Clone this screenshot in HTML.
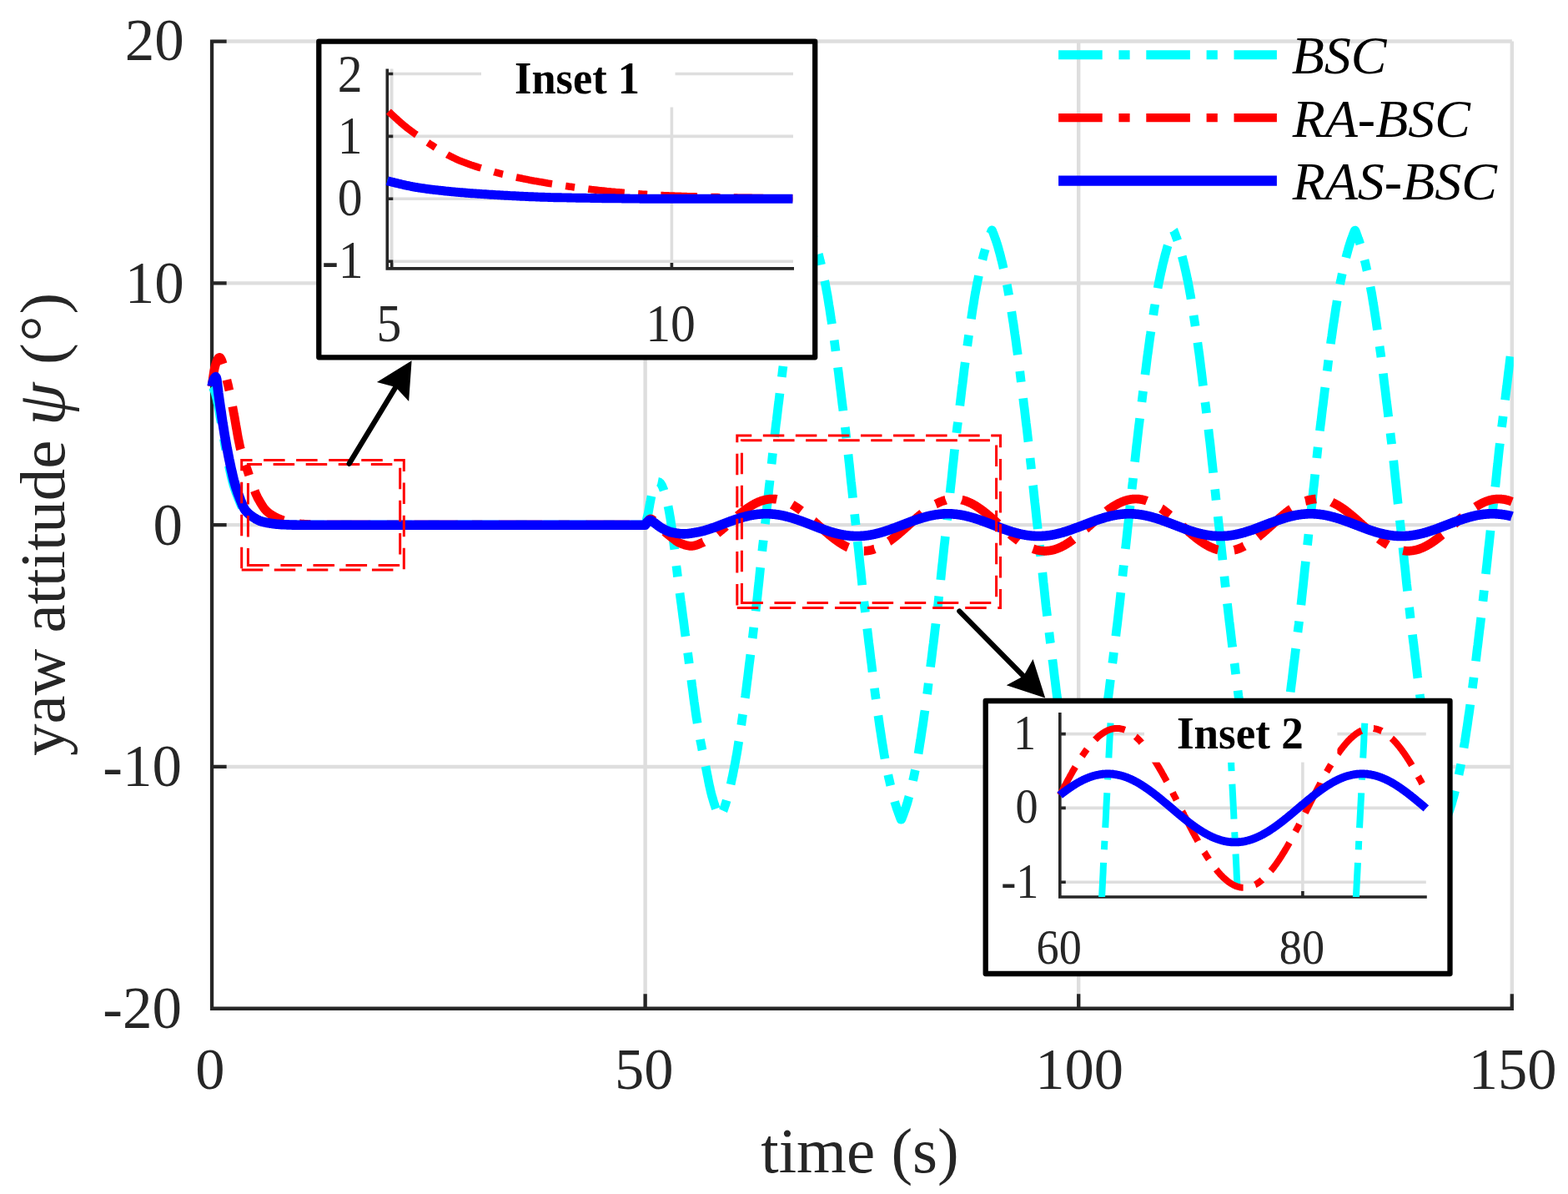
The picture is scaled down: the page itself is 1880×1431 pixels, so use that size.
<!DOCTYPE html>
<html lang="en"><head><meta charset="utf-8"><title>yaw attitude</title>
<style>html,body{margin:0;padding:0;background:#fff}svg{display:block}</style></head>
<body>
<svg width="1880" height="1431" viewBox="0 0 1880 1431" font-family="'Liberation Serif', 'Times New Roman', Times, serif">
<rect width="1880" height="1431" fill="#fff"/>
<clipPath id="cm"><rect x="247.05" y="47.57" width="1567.75" height="1161.18"/></clipPath>
<path d="M254.05 49.57H1812.80M254.05 339.36H1812.80M254.05 629.16H1812.80M254.05 918.95H1812.80M773.63 49.57V1208.75M1293.22 49.57V1208.75M1812.80 49.57V1208.75" stroke="#dedede" stroke-width="4.4" fill="none"/>
<path d="M254.05 47.42V1208.75M251.90 1208.75H1814.95M254.05 49.57h17.6M254.05 339.36h17.6M254.05 629.16h17.6M254.05 918.95h17.6M254.05 1208.75h17.6M254.05 1208.75v-17.6M773.63 1208.75v-17.6M1293.22 1208.75v-17.6M1812.80 1208.75v-17.6" stroke="#262626" stroke-width="4.3" fill="none"/>
<g clip-path="url(#cm)" fill="none" stroke-linejoin="round">
<path d="M254.1 463.1L254.6 463.6L255.1 464.2L255.6 465.1L256.1 466.1L256.6 467.2L257.2 468.3L257.7 469.7L258.2 471.4L258.7 473.3L259.2 475.4L259.8 477.6L260.3 479.9L260.8 482.3L261.3 484.8L261.8 487.5L262.4 490.4L262.9 493.3L263.4 496.3L263.9 499.4L264.4 502.5L265.0 505.5L265.5 508.6L266.0 511.5L266.5 514.5L267.0 517.5L267.6 520.6L268.1 523.7L268.6 526.9L269.1 530.0L269.6 533.0L270.2 536.0L270.7 539.0L271.2 541.8L271.7 544.5L272.2 547.2L272.8 549.9L273.3 552.5L273.8 555.1L274.3 557.6L274.8 560.2L275.4 562.6L275.9 565.1L276.4 567.4L276.9 569.7L277.4 571.9L278.0 574.0L278.5 576.0L279.0 577.9L279.5 579.7L280.0 581.4L280.5 583.1L281.1 584.7L281.6 586.3L282.1 587.8L282.6 589.2L283.1 590.6L283.7 592.0L284.2 593.4L284.7 594.7L285.2 596.0L285.7 597.3L286.3 598.6L286.8 599.9L287.3 601.2L287.8 602.5L288.3 603.7L288.9 604.9L289.4 606.1L289.9 607.2L290.4 608.2L290.9 609.1L291.5 610.0L292.0 610.8L292.5 611.5L293.0 612.1L293.5 612.7L294.1 613.3L294.6 613.8L295.1 614.3L295.6 614.8L296.1 615.3L296.7 615.7L297.2 616.1L297.7 616.5L298.2 616.9L298.7 617.3L299.3 617.7L299.8 618.0L300.3 618.3L300.8 618.7L301.3 619.0L301.9 619.3L302.4 619.6L302.9 619.9L303.4 620.1L303.9 620.4L304.4 620.6L305.0 620.8L305.5 621.1L306.0 621.3L306.5 621.6L307.0 621.9L307.6 622.2L308.1 622.5L308.6 622.8L309.1 623.1L309.6 623.3L310.2 623.6L310.7 623.9L311.2 624.1L311.7 624.3L312.2 624.4L312.8 624.6L313.3 624.8L313.8 624.9L314.3 625.1L314.8 625.2L315.4 625.4L315.9 625.5L316.4 625.7L316.9 625.8L317.4 625.9L318.0 626.0L318.5 626.1L319.0 626.2L319.5 626.4L320.0 626.5L320.6 626.6L321.1 626.6L321.6 626.7L322.1 626.8L322.6 626.9L323.2 627.0L323.7 627.1L324.2 627.2L324.7 627.2L325.2 627.3L325.8 627.4L326.3 627.5L326.8 627.5L327.3 627.6L327.8 627.7L328.4 627.8L328.9 627.8L329.4 627.9L329.9 628.0L330.4 628.0L330.9 628.1L331.5 628.1L332.0 628.2L332.5 628.2L333.0 628.3L333.5 628.3L334.1 628.4L334.6 628.4L335.1 628.5L335.6 628.5L336.1 628.5L336.7 628.6L337.2 628.6L337.7 628.6L338.2 628.6L338.7 628.7L339.3 628.7L339.8 628.7L340.3 628.7L340.8 628.7L341.3 628.8L341.9 628.8L342.4 628.8L342.9 628.8L343.4 628.8L343.9 628.9L344.5 628.9L345.0 628.9L345.5 628.9L346.0 628.9L346.5 629.0L347.1 629.0L347.6 629.0L348.1 629.0L348.6 629.0L349.1 629.0L349.7 629.0L350.2 629.1L350.7 629.1L351.2 629.1L351.7 629.1L352.3 629.1L352.8 629.1L353.3 629.1L353.8 629.1L354.3 629.1L354.8 629.1L355.4 629.1L355.9 629.2L356.4 629.2L356.9 629.2L357.4 629.2L358.0 629.2L358.5 629.2L359.0 629.2L359.5 629.2L360.0 629.2L360.6 629.2L361.1 629.2L361.6 629.2L362.1 629.2L362.6 629.2L363.2 629.2L363.7 629.2L364.2 629.2L364.7 629.2L365.2 629.2L365.8 629.2L366.3 629.2L366.8 629.2L367.3 629.2L367.8 629.2L368.4 629.2L368.9 629.2L369.4 629.2L369.9 629.2L370.4 629.2L371.0 629.2L371.5 629.2L372.0 629.2L372.5 629.2L373.0 629.2L373.6 629.2L374.1 629.2L374.6 629.2L375.1 629.2L375.6 629.2L376.2 629.2L376.7 629.2L377.2 629.2L377.7 629.2L378.2 629.2L378.8 629.2L399.5 629.2L420.3 629.2L441.1 629.2L461.9 629.2L482.7 629.2L503.5 629.2L524.2 629.2L545.0 629.2L565.8 629.2L586.6 629.2L607.4 629.2L628.2 629.2L648.9 629.2L669.7 629.2L690.5 629.2L711.3 629.2L732.1 629.2L752.9 629.2L772.6 629.2L773.1 629.2L773.6 629.2L774.2 627.3L774.7 625.3L775.2 623.3L775.7 621.2L776.2 619.1L776.8 616.8L777.3 614.4L777.8 611.7L778.3 608.9L778.8 606.0L779.3 603.1L779.9 600.3L780.4 597.6L780.9 595.2L781.4 592.9L781.9 591.0L782.5 589.3L783.0 587.6L783.5 586.0L784.0 584.6L784.5 583.2L785.1 582.1L785.6 581.1L786.1 580.1L786.6 579.2L787.1 578.3L787.7 577.7L788.2 577.3L788.7 577.3L789.2 577.4L789.7 577.6L790.3 577.9L790.8 578.2L791.3 578.6L791.8 579.1L792.3 579.8L792.9 580.6L793.4 581.5L793.9 582.5L794.4 583.6L794.9 584.9L795.5 586.2L796.0 587.7L796.5 589.3L797.0 591.0L797.5 592.8L798.1 594.6L798.6 596.6L799.1 598.7L799.6 600.8L800.1 603.0L800.7 605.2L801.2 607.5L801.7 610.0L802.2 612.6L802.7 615.4L803.2 618.4L803.8 621.6L804.3 625.0L804.8 628.5L805.3 632.1L805.8 635.9L806.4 639.7L806.9 643.6L807.4 647.6L807.9 651.7L808.4 655.8L809.0 659.9L809.5 664.3L810.0 669.0L810.5 674.0L811.0 678.9L811.6 683.6L812.1 688.0L812.6 692.1L813.1 696.1L813.6 700.1L814.2 703.9L814.7 707.8L815.2 711.8L815.7 715.7L816.2 719.7L816.8 723.6L817.3 727.6L817.8 731.5L818.3 735.4L818.8 739.4L819.4 743.3L819.9 747.2L820.4 751.1L820.9 755.1L821.4 759.0L822.0 762.9L822.5 766.8L823.0 770.7L823.5 774.5L824.0 778.4L824.6 782.3L825.1 786.1L825.6 790.0L826.1 793.9L826.6 797.8L827.2 801.7L827.7 805.7L828.2 809.7L828.7 813.7L829.2 817.7L829.7 821.7L830.3 825.7L830.8 829.7L831.3 833.6L831.8 837.5L832.3 841.3L832.9 845.1L833.4 848.8L833.9 852.5L834.4 856.0L834.9 859.5L835.5 862.8L836.0 866.1L836.5 869.3L837.0 872.3L837.5 875.3L838.1 878.3L838.6 881.1L839.1 883.9L839.6 886.7L840.1 889.4L840.7 892.1L841.2 894.8L841.7 897.4L842.2 900.0L842.7 902.5L843.3 905.1L843.8 907.6L844.3 910.2L844.8 912.7L845.3 915.3L845.9 917.8L846.4 920.4L846.9 923.0L847.4 925.6L847.9 928.3L848.5 930.9L849.0 933.6L849.5 936.2L850.0 938.7L850.5 941.2L851.1 943.6L851.6 946.0L852.1 948.2L852.6 950.3L853.1 952.2L853.6 954.2L854.2 956.0L854.7 957.8L855.2 959.6L855.7 961.3L856.2 962.9L856.8 964.5L857.3 966.1L857.8 967.6L858.3 969.1L858.8 970.5L859.4 972.0L859.9 973.4L860.4 974.7L860.9 975.9L861.4 976.9L862.0 977.9L862.5 978.8L863.0 979.2L863.5 978.9L864.0 978.1L864.6 977.2L865.1 976.3L865.6 975.2L866.1 974.0L866.6 972.7L867.2 971.4L867.7 970.0L868.2 968.6L868.7 967.1L869.2 965.6L869.8 964.0L870.3 962.3L870.8 960.6L871.3 958.9L871.8 957.1L872.4 955.2L872.9 953.3L873.4 951.4L873.9 949.4L874.4 947.4L875.0 945.2L875.5 943.0L876.0 940.7L876.5 938.4L877.0 936.0L877.5 933.6L878.1 931.1L878.6 928.6L879.1 926.0L879.6 923.4L880.1 920.8L880.7 918.1L881.2 915.4L881.7 912.7L882.2 909.9L882.7 907.0L883.3 904.0L883.8 900.9L884.3 897.8L884.8 894.5L885.3 891.3L885.9 887.9L886.4 884.6L886.9 881.2L887.4 877.8L887.9 874.4L888.5 870.9L889.0 867.4L889.5 863.8L890.0 860.3L890.5 856.6L891.1 853.0L891.6 849.3L892.1 845.5L892.6 841.7L893.1 837.9L893.7 834.0L894.2 830.1L894.7 826.1L895.2 822.0L895.7 817.8L896.3 813.6L896.8 809.4L897.3 805.1L897.8 800.8L898.3 796.6L898.9 792.3L899.4 788.1L899.9 783.9L900.4 779.7L900.9 775.4L901.5 771.2L902.0 766.9L902.5 762.7L903.0 758.4L903.5 754.1L904.0 749.8L904.6 745.4L905.1 741.0L905.6 736.6L906.1 732.1L906.6 727.6L907.2 723.0L907.7 718.4L908.2 713.7L908.7 708.8L909.2 703.9L909.8 699.0L910.3 694.0L910.8 689.0L911.3 684.0L911.8 679.1L912.4 674.2L912.9 669.3L913.4 664.5L913.9 659.7L914.4 654.9L915.0 650.1L915.5 645.3L916.0 640.6L916.5 635.8L917.0 631.1L917.6 626.3L918.1 621.6L918.6 616.8L919.1 612.1L919.6 607.3L920.2 602.5L920.7 597.7L921.2 592.9L921.7 588.0L922.2 583.2L922.8 578.3L923.3 573.3L923.8 568.3L924.3 563.3L924.8 558.4L925.4 553.4L925.9 548.5L926.4 543.7L926.9 539.0L927.4 534.4L927.9 529.8L928.5 525.3L929.0 520.8L929.5 516.4L930.0 512.0L930.5 507.7L931.1 503.4L931.6 499.1L932.1 494.8L932.6 490.5L933.1 486.3L933.7 482.1L934.2 477.8L934.7 473.6L935.2 469.4L935.7 465.2L936.3 460.9L936.8 456.7L937.3 452.4L937.8 448.1L938.3 443.9L938.9 439.6L939.4 435.5L939.9 431.4L940.4 427.4L940.9 423.5L941.5 419.7L942.0 415.8L942.5 412.1L943.0 408.3L943.5 404.6L944.1 401.0L944.6 397.3L945.1 393.8L945.6 390.2L946.1 386.7L946.7 383.3L947.2 379.8L947.7 376.4L948.2 373.1L948.7 369.7L949.3 366.4L949.8 363.1L950.3 359.9L950.8 356.8L951.3 353.7L951.9 350.7L952.4 347.8L952.9 345.1L953.4 342.3L953.9 339.7L954.4 337.1L955.0 334.6L955.5 332.1L956.0 329.7L956.5 327.3L957.0 325.0L957.6 322.7L958.1 320.4L958.6 318.2L959.1 316.0L959.6 313.8L960.2 311.7L960.7 309.6L961.2 307.6L961.7 305.6L962.2 303.6L962.8 301.7L963.3 299.8L963.8 298.0L964.3 296.2L964.8 294.4L965.4 292.7L965.9 291.1L966.4 289.5L966.9 288.0L967.4 286.6L968.0 285.1L968.5 283.7L969.0 282.3L969.5 280.9L970.0 279.6L970.6 278.2L971.1 276.7L971.6 276.0L972.1 276.4L972.6 277.8L973.2 279.3L973.7 280.6L974.2 281.9L974.7 283.3L975.2 284.8L975.8 286.2L976.3 287.7L976.8 289.2L977.3 290.7L977.8 292.3L978.3 294.0L978.9 295.7L979.4 297.5L979.9 299.4L980.4 301.2L980.9 303.2L981.5 305.1L982.0 307.1L982.5 309.1L983.0 311.2L983.5 313.3L984.1 315.4L984.6 317.6L985.1 319.9L985.6 322.1L986.1 324.4L986.7 326.8L987.2 329.1L987.7 331.5L988.2 334.0L988.7 336.5L989.3 339.1L989.8 341.7L990.3 344.4L990.8 347.2L991.3 350.0L991.9 353.0L992.4 356.0L992.9 359.2L993.4 362.4L993.9 365.6L994.5 368.9L995.0 372.3L995.5 375.6L996.0 379.0L996.5 382.4L997.1 385.9L997.6 389.4L998.1 392.9L998.6 396.5L999.1 400.1L999.7 403.7L1000.2 407.4L1000.7 411.2L1001.2 414.9L1001.7 418.7L1002.2 422.6L1002.8 426.5L1003.3 430.4L1003.8 434.5L1004.3 438.6L1004.8 442.8L1005.4 447.1L1005.9 451.4L1006.4 455.6L1006.9 459.9L1007.4 464.1L1008.0 468.4L1008.5 472.6L1009.0 476.8L1009.5 481.0L1010.0 485.3L1010.6 489.5L1011.1 493.8L1011.6 498.0L1012.1 502.3L1012.6 506.6L1013.2 511.0L1013.7 515.4L1014.2 519.8L1014.7 524.2L1015.2 528.7L1015.8 533.3L1016.3 537.9L1016.8 542.6L1017.3 547.4L1017.8 552.2L1018.4 557.2L1018.9 562.1L1019.4 567.1L1019.9 572.1L1020.4 577.1L1021.0 582.0L1021.5 586.9L1022.0 591.7L1022.5 596.5L1023.0 601.3L1023.6 606.1L1024.1 610.8L1024.6 615.6L1025.1 620.4L1025.6 625.1L1026.2 629.9L1026.7 634.7L1027.2 639.5L1027.7 644.2L1028.2 649.0L1028.7 653.8L1029.3 658.6L1029.8 663.4L1030.3 668.2L1030.8 673.0L1031.3 677.9L1031.9 682.8L1032.4 687.8L1032.9 692.8L1033.4 697.8L1033.9 702.7L1034.5 707.6L1035.0 712.5L1035.5 717.3L1036.0 721.9L1036.5 726.5L1037.1 731.0L1037.6 735.5L1038.1 740.0L1038.6 744.4L1039.1 748.7L1039.7 753.1L1040.2 757.4L1040.7 761.7L1041.2 765.9L1041.7 770.2L1042.3 774.4L1042.8 778.6L1043.3 782.9L1043.8 787.1L1044.3 791.3L1044.9 795.5L1045.4 799.8L1045.9 804.1L1046.4 808.3L1046.9 812.6L1047.5 816.8L1048.0 821.0L1048.5 825.1L1049.0 829.2L1049.5 833.1L1050.1 837.0L1050.6 840.8L1051.1 844.6L1051.6 848.4L1052.1 852.1L1052.6 855.7L1053.2 859.4L1053.7 863.0L1054.2 866.5L1054.7 870.1L1055.2 873.5L1055.8 877.0L1056.3 880.4L1056.8 883.8L1057.3 887.1L1057.8 890.5L1058.4 893.7L1058.9 897.0L1059.4 900.2L1059.9 903.3L1060.4 906.3L1061.0 909.2L1061.5 912.1L1062.0 914.8L1062.5 917.5L1063.0 920.1L1063.6 922.6L1064.1 925.1L1064.6 927.5L1065.1 929.9L1065.6 932.3L1066.2 934.6L1066.7 936.9L1067.2 939.2L1067.7 941.4L1068.2 943.6L1068.8 945.7L1069.3 947.8L1069.8 949.9L1070.3 951.9L1070.8 953.8L1071.4 955.8L1071.9 957.7L1072.4 959.6L1072.9 961.4L1073.4 963.1L1074.0 964.9L1074.5 966.5L1075.0 968.1L1075.5 969.6L1076.0 971.1L1076.6 972.6L1077.1 974.0L1077.6 975.4L1078.1 976.8L1078.6 978.2L1079.1 979.5L1079.7 981.0L1080.2 982.2L1080.7 982.2L1081.2 981.2L1081.7 979.7L1082.3 978.3L1082.8 977.0L1083.3 975.6L1083.8 974.2L1084.3 972.8L1084.9 971.3L1085.4 969.8L1085.9 968.3L1086.4 966.7L1086.9 965.1L1087.5 963.4L1088.0 961.6L1088.5 959.8L1089.0 957.9L1089.5 956.0L1090.1 954.1L1090.6 952.1L1091.1 950.1L1091.6 948.1L1092.1 946.0L1092.7 943.8L1093.2 941.7L1093.7 939.4L1094.2 937.2L1094.7 934.9L1095.3 932.6L1095.8 930.2L1096.3 927.8L1096.8 925.4L1097.3 922.9L1097.9 920.4L1098.4 917.8L1098.9 915.1L1099.4 912.4L1099.9 909.6L1100.5 906.7L1101.0 903.6L1101.5 900.5L1102.0 897.4L1102.5 894.1L1103.0 890.9L1103.6 887.5L1104.1 884.2L1104.6 880.8L1105.1 877.4L1105.6 874.0L1106.2 870.5L1106.7 867.0L1107.2 863.4L1107.7 859.8L1108.2 856.2L1108.8 852.5L1109.3 848.8L1109.8 845.1L1110.3 841.3L1110.8 837.4L1111.4 833.6L1111.9 829.6L1112.4 825.6L1112.9 821.5L1113.4 817.3L1114.0 813.1L1114.5 808.8L1115.0 804.6L1115.5 800.3L1116.0 796.0L1116.6 791.8L1117.1 787.6L1117.6 783.4L1118.1 779.1L1118.6 774.9L1119.2 770.7L1119.7 766.4L1120.2 762.2L1120.7 757.9L1121.2 753.6L1121.8 749.3L1122.3 744.9L1122.8 740.5L1123.3 736.1L1123.8 731.6L1124.4 727.1L1124.9 722.5L1125.4 717.8L1125.9 713.1L1126.4 708.2L1127.0 703.3L1127.5 698.4L1128.0 693.4L1128.5 688.4L1129.0 683.4L1129.5 678.5L1130.1 673.6L1130.6 668.7L1131.1 663.9L1131.6 659.1L1132.1 654.3L1132.7 649.5L1133.2 644.7L1133.7 640.0L1134.2 635.2L1134.7 630.5L1135.3 625.8L1135.8 621.0L1136.3 616.2L1136.8 611.5L1137.3 606.7L1137.9 601.9L1138.4 597.1L1138.9 592.3L1139.4 587.5L1139.9 582.6L1140.5 577.7L1141.0 572.7L1141.5 567.7L1142.0 562.7L1142.5 557.8L1143.1 552.8L1143.6 547.9L1144.1 543.1L1144.6 538.4L1145.1 533.8L1145.7 529.3L1146.2 524.8L1146.7 520.3L1147.2 515.9L1147.7 511.5L1148.3 507.2L1148.8 502.8L1149.3 498.5L1149.8 494.3L1150.3 490.0L1150.9 485.8L1151.4 481.5L1151.9 477.3L1152.4 473.1L1152.9 468.9L1153.4 464.6L1154.0 460.4L1154.5 456.1L1155.0 451.9L1155.5 447.6L1156.0 443.3L1156.6 439.1L1157.1 435.0L1157.6 430.9L1158.1 426.9L1158.6 423.1L1159.2 419.2L1159.7 415.4L1160.2 411.6L1160.7 407.9L1161.2 404.2L1161.8 400.5L1162.3 396.9L1162.8 393.3L1163.3 389.8L1163.8 386.3L1164.4 382.8L1164.9 379.4L1165.4 376.0L1165.9 372.7L1166.4 369.3L1167.0 366.0L1167.5 362.8L1168.0 359.5L1168.5 356.4L1169.0 353.3L1169.6 350.4L1170.1 347.5L1170.6 344.7L1171.1 342.0L1171.6 339.4L1172.2 336.8L1172.7 334.3L1173.2 331.8L1173.7 329.4L1174.2 327.1L1174.8 324.7L1175.3 322.4L1175.8 320.1L1176.3 317.9L1176.8 315.7L1177.3 313.5L1177.9 311.4L1178.4 309.4L1178.9 307.3L1179.4 305.3L1179.9 303.4L1180.5 301.5L1181.0 299.6L1181.5 297.7L1182.0 295.9L1182.5 294.2L1183.1 292.5L1183.6 290.9L1184.1 289.4L1184.6 287.8L1185.1 286.4L1185.7 284.9L1186.2 283.5L1186.7 282.1L1187.2 280.7L1187.7 279.4L1188.3 278.0L1188.8 276.6L1189.3 275.9L1189.8 276.6L1190.3 278.0L1190.9 279.4L1191.4 280.7L1191.9 282.1L1192.4 283.5L1192.9 284.9L1193.5 286.4L1194.0 287.8L1194.5 289.4L1195.0 290.9L1195.5 292.5L1196.1 294.2L1196.6 295.9L1197.1 297.7L1197.6 299.6L1198.1 301.5L1198.7 303.4L1199.2 305.3L1199.7 307.3L1200.2 309.4L1200.7 311.4L1201.3 313.5L1201.8 315.7L1202.3 317.9L1202.8 320.1L1203.3 322.4L1203.8 324.7L1204.4 327.1L1204.9 329.4L1205.4 331.8L1205.9 334.3L1206.4 336.8L1207.0 339.4L1207.5 342.0L1208.0 344.7L1208.5 347.5L1209.0 350.4L1209.6 353.3L1210.1 356.4L1210.6 359.5L1211.1 362.8L1211.6 366.0L1212.2 369.3L1212.7 372.7L1213.2 376.0L1213.7 379.4L1214.2 382.8L1214.8 386.3L1215.3 389.8L1215.8 393.3L1216.3 396.9L1216.8 400.5L1217.4 404.2L1217.9 407.9L1218.4 411.6L1218.9 415.4L1219.4 419.2L1220.0 423.1L1220.5 426.9L1221.0 430.9L1221.5 435.0L1222.0 439.1L1222.6 443.3L1223.1 447.6L1223.6 451.9L1224.1 456.1L1224.6 460.4L1225.2 464.6L1225.7 468.9L1226.2 473.1L1226.7 477.3L1227.2 481.5L1227.7 485.8L1228.3 490.0L1228.8 494.3L1229.3 498.5L1229.8 502.8L1230.3 507.2L1230.9 511.5L1231.4 515.9L1231.9 520.3L1232.4 524.8L1232.9 529.3L1233.5 533.8L1234.0 538.4L1234.5 543.1L1235.0 547.9L1235.5 552.8L1236.1 557.8L1236.6 562.7L1237.1 567.7L1237.6 572.7L1238.1 577.7L1238.7 582.6L1239.2 587.5L1239.7 592.3L1240.2 597.1L1240.7 601.9L1241.3 606.6L1241.8 611.4L1242.3 616.2L1242.8 620.9L1243.3 625.7L1243.9 630.5L1244.4 635.3L1244.9 640.0L1245.4 644.8L1245.9 649.6L1246.5 654.4L1247.0 659.1L1247.5 663.9L1248.0 668.7L1248.5 673.6L1249.1 678.5L1249.6 683.4L1250.1 688.4L1250.6 693.4L1251.1 698.4L1251.7 703.3L1252.2 708.2L1252.7 713.1L1253.2 717.8L1253.7 722.5L1254.2 727.1L1254.8 731.6L1255.3 736.1L1255.8 740.5L1256.3 744.9L1256.8 749.3L1257.4 753.6L1257.9 757.9L1258.4 762.2L1258.9 766.4L1259.4 770.7L1260.0 774.9L1260.5 779.1L1261.0 783.4L1261.5 787.6L1262.0 791.8L1262.6 796.0L1263.1 800.3L1263.6 804.6L1264.1 808.8L1264.6 813.1L1265.2 817.3L1265.7 821.5L1266.2 825.6L1266.7 829.6L1267.2 833.6L1267.8 837.4L1268.3 841.3L1268.8 845.1L1269.3 848.8L1269.8 852.5L1270.4 856.2L1270.9 859.8L1271.4 863.4L1271.9 867.0L1272.4 870.5L1273.0 874.0L1273.5 877.4L1274.0 880.8L1274.5 884.2L1275.0 887.5L1275.6 890.9L1276.1 894.1L1276.6 897.4L1277.1 900.5L1277.6 903.6L1278.1 906.7L1278.7 909.6L1279.2 912.4L1279.7 915.1L1280.2 917.8L1280.7 920.4L1281.3 922.9L1281.8 925.4L1282.3 927.8L1282.8 930.2L1283.3 932.6L1283.9 934.9L1284.4 937.2L1284.9 939.4L1285.4 941.7L1285.9 943.8L1286.5 946.0L1287.0 948.1L1287.5 950.1L1288.0 952.1L1288.5 954.1L1289.1 956.0L1289.6 957.9L1290.1 959.8L1290.6 961.6L1291.1 963.4L1291.7 965.1L1292.2 966.7L1292.7 968.3L1293.2 969.8L1293.7 971.3L1294.3 972.8L1294.8 974.2L1295.3 975.6L1295.8 977.0L1296.3 978.3L1296.9 979.7L1297.4 981.2L1297.9 982.2L1298.4 982.2L1298.9 981.0L1299.5 979.5L1300.0 978.2L1300.5 976.8L1301.0 975.4L1301.5 974.0L1302.0 972.6L1302.6 971.1L1303.1 969.6L1303.6 968.1L1304.1 966.5L1304.6 964.9L1305.2 963.1L1305.7 961.4L1306.2 959.6L1306.7 957.7L1307.2 955.8L1307.8 953.8L1308.3 951.9L1308.8 949.9L1309.3 947.8L1309.8 945.7L1310.4 943.6L1310.9 941.4L1311.4 939.2L1311.9 936.9L1312.4 934.6L1313.0 932.3L1313.5 929.9L1314.0 927.5L1314.5 925.1L1315.0 922.6L1315.6 920.1L1316.1 917.5L1316.6 914.8L1317.1 912.1L1317.6 909.2L1318.2 906.3L1318.7 903.3L1319.2 900.2L1319.7 897.0L1320.2 893.7L1320.8 890.5L1321.3 887.1L1321.8 883.8L1322.3 880.4L1322.8 877.0L1323.4 873.5L1323.9 870.1L1324.4 866.5L1324.9 863.0L1325.4 859.4L1326.0 855.7L1326.5 852.1L1327.0 848.4L1327.5 844.6L1328.0 840.8L1328.5 837.0L1329.1 833.1L1329.6 829.2L1330.1 825.1L1330.6 821.0L1331.1 816.8L1331.7 812.6L1332.2 808.3L1332.7 804.1L1333.2 799.8L1333.7 795.5L1334.3 791.3L1334.8 787.1L1335.3 782.9L1335.8 778.6L1336.3 774.4L1336.9 770.2L1337.4 765.9L1337.9 761.7L1338.4 757.4L1338.9 753.1L1339.5 748.7L1340.0 744.4L1340.5 740.0L1341.0 735.5L1341.5 731.0L1342.1 726.5L1342.6 721.9L1343.1 717.3L1343.6 712.5L1344.1 707.6L1344.7 702.7L1345.2 697.8L1345.7 692.8L1346.2 687.8L1346.7 682.8L1347.3 677.9L1347.8 673.0L1348.3 668.2L1348.8 663.3L1349.3 658.5L1349.9 653.7L1350.4 648.9L1350.9 644.2L1351.4 639.4L1351.9 634.7L1352.4 629.9L1353.0 625.2L1353.5 620.4L1354.0 615.7L1354.5 610.9L1355.0 606.1L1355.6 601.3L1356.1 596.5L1356.6 591.7L1357.1 586.9L1357.6 582.0L1358.2 577.1L1358.7 572.1L1359.2 567.1L1359.7 562.1L1360.2 557.2L1360.8 552.2L1361.3 547.4L1361.8 542.6L1362.3 537.9L1362.8 533.3L1363.4 528.7L1363.9 524.2L1364.4 519.8L1364.9 515.4L1365.4 511.0L1366.0 506.6L1366.5 502.3L1367.0 498.0L1367.5 493.8L1368.0 489.5L1368.6 485.3L1369.1 481.0L1369.6 476.8L1370.1 472.6L1370.6 468.4L1371.2 464.1L1371.7 459.9L1372.2 455.6L1372.7 451.4L1373.2 447.1L1373.8 442.8L1374.3 438.6L1374.8 434.5L1375.3 430.4L1375.8 426.5L1376.4 422.6L1376.9 418.7L1377.4 414.9L1377.9 411.2L1378.4 407.4L1378.9 403.7L1379.5 400.1L1380.0 396.5L1380.5 392.9L1381.0 389.4L1381.5 385.9L1382.1 382.4L1382.6 379.0L1383.1 375.6L1383.6 372.3L1384.1 368.9L1384.7 365.6L1385.2 362.4L1385.7 359.2L1386.2 356.0L1386.7 353.0L1387.3 350.0L1387.8 347.2L1388.3 344.4L1388.8 341.7L1389.3 339.1L1389.9 336.5L1390.4 334.0L1390.9 331.5L1391.4 329.1L1391.9 326.8L1392.5 324.4L1393.0 322.1L1393.5 319.9L1394.0 317.6L1394.5 315.4L1395.1 313.3L1395.6 311.2L1396.1 309.1L1396.6 307.1L1397.1 305.1L1397.7 303.2L1398.2 301.2L1398.7 299.4L1399.2 297.5L1399.7 295.7L1400.3 294.0L1400.8 292.3L1401.3 290.7L1401.8 289.2L1402.3 287.7L1402.8 286.2L1403.4 284.8L1403.9 283.3L1404.4 281.9L1404.9 280.6L1405.4 279.3L1406.0 277.8L1406.5 276.4L1407.0 276.0L1407.5 276.7L1408.0 278.2L1408.6 279.6L1409.1 280.9L1409.6 282.3L1410.1 283.7L1410.6 285.1L1411.2 286.6L1411.7 288.0L1412.2 289.5L1412.7 291.1L1413.2 292.7L1413.8 294.4L1414.3 296.2L1414.8 298.0L1415.3 299.8L1415.8 301.7L1416.4 303.6L1416.9 305.6L1417.4 307.6L1417.9 309.6L1418.4 311.7L1419.0 313.8L1419.5 316.0L1420.0 318.2L1420.5 320.4L1421.0 322.7L1421.6 325.0L1422.1 327.3L1422.6 329.7L1423.1 332.1L1423.6 334.6L1424.2 337.1L1424.7 339.7L1425.2 342.3L1425.7 345.1L1426.2 347.8L1426.7 350.7L1427.3 353.7L1427.8 356.8L1428.3 359.9L1428.8 363.1L1429.3 366.4L1429.9 369.7L1430.4 373.1L1430.9 376.4L1431.4 379.8L1431.9 383.3L1432.5 386.7L1433.0 390.2L1433.5 393.8L1434.0 397.3L1434.5 401.0L1435.1 404.6L1435.6 408.3L1436.1 412.1L1436.6 415.8L1437.1 419.7L1437.7 423.5L1438.2 427.4L1438.7 431.4L1439.2 435.5L1439.7 439.6L1440.3 443.9L1440.8 448.1L1441.3 452.4L1441.8 456.7L1442.3 460.9L1442.9 465.2L1443.4 469.4L1443.9 473.6L1444.4 477.8L1444.9 482.1L1445.5 486.3L1446.0 490.5L1446.5 494.8L1447.0 499.1L1447.5 503.4L1448.1 507.7L1448.6 512.0L1449.1 516.4L1449.6 520.8L1450.1 525.3L1450.7 529.8L1451.2 534.4L1451.7 539.0L1452.2 543.7L1452.7 548.5L1453.2 553.4L1453.8 558.4L1454.3 563.3L1454.8 568.3L1455.3 573.3L1455.8 578.3L1456.4 583.2L1456.9 588.0L1457.4 592.9L1457.9 597.7L1458.4 602.4L1459.0 607.2L1459.5 612.0L1460.0 616.8L1460.5 621.5L1461.0 626.3L1461.6 631.1L1462.1 635.9L1462.6 640.6L1463.1 645.4L1463.6 650.2L1464.2 654.9L1464.7 659.7L1465.2 664.5L1465.7 669.3L1466.2 674.2L1466.8 679.1L1467.3 684.0L1467.8 689.0L1468.3 694.0L1468.8 699.0L1469.4 703.9L1469.9 708.8L1470.4 713.7L1470.9 718.4L1471.4 723.0L1472.0 727.6L1472.5 732.1L1473.0 736.6L1473.5 741.0L1474.0 745.4L1474.6 749.8L1475.1 754.1L1475.6 758.4L1476.1 762.7L1476.6 766.9L1477.1 771.2L1477.7 775.4L1478.2 779.7L1478.7 783.9L1479.2 788.1L1479.7 792.3L1480.3 796.6L1480.8 800.8L1481.3 805.1L1481.8 809.4L1482.3 813.6L1482.9 817.8L1483.4 822.0L1483.9 826.1L1484.4 830.1L1484.9 834.0L1485.5 837.9L1486.0 841.7L1486.5 845.5L1487.0 849.3L1487.5 853.0L1488.1 856.6L1488.6 860.3L1489.1 863.8L1489.6 867.4L1490.1 870.9L1490.7 874.4L1491.2 877.8L1491.7 881.2L1492.2 884.6L1492.7 887.9L1493.3 891.3L1493.8 894.5L1494.3 897.8L1494.8 900.9L1495.3 904.0L1495.9 907.0L1496.4 909.9L1496.9 912.7L1497.4 915.4L1497.9 918.1L1498.5 920.7L1499.0 923.2L1499.5 925.7L1500.0 928.1L1500.5 930.5L1501.0 932.9L1501.6 935.2L1502.1 937.5L1502.6 939.7L1503.1 941.9L1503.6 944.1L1504.2 946.2L1504.7 948.3L1505.2 950.3L1505.7 952.4L1506.2 954.3L1506.8 956.2L1507.3 958.1L1507.8 960.0L1508.3 961.8L1508.8 963.6L1509.4 965.3L1509.9 966.9L1510.4 968.5L1510.9 970.0L1511.4 971.5L1512.0 972.9L1512.5 974.4L1513.0 975.8L1513.5 977.2L1514.0 978.5L1514.6 979.9L1515.1 981.4L1515.6 982.3L1516.1 982.1L1516.6 980.8L1517.2 979.3L1517.7 978.0L1518.2 976.7L1518.7 975.3L1519.2 973.8L1519.8 972.4L1520.3 970.9L1520.8 969.4L1521.3 967.9L1521.8 966.3L1522.4 964.7L1522.9 962.9L1523.4 961.2L1523.9 959.3L1524.4 957.5L1525.0 955.5L1525.5 953.6L1526.0 951.6L1526.5 949.6L1527.0 947.6L1527.5 945.5L1528.1 943.3L1528.6 941.1L1529.1 938.9L1529.6 936.6L1530.1 934.3L1530.7 932.0L1531.2 929.7L1531.7 927.3L1532.2 924.8L1532.7 922.3L1533.3 919.8L1533.8 917.1L1534.3 914.5L1534.8 911.7L1535.3 908.9L1535.9 905.9L1536.4 902.9L1536.9 899.8L1537.4 896.6L1537.9 893.3L1538.5 890.0L1539.0 886.7L1539.5 883.4L1540.0 880.0L1540.5 876.6L1541.1 873.1L1541.6 869.6L1542.1 866.1L1542.6 862.6L1543.1 858.9L1543.7 855.3L1544.2 851.6L1544.7 847.9L1545.2 844.1L1545.7 840.3L1546.3 836.5L1546.8 832.6L1547.3 828.7L1547.8 824.6L1548.3 820.5L1548.9 816.3L1549.4 812.1L1549.9 807.8L1550.4 803.5L1550.9 799.3L1551.4 795.0L1552.0 790.8L1552.5 786.6L1553.0 782.3L1553.5 778.1L1554.0 773.9L1554.6 769.7L1555.1 765.4L1555.6 761.1L1556.1 756.9L1556.6 752.5L1557.2 748.2L1557.7 743.8L1558.2 739.4L1558.7 735.0L1559.2 730.5L1559.8 725.9L1560.3 721.4L1560.8 716.7L1561.3 711.9L1561.8 707.1L1562.4 702.1L1562.9 697.2L1563.4 692.2L1563.9 687.2L1564.4 682.2L1565.0 677.3L1565.5 672.4L1566.0 667.6L1566.5 662.8L1567.0 657.9L1567.6 653.1L1568.1 648.4L1568.6 643.6L1569.1 638.8L1569.6 634.1L1570.2 629.3L1570.7 624.6L1571.2 619.9L1571.7 615.1L1572.2 610.3L1572.8 605.5L1573.3 600.7L1573.8 595.9L1574.3 591.1L1574.8 586.3L1575.4 581.4L1575.9 576.5L1576.4 571.5L1576.9 566.5L1577.4 561.5L1577.9 556.6L1578.5 551.6L1579.0 546.8L1579.5 542.0L1580.0 537.3L1580.5 532.7L1581.1 528.2L1581.6 523.7L1582.1 519.2L1582.6 514.8L1583.1 510.4L1583.7 506.1L1584.2 501.8L1584.7 497.5L1585.2 493.2L1585.7 489.0L1586.3 484.8L1586.8 480.5L1587.3 476.3L1587.8 472.1L1588.3 467.9L1588.9 463.6L1589.4 459.4L1589.9 455.1L1590.4 450.8L1590.9 446.6L1591.5 442.3L1592.0 438.1L1592.5 434.0L1593.0 429.9L1593.5 426.0L1594.1 422.1L1594.6 418.3L1595.1 414.5L1595.6 410.7L1596.1 407.0L1596.7 403.3L1597.2 399.7L1597.7 396.0L1598.2 392.5L1598.7 388.9L1599.3 385.5L1599.8 382.0L1600.3 378.6L1600.8 375.2L1601.3 371.9L1601.8 368.5L1602.4 365.2L1602.9 362.0L1603.4 358.8L1603.9 355.7L1604.4 352.6L1605.0 349.7L1605.5 346.8L1606.0 344.1L1606.5 341.4L1607.0 338.8L1607.6 336.2L1608.1 333.7L1608.6 331.3L1609.1 328.8L1609.6 326.5L1610.2 324.2L1610.7 321.9L1611.2 319.6L1611.7 317.4L1612.2 315.2L1612.8 313.0L1613.3 310.9L1613.8 308.9L1614.3 306.8L1614.8 304.9L1615.4 302.9L1615.9 301.0L1616.4 299.1L1616.9 297.3L1617.4 295.5L1618.0 293.8L1618.5 292.1L1619.0 290.5L1619.5 289.0L1620.0 287.5L1620.6 286.0L1621.1 284.6L1621.6 283.2L1622.1 281.8L1622.6 280.4L1623.2 279.1L1623.7 277.6L1624.2 276.3L1624.7 276.0L1625.2 276.9L1625.8 278.3L1626.3 279.7L1626.8 281.1L1627.3 282.4L1627.8 283.9L1628.3 285.3L1628.9 286.7L1629.4 288.2L1629.9 289.7L1630.4 291.3L1630.9 292.9L1631.5 294.6L1632.0 296.4L1632.5 298.2L1633.0 300.0L1633.5 301.9L1634.1 303.9L1634.6 305.8L1635.1 307.8L1635.6 309.9L1636.1 311.9L1636.7 314.1L1637.2 316.2L1637.7 318.4L1638.2 320.7L1638.7 323.0L1639.3 325.3L1639.8 327.6L1640.3 330.0L1640.8 332.4L1641.3 334.9L1641.9 337.4L1642.4 340.0L1642.9 342.7L1643.4 345.4L1643.9 348.2L1644.5 351.1L1645.0 354.1L1645.5 357.2L1646.0 360.3L1646.5 363.5L1647.1 366.8L1647.6 370.1L1648.1 373.5L1648.6 376.8L1649.1 380.2L1649.7 383.7L1650.2 387.1L1650.7 390.7L1651.2 394.2L1651.7 397.8L1652.2 401.4L1652.8 405.1L1653.3 408.8L1653.8 412.5L1654.3 416.3L1654.8 420.1L1655.4 424.0L1655.9 427.9L1656.4 431.9L1656.9 436.0L1657.4 440.2L1658.0 444.4L1658.5 448.6L1659.0 452.9L1659.5 457.2L1660.0 461.4L1660.6 465.7L1661.1 469.9L1661.6 474.1L1662.1 478.3L1662.6 482.6L1663.2 486.8L1663.7 491.0L1664.2 495.3L1664.7 499.6L1665.2 503.9L1665.8 508.2L1666.3 512.6L1666.8 517.0L1667.3 521.4L1667.8 525.9L1668.4 530.4L1668.9 534.9L1669.4 539.6L1669.9 544.3L1670.4 549.1L1671.0 554.0L1671.5 559.0L1672.0 564.0L1672.5 568.9L1673.0 573.9L1673.6 578.9L1674.1 583.8L1674.6 588.6L1675.1 593.4L1675.6 598.2L1676.1 603.0L1676.7 607.8L1677.2 612.6L1677.7 617.3L1678.2 622.1L1678.7 626.9L1679.3 631.7L1679.8 636.4L1680.3 641.2L1680.8 646.0L1681.3 650.7L1681.9 655.5L1682.4 660.3L1682.9 665.1L1683.4 669.9L1683.9 674.8L1684.5 679.7L1685.0 684.6L1685.5 689.6L1686.0 694.6L1686.5 699.6L1687.1 704.5L1687.6 709.4L1688.1 714.2L1688.6 719.0L1689.1 723.6L1689.7 728.2L1690.2 732.7L1690.7 737.1L1691.2 741.6L1691.7 746.0L1692.3 750.3L1692.8 754.6L1693.3 758.9L1693.8 763.2L1694.3 767.5L1694.9 771.7L1695.4 775.9L1695.9 780.2L1696.4 784.4L1696.9 788.6L1697.5 792.8L1698.0 797.1L1698.5 801.3L1699.0 805.6L1699.5 809.9L1700.1 814.1L1700.6 818.4L1701.1 822.5L1701.6 826.6L1702.1 830.6L1702.6 834.5L1703.2 838.4L1703.7 842.2L1704.2 846.0L1704.7 849.7L1705.2 853.4L1705.8 857.1L1706.3 860.7L1706.8 864.3L1707.3 867.8L1707.8 871.3L1708.4 874.8L1708.9 878.2L1709.4 881.6L1709.9 885.0L1710.4 888.3L1711.0 891.6L1711.5 894.9L1712.0 898.1L1712.5 901.3L1713.0 904.4L1713.6 907.4L1714.1 910.3L1714.6 913.1L1715.1 915.8L1715.6 918.4L1716.2 921.0L1716.7 923.5L1717.2 926.0L1717.7 928.4L1718.2 930.8L1718.8 933.1L1719.3 935.5L1719.8 937.7L1720.3 940.0L1720.8 942.2L1721.4 944.4L1721.9 946.5L1722.4 948.6L1722.9 950.6L1723.4 952.6L1724.0 954.5L1724.5 956.5L1725.0 958.4L1725.5 960.2L1726.0 962.0L1726.5 963.8L1727.1 965.5L1727.6 967.1L1728.1 968.7L1728.6 970.2L1729.1 971.7L1729.7 973.1L1730.2 974.5L1730.7 975.9L1731.2 977.3L1731.7 978.6L1732.3 980.0L1732.8 981.5L1733.3 982.4L1733.8 982.0L1734.3 980.7L1734.9 979.1L1735.4 977.9L1735.9 976.5L1736.4 975.1L1736.9 973.7L1737.5 972.2L1738.0 970.8L1738.5 969.3L1739.0 967.7L1739.5 966.1L1740.1 964.5L1740.6 962.7L1741.1 960.9L1741.6 959.1L1742.1 957.2L1742.7 955.3L1743.2 953.4L1743.7 951.4L1744.2 949.4L1744.7 947.3L1745.3 945.2L1745.8 943.0L1746.3 940.9L1746.8 938.6L1747.3 936.4L1747.9 934.1L1748.4 931.7L1748.9 929.4L1749.4 927.0L1749.9 924.5L1750.5 922.0L1751.0 919.4L1751.5 916.8L1752.0 914.1L1752.5 911.4L1753.0 908.5L1753.6 905.6L1754.1 902.5L1754.6 899.4L1755.1 896.2L1755.6 892.9L1756.2 889.6L1756.7 886.3L1757.2 883.0L1757.7 879.6L1758.2 876.2L1758.8 872.7L1759.3 869.2L1759.8 865.7L1760.3 862.1L1760.8 858.5L1761.4 854.9L1761.9 851.2L1762.4 847.5L1762.9 843.7L1763.4 839.9L1764.0 836.0L1764.5 832.1L1765.0 828.2L1765.5 824.1L1766.0 820.0L1766.6 815.8L1767.1 811.6L1767.6 807.3L1768.1 803.0L1768.6 798.8L1769.2 794.5L1769.7 790.3L1770.2 786.1L1770.7 781.8L1771.2 777.6L1771.8 773.4L1772.3 769.1L1772.8 764.9L1773.3 760.6L1773.8 756.3L1774.4 752.0L1774.9 747.7L1775.4 743.3L1775.9 738.9L1776.4 734.4L1776.9 729.9L1777.5 725.4L1778.0 720.8L1778.5 716.1L1779.0 711.3L1779.5 706.5L1780.1 701.5L1780.6 696.6L1781.1 691.6L1781.6 686.6L1782.1 681.6L1782.7 676.7L1783.2 671.8L1783.7 667.0L1784.2 662.2L1784.7 657.4L1785.3 652.6L1785.8 647.8L1786.3 643.0L1786.8 638.3L1787.3 633.5L1787.9 628.8L1788.4 624.0L1788.9 619.3L1789.4 614.5L1789.9 609.7L1790.5 605.0L1791.0 600.2L1791.5 595.4L1792.0 590.5L1792.5 585.7L1793.1 580.8L1793.6 575.9L1794.1 570.9L1794.6 565.9L1795.1 560.9L1795.7 556.0L1796.2 551.0L1796.7 546.2L1797.2 541.4L1797.7 536.8L1798.3 532.2L1798.8 527.6L1799.3 523.1L1799.8 518.7L1800.3 514.3L1800.8 509.9L1801.4 505.6L1801.9 501.3L1802.4 497.0L1802.9 492.7L1803.4 488.5L1804.0 484.2L1804.5 480.0L1805.0 475.8L1805.5 471.6L1806.0 467.3L1806.6 463.1L1807.1 458.9L1807.6 454.6L1808.1 450.3L1808.6 446.1L1809.2 441.8L1809.7 437.6L1810.2 433.5L1810.7 429.5L1811.2 425.5L1811.8 421.6L1812.3 417.8L1812.8 414.0" stroke="#00ffff" stroke-width="10.7" stroke-dasharray="52.50 19.65 13.21 19.65" stroke-dashoffset="7.2"/>
<path d="M254.1 463.1L254.6 459.0L255.1 455.1L255.6 451.4L256.1 447.9L256.6 444.8L257.2 442.0L257.7 439.7L258.2 437.9L258.7 436.3L259.2 434.8L259.8 433.4L260.3 432.1L260.8 430.9L261.3 430.0L261.8 429.2L262.4 428.6L262.9 428.4L263.4 428.4L263.9 428.7L264.4 429.3L265.0 430.1L265.5 431.2L266.0 432.5L266.5 434.0L267.0 435.6L267.6 437.4L268.1 439.3L268.6 441.3L269.1 443.4L269.6 445.6L270.2 447.8L270.7 450.1L271.2 452.3L271.7 454.5L272.2 456.7L272.8 458.9L273.3 460.9L273.8 463.0L274.3 465.3L274.8 467.6L275.4 470.1L275.9 472.6L276.4 475.2L276.9 477.8L277.4 480.4L278.0 483.1L278.5 485.7L279.0 488.3L279.5 491.0L280.0 493.7L280.5 496.6L281.1 499.5L281.6 502.4L282.1 505.4L282.6 508.4L283.1 511.4L283.7 514.4L284.2 517.4L284.7 520.3L285.2 523.1L285.7 525.9L286.3 528.5L286.8 531.1L287.3 533.5L287.8 535.8L288.3 537.9L288.9 539.9L289.4 541.7L289.9 543.6L290.4 545.3L290.9 547.0L291.5 548.6L292.0 550.2L292.5 551.7L293.0 553.3L293.5 554.7L294.1 556.2L294.6 557.7L295.1 559.2L295.6 560.6L296.1 562.1L296.7 563.7L297.2 565.2L297.7 566.8L298.2 568.3L298.7 569.9L299.3 571.4L299.8 573.0L300.3 574.5L300.8 576.0L301.3 577.6L301.9 579.1L302.4 580.5L302.9 582.0L303.4 583.4L303.9 584.8L304.4 586.2L305.0 587.5L305.5 588.8L306.0 590.0L306.5 591.2L307.0 592.4L307.6 593.6L308.1 594.7L308.6 595.8L309.1 596.8L309.6 597.8L310.2 598.7L310.7 599.6L311.2 600.5L311.7 601.4L312.2 602.3L312.8 603.2L313.3 604.1L313.8 604.9L314.3 605.7L314.8 606.5L315.4 607.3L315.9 608.0L316.4 608.8L316.9 609.5L317.4 610.1L318.0 610.7L318.5 611.3L319.0 611.9L319.5 612.4L320.0 612.8L320.6 613.3L321.1 613.7L321.6 614.2L322.1 614.6L322.6 615.0L323.2 615.4L323.7 615.8L324.2 616.1L324.7 616.5L325.2 616.8L325.8 617.2L326.3 617.5L326.8 617.8L327.3 618.1L327.8 618.5L328.4 618.7L328.9 619.0L329.4 619.3L329.9 619.6L330.4 619.8L330.9 620.1L331.5 620.4L332.0 620.6L332.5 620.8L333.0 621.1L333.5 621.3L334.1 621.5L334.6 621.7L335.1 622.0L335.6 622.2L336.1 622.4L336.7 622.6L337.2 622.8L337.7 623.0L338.2 623.2L338.7 623.4L339.3 623.6L339.8 623.8L340.3 623.9L340.8 624.1L341.3 624.3L341.9 624.4L342.4 624.6L342.9 624.8L343.4 624.9L343.9 625.1L344.5 625.2L345.0 625.3L345.5 625.5L346.0 625.6L346.5 625.7L347.1 625.9L347.6 626.0L348.1 626.1L348.6 626.2L349.1 626.3L349.7 626.4L350.2 626.5L350.7 626.6L351.2 626.7L351.7 626.8L352.3 626.9L352.8 627.0L353.3 627.1L353.8 627.2L354.3 627.3L354.8 627.3L355.4 627.4L355.9 627.5L356.4 627.6L356.9 627.6L357.4 627.7L358.0 627.7L358.5 627.8L359.0 627.8L359.5 627.8L360.0 627.9L360.6 627.9L361.1 628.0L361.6 628.0L362.1 628.0L362.6 628.1L363.2 628.1L363.7 628.1L364.2 628.2L364.7 628.2L365.2 628.3L365.8 628.3L366.3 628.3L366.8 628.3L367.3 628.4L367.8 628.4L368.4 628.4L368.9 628.5L369.4 628.5L369.9 628.5L370.4 628.5L371.0 628.6L371.5 628.6L372.0 628.6L372.5 628.6L373.0 628.6L373.6 628.7L374.1 628.7L374.6 628.7L375.1 628.7L375.6 628.7L376.2 628.8L376.7 628.8L377.2 628.8L377.7 628.8L378.2 628.8L378.8 628.8L399.5 629.1L420.3 629.2L441.1 629.2L461.9 629.2L482.7 629.2L503.5 629.2L524.2 629.2L545.0 629.2L565.8 629.2" stroke="#ff0000" stroke-width="10.7" stroke-dasharray="52.30 19.57 13.16 19.57" stroke-dashoffset="6.5"/>
<path d="M565.8 629.2L586.6 629.2L607.4 629.2L628.2 629.2L648.9 629.2L669.7 629.2L690.5 629.2L711.3 629.2L732.1 629.2L752.9 629.2L772.6 629.2L773.1 629.2L773.6 629.2L774.2 628.2L774.7 627.3L775.2 626.5L775.7 625.8L776.2 625.1L776.8 624.5L777.3 623.9L777.8 623.3L778.3 622.7L778.8 622.3L779.3 622.0L779.9 621.9L780.4 622.0L780.9 622.1L781.4 622.4L781.9 622.7L782.5 623.0L783.0 623.4L783.5 623.9L784.0 624.4L784.5 624.9L785.1 625.3L785.6 625.8L786.1 626.3L786.6 626.7L787.1 627.2L787.7 627.7L788.2 628.2L788.7 628.8L789.2 629.3L789.7 629.9L790.3 630.5L790.8 631.1L791.3 631.7L791.8 632.3L792.3 632.8L792.9 633.4L793.4 633.9L793.9 634.5L794.4 635.0L794.9 635.4L795.5 635.9L796.0 636.4L796.5 636.8L797.0 637.3L797.5 637.8L798.1 638.2L798.6 638.7L799.1 639.1L799.6 639.5L800.1 640.0L800.7 640.4L801.2 640.8L801.7 641.2L802.2 641.6L802.7 642.0L803.2 642.5L803.8 642.9L804.3 643.3L804.8 643.6L805.3 644.0L805.8 644.5L806.4 644.9L806.9 645.3L807.4 645.7L807.9 646.1L808.4 646.5L809.0 647.0L809.5 647.4L810.0 647.8L810.5 648.2L811.0 648.5L811.6 648.9L812.1 649.2L812.6 649.6L813.1 649.9L813.6 650.2L814.2 650.4L814.7 650.7L815.2 650.9L815.7 651.1L816.2 651.3L816.8 651.5L817.3 651.7L817.8 651.9L818.3 652.1L818.8 652.3L819.4 652.4L819.9 652.6L820.4 652.8L820.9 653.0L821.4 653.1L822.0 653.3L822.5 653.4L823.0 653.6L823.5 653.7L824.0 653.8L824.6 653.9L825.1 654.0L825.6 654.1L826.1 654.2L826.6 654.3L827.2 654.3L827.7 654.3L828.2 654.4L828.7 654.4L829.2 654.4L829.7 654.3L830.3 654.3L830.8 654.2L831.3 654.2L831.8 654.1L832.3 654.0L832.9 653.9L833.4 653.7L833.9 653.6L834.4 653.4L834.9 653.3L835.5 653.1L836.0 652.9L836.5 652.7L837.0 652.6L837.5 652.3L838.1 652.1L838.6 651.9L839.1 651.7L839.6 651.5L840.1 651.2L840.7 651.0L841.2 650.7L841.7 650.5L842.2 650.3L842.7 650.0L843.3 649.8L843.8 649.5L844.3 649.3L844.8 649.0L845.3 648.8L845.9 648.5L846.4 648.3L846.9 648.0L847.4 647.8L847.9 647.5L848.5 647.2L849.0 647.0L849.5 646.7L850.0 646.4L850.5 646.1L851.1 645.7L851.6 645.4L852.1 645.1L852.6 644.7L853.1 644.4L853.6 644.0L854.2 643.7L854.7 643.3L855.2 642.9L855.7 642.6L856.2 642.2L856.8 641.8L857.3 641.4L857.8 641.0L858.3 640.6L858.8 640.2L859.4 639.8L859.9 639.4L860.4 639.0L860.9 638.6L861.4 638.1L862.0 637.7L862.5 637.3L863.0 636.9L863.5 636.5L864.0 636.0L864.6 635.6L865.1 635.2L865.6 634.8L866.1 634.3L866.6 633.9L867.2 633.5L867.7 633.0L868.2 632.6L868.7 632.1L869.2 631.6L869.8 631.2L870.3 630.7L870.8 630.2L871.3 629.8L871.8 629.3L872.4 628.8L872.9 628.4L873.4 627.9L873.9 627.4L874.4 627.0L875.0 626.5L875.5 626.0L876.0 625.6L876.5 625.1L877.0 624.6L877.5 624.2L878.1 623.7L878.6 623.3L879.1 622.8L879.6 622.3L880.1 621.9L880.7 621.4L881.2 621.0L881.7 620.5L882.2 620.1L882.7 619.6L883.3 619.2L883.8 618.7L884.3 618.3L884.8 617.9L885.3 617.4L885.9 617.0L886.4 616.6L886.9 616.2L887.4 615.7L887.9 615.3L888.5 614.9L889.0 614.5L889.5 614.1L890.0 613.7L890.5 613.3L891.1 612.9L891.6 612.5L892.1 612.1L892.6 611.7L893.1 611.3L893.7 610.9L894.2 610.5L894.7 610.2L895.2 609.8L895.7 609.4L896.3 609.1L896.8 608.7L897.3 608.4L897.8 608.0L898.3 607.7L898.9 607.3L899.4 607.0L899.9 606.7L900.4 606.4L900.9 606.0L901.5 605.7L902.0 605.4L902.5 605.1L903.0 604.8L903.5 604.5L904.0 604.3L904.6 604.0L905.1 603.7L905.6 603.4L906.1 603.2L906.6 602.9L907.2 602.7L907.7 602.4L908.2 602.2L908.7 602.0L909.2 601.7L909.8 601.5L910.3 601.3L910.8 601.1L911.3 600.9L911.8 600.7L912.4 600.5L912.9 600.3L913.4 600.2L913.9 600.0L914.4 599.8L915.0 599.7L915.5 599.5L916.0 599.4L916.5 599.3L917.0 599.1L917.6 599.0L918.1 598.9L918.6 598.8L919.1 598.7L919.6 598.6L920.2 598.5L920.7 598.4L921.2 598.4L921.7 598.3L922.2 598.2L922.8 598.2L923.3 598.1L923.8 598.1L924.3 598.1L924.8 598.0L925.4 598.0L925.9 598.0L926.4 598.0L926.9 598.0L927.4 598.0L927.9 598.0L928.5 598.1L929.0 598.1L929.5 598.1L930.0 598.2L930.5 598.2L931.1 598.3L931.6 598.4L932.1 598.4L932.6 598.5L933.1 598.6L933.7 598.7L934.2 598.8L934.7 598.9L935.2 599.0L935.7 599.1L936.3 599.3L936.8 599.4L937.3 599.5L937.8 599.7L938.3 599.8L938.9 600.0L939.4 600.2L939.9 600.3L940.4 600.5L940.9 600.7L941.5 600.9L942.0 601.1L942.5 601.3L943.0 601.5L943.5 601.7L944.1 602.0L944.6 602.2L945.1 602.4L945.6 602.7L946.1 602.9L946.7 603.2L947.2 603.4L947.7 603.7L948.2 604.0L948.7 604.3L949.3 604.5L949.8 604.8L950.3 605.1L950.8 605.4L951.3 605.7L951.9 606.0L952.4 606.4L952.9 606.7L953.4 607.0L953.9 607.3L954.4 607.7L955.0 608.0L955.5 608.4L956.0 608.7L956.5 609.1L957.0 609.4L957.6 609.8L958.1 610.2L958.6 610.5L959.1 610.9L959.6 611.3L960.2 611.7L960.7 612.1L961.2 612.5L961.7 612.9L962.2 613.3L962.8 613.7L963.3 614.1L963.8 614.5L964.3 614.9L964.8 615.3L965.4 615.7L965.9 616.2L966.4 616.6L966.9 617.0L967.4 617.4L968.0 617.9L968.5 618.3L969.0 618.7L969.5 619.2L970.0 619.6L970.6 620.1L971.1 620.5L971.6 621.0L972.1 621.4L972.6 621.9L973.2 622.3L973.7 622.8L974.2 623.3L974.7 623.7L975.2 624.2L975.8 624.6L976.3 625.1L976.8 625.6L977.3 626.0L977.8 626.5L978.3 627.0L978.9 627.4L979.4 627.9L979.9 628.4L980.4 628.8L980.9 629.3L981.5 629.8L982.0 630.2L982.5 630.7L983.0 631.2L983.5 631.6L984.1 632.1L984.6 632.6L985.1 633.0L985.6 633.5L986.1 633.9L986.7 634.4L987.2 634.9L987.7 635.3L988.2 635.8L988.7 636.2L989.3 636.7L989.8 637.1L990.3 637.6L990.8 638.0L991.3 638.5L991.9 638.9L992.4 639.4L992.9 639.8L993.4 640.3L993.9 640.7L994.5 641.1L995.0 641.6L995.5 642.0L996.0 642.4L996.5 642.8L997.1 643.2L997.6 643.7L998.1 644.1L998.6 644.5L999.1 644.9L999.7 645.3L1000.2 645.7L1000.7 646.1L1001.2 646.5L1001.7 646.9L1002.2 647.2L1002.8 647.6L1003.3 648.0L1003.8 648.4L1004.3 648.7L1004.8 649.1L1005.4 649.4L1005.9 649.8L1006.4 650.1L1006.9 650.5L1007.4 650.8L1008.0 651.2L1008.5 651.5L1009.0 651.8L1009.5 652.1L1010.0 652.4L1010.6 652.8L1011.1 653.1L1011.6 653.4L1012.1 653.6L1012.6 653.9L1013.2 654.2L1013.7 654.5L1014.2 654.8L1014.7 655.0L1015.2 655.3L1015.8 655.5L1016.3 655.8L1016.8 656.0L1017.3 656.2L1017.8 656.5L1018.4 656.7L1018.9 656.9L1019.4 657.1L1019.9 657.3L1020.4 657.5L1021.0 657.7L1021.5 657.9L1022.0 658.1L1022.5 658.2L1023.0 658.4L1023.6 658.6L1024.1 658.7L1024.6 658.9L1025.1 659.0L1025.6 659.1L1026.2 659.3L1026.7 659.4L1027.2 659.5L1027.7 659.6L1028.2 659.7L1028.7 659.8L1029.3 659.9L1029.8 659.9L1030.3 660.0L1030.8 660.1L1031.3 660.1L1031.9 660.2L1032.4 660.2L1032.9 660.2L1033.4 660.3L1033.9 660.3L1034.5 660.3L1035.0 660.3L1035.5 660.3L1036.0 660.3L1036.5 660.3L1037.1 660.3L1037.6 660.2L1038.1 660.2L1038.6 660.2L1039.1 660.1L1039.7 660.1L1040.2 660.0L1040.7 659.9L1041.2 659.8L1041.7 659.8L1042.3 659.7L1042.8 659.6L1043.3 659.5L1043.8 659.4L1044.3 659.2L1044.9 659.1L1045.4 659.0L1045.9 658.8L1046.4 658.7L1046.9 658.5L1047.5 658.4L1048.0 658.2L1048.5 658.1L1049.0 657.9L1049.5 657.7L1050.1 657.5L1050.6 657.3L1051.1 657.1L1051.6 656.9L1052.1 656.7L1052.6 656.4L1053.2 656.2L1053.7 656.0L1054.2 655.7L1054.7 655.5L1055.2 655.2L1055.8 655.0L1056.3 654.7L1056.8 654.5L1057.3 654.2L1057.8 653.9L1058.4 653.6L1058.9 653.3L1059.4 653.0L1059.9 652.7L1060.4 652.4L1061.0 652.1L1061.5 651.8L1062.0 651.5L1062.5 651.1L1063.0 650.8L1063.6 650.4L1064.1 650.1L1064.6 649.8L1065.1 649.4L1065.6 649.0L1066.2 648.7L1066.7 648.3L1067.2 647.9L1067.7 647.6L1068.2 647.2L1068.8 646.8L1069.3 646.4L1069.8 646.0L1070.3 645.6L1070.8 645.2L1071.4 644.8L1071.9 644.4L1072.4 644.0L1072.9 643.6L1073.4 643.2L1074.0 642.8L1074.5 642.4L1075.0 641.9L1075.5 641.5L1076.0 641.1L1076.6 640.6L1077.1 640.2L1077.6 639.8L1078.1 639.3L1078.6 638.9L1079.1 638.4L1079.7 638.0L1080.2 637.5L1080.7 637.1L1081.2 636.6L1081.7 636.2L1082.3 635.7L1082.8 635.3L1083.3 634.8L1083.8 634.4L1084.3 633.9L1084.9 633.4L1085.4 633.0L1085.9 632.5L1086.4 632.0L1086.9 631.6L1087.5 631.1L1088.0 630.6L1088.5 630.2L1089.0 629.7L1089.5 629.2L1090.1 628.8L1090.6 628.3L1091.1 627.8L1091.6 627.4L1092.1 626.9L1092.7 626.4L1093.2 626.0L1093.7 625.5L1094.2 625.0L1094.7 624.6L1095.3 624.1L1095.8 623.7L1096.3 623.2L1096.8 622.7L1097.3 622.3L1097.9 621.8L1098.4 621.4L1098.9 620.9L1099.4 620.5L1099.9 620.0L1100.5 619.6L1101.0 619.1L1101.5 618.7L1102.0 618.3L1102.5 617.8L1103.0 617.4L1103.6 617.0L1104.1 616.5L1104.6 616.1L1105.1 615.7L1105.6 615.3L1106.2 614.8L1106.7 614.4L1107.2 614.0L1107.7 613.6L1108.2 613.2L1108.8 612.8L1109.3 612.4L1109.8 612.0L1110.3 611.6L1110.8 611.2L1111.4 610.9L1111.9 610.5L1112.4 610.1L1112.9 609.8L1113.4 609.4L1114.0 609.0L1114.5 608.7L1115.0 608.3L1115.5 608.0L1116.0 607.6L1116.6 607.3L1117.1 607.0L1117.6 606.6L1118.1 606.3L1118.6 606.0L1119.2 605.7L1119.7 605.4L1120.2 605.1L1120.7 604.8L1121.2 604.5L1121.8 604.2L1122.3 604.0L1122.8 603.7L1123.3 603.4L1123.8 603.2L1124.4 602.9L1124.9 602.7L1125.4 602.4L1125.9 602.2L1126.4 601.9L1127.0 601.7L1127.5 601.5L1128.0 601.3L1128.5 601.1L1129.0 600.9L1129.5 600.7L1130.1 600.5L1130.6 600.3L1131.1 600.2L1131.6 600.0L1132.1 599.8L1132.7 599.7L1133.2 599.5L1133.7 599.4L1134.2 599.2L1134.7 599.1L1135.3 599.0L1135.8 598.9L1136.3 598.8L1136.8 598.7L1137.3 598.6L1137.9 598.5L1138.4 598.4L1138.9 598.3L1139.4 598.3L1139.9 598.2L1140.5 598.2L1141.0 598.1L1141.5 598.1L1142.0 598.1L1142.5 598.0L1143.1 598.0L1143.6 598.0L1144.1 598.0L1144.6 598.0L1145.1 598.0L1145.7 598.0L1146.2 598.1L1146.7 598.1L1147.2 598.1L1147.7 598.2L1148.3 598.2L1148.8 598.3L1149.3 598.4L1149.8 598.4L1150.3 598.5L1150.9 598.6L1151.4 598.7L1151.9 598.8L1152.4 598.9L1152.9 599.0L1153.4 599.2L1154.0 599.3L1154.5 599.4L1155.0 599.6L1155.5 599.7L1156.0 599.9L1156.6 600.0L1157.1 600.2L1157.6 600.4L1158.1 600.5L1158.6 600.7L1159.2 600.9L1159.7 601.1L1160.2 601.3L1160.7 601.6L1161.2 601.8L1161.8 602.0L1162.3 602.2L1162.8 602.5L1163.3 602.7L1163.8 603.0L1164.4 603.2L1164.9 603.5L1165.4 603.7L1165.9 604.0L1166.4 604.3L1167.0 604.6L1167.5 604.9L1168.0 605.2L1168.5 605.5L1169.0 605.8L1169.6 606.1L1170.1 606.4L1170.6 606.7L1171.1 607.1L1171.6 607.4L1172.2 607.7L1172.7 608.1L1173.2 608.4L1173.7 608.8L1174.2 609.1L1174.8 609.5L1175.3 609.8L1175.8 610.2L1176.3 610.6L1176.8 611.0L1177.3 611.3L1177.9 611.7L1178.4 612.1L1178.9 612.5L1179.4 612.9L1179.9 613.3L1180.5 613.7L1181.0 614.1L1181.5 614.5L1182.0 614.9L1182.5 615.4L1183.1 615.8L1183.6 616.2L1184.1 616.6L1184.6 617.1L1185.1 617.5L1185.7 617.9L1186.2 618.4L1186.7 618.8L1187.2 619.2L1187.7 619.7L1188.3 620.1L1188.8 620.6L1189.3 621.0L1189.8 621.5L1190.3 621.9L1190.9 622.4L1191.4 622.8L1191.9 623.3L1192.4 623.8L1192.9 624.2L1193.5 624.7L1194.0 625.2L1194.5 625.6L1195.0 626.1L1195.5 626.5L1196.1 627.0L1196.6 627.5L1197.1 627.9L1197.6 628.4L1198.1 628.9L1198.7 629.3L1199.2 629.8L1199.7 630.3L1200.2 630.7L1200.7 631.2L1201.3 631.7L1201.8 632.1L1202.3 632.6L1202.8 633.1L1203.3 633.5L1203.8 634.0L1204.4 634.5L1204.9 634.9L1205.4 635.4L1205.9 635.8L1206.4 636.3L1207.0 636.7L1207.5 637.2L1208.0 637.7L1208.5 638.1L1209.0 638.5L1209.6 639.0L1210.1 639.4L1210.6 639.9L1211.1 640.3L1211.6 640.7L1212.2 641.2L1212.7 641.6L1213.2 642.0L1213.7 642.5L1214.2 642.9L1214.8 643.3L1215.3 643.7L1215.8 644.1L1216.3 644.5L1216.8 644.9L1217.4 645.3L1217.9 645.7L1218.4 646.1L1218.9 646.5L1219.4 646.9L1220.0 647.3L1220.5 647.7L1221.0 648.0L1221.5 648.4L1222.0 648.8L1222.6 649.1L1223.1 649.5L1223.6 649.8L1224.1 650.2L1224.6 650.5L1225.2 650.9L1225.7 651.2L1226.2 651.5L1226.7 651.9L1227.2 652.2L1227.7 652.5L1228.3 652.8L1228.8 653.1L1229.3 653.4L1229.8 653.7L1230.3 654.0L1230.9 654.2L1231.4 654.5L1231.9 654.8L1232.4 655.1L1232.9 655.3L1233.5 655.6L1234.0 655.8L1234.5 656.0L1235.0 656.3L1235.5 656.5L1236.1 656.7L1236.6 656.9L1237.1 657.1L1237.6 657.3L1238.1 657.5L1238.7 657.7L1239.2 657.9L1239.7 658.1L1240.2 658.3L1240.7 658.4L1241.3 658.6L1241.8 658.7L1242.3 658.9L1242.8 659.0L1243.3 659.1L1243.9 659.3L1244.4 659.4L1244.9 659.5L1245.4 659.6L1245.9 659.7L1246.5 659.8L1247.0 659.9L1247.5 659.9L1248.0 660.0L1248.5 660.1L1249.1 660.1L1249.6 660.2L1250.1 660.2L1250.6 660.2L1251.1 660.3L1251.7 660.3L1252.2 660.3L1252.7 660.3L1253.2 660.3L1253.7 660.3L1254.2 660.3L1254.8 660.3L1255.3 660.2L1255.8 660.2L1256.3 660.2L1256.8 660.1L1257.4 660.0L1257.9 660.0L1258.4 659.9L1258.9 659.8L1259.4 659.8L1260.0 659.7L1260.5 659.6L1261.0 659.5L1261.5 659.3L1262.0 659.2L1262.6 659.1L1263.1 659.0L1263.6 658.8L1264.1 658.7L1264.6 658.5L1265.2 658.4L1265.7 658.2L1266.2 658.0L1266.7 657.9L1267.2 657.7L1267.8 657.5L1268.3 657.3L1268.8 657.1L1269.3 656.9L1269.8 656.6L1270.4 656.4L1270.9 656.2L1271.4 656.0L1271.9 655.7L1272.4 655.5L1273.0 655.2L1273.5 655.0L1274.0 654.7L1274.5 654.4L1275.0 654.1L1275.6 653.9L1276.1 653.6L1276.6 653.3L1277.1 653.0L1277.6 652.7L1278.1 652.4L1278.7 652.1L1279.2 651.7L1279.7 651.4L1280.2 651.1L1280.7 650.7L1281.3 650.4L1281.8 650.1L1282.3 649.7L1282.8 649.4L1283.3 649.0L1283.9 648.6L1284.4 648.3L1284.9 647.9L1285.4 647.5L1285.9 647.1L1286.5 646.8L1287.0 646.4L1287.5 646.0L1288.0 645.6L1288.5 645.2L1289.1 644.8L1289.6 644.4L1290.1 644.0L1290.6 643.6L1291.1 643.1L1291.7 642.7L1292.2 642.3L1292.7 641.9L1293.2 641.5L1293.7 641.0L1294.3 640.6L1294.8 640.2L1295.3 639.7L1295.8 639.3L1296.3 638.8L1296.9 638.4L1297.4 637.9L1297.9 637.5L1298.4 637.0L1298.9 636.6L1299.5 636.1L1300.0 635.7L1300.5 635.2L1301.0 634.8L1301.5 634.3L1302.0 633.8L1302.6 633.4L1303.1 632.9L1303.6 632.4L1304.1 632.0L1304.6 631.5L1305.2 631.0L1305.7 630.6L1306.2 630.1L1306.7 629.6L1307.2 629.2L1307.8 628.7L1308.3 628.2L1308.8 627.8L1309.3 627.3L1309.8 626.8L1310.4 626.4L1310.9 625.9L1311.4 625.4L1311.9 625.0L1312.4 624.5L1313.0 624.1L1313.5 623.6L1314.0 623.1L1314.5 622.7L1315.0 622.2L1315.6 621.8L1316.1 621.3L1316.6 620.9L1317.1 620.4L1317.6 620.0L1318.2 619.5L1318.7 619.1L1319.2 618.6L1319.7 618.2L1320.2 617.8L1320.8 617.3L1321.3 616.9L1321.8 616.5L1322.3 616.0L1322.8 615.6L1323.4 615.2L1323.9 614.8L1324.4 614.4L1324.9 614.0L1325.4 613.6L1326.0 613.2L1326.5 612.8L1327.0 612.4L1327.5 612.0L1328.0 611.6L1328.5 611.2L1329.1 610.8L1329.6 610.4L1330.1 610.1L1330.6 609.7L1331.1 609.3L1331.7 609.0L1332.2 608.6L1332.7 608.3L1333.2 607.9L1333.7 607.6L1334.3 607.3L1334.8 606.9L1335.3 606.6L1335.8 606.3L1336.3 606.0L1336.9 605.7L1337.4 605.4L1337.9 605.1L1338.4 604.8L1338.9 604.5L1339.5 604.2L1340.0 603.9L1340.5 603.7L1341.0 603.4L1341.5 603.1L1342.1 602.9L1342.6 602.6L1343.1 602.4L1343.6 602.1L1344.1 601.9L1344.7 601.7L1345.2 601.5L1345.7 601.3L1346.2 601.1L1346.7 600.9L1347.3 600.7L1347.8 600.5L1348.3 600.3L1348.8 600.1L1349.3 600.0L1349.9 599.8L1350.4 599.7L1350.9 599.5L1351.4 599.4L1351.9 599.2L1352.4 599.1L1353.0 599.0L1353.5 598.9L1354.0 598.8L1354.5 598.7L1355.0 598.6L1355.6 598.5L1356.1 598.4L1356.6 598.3L1357.1 598.3L1357.6 598.2L1358.2 598.2L1358.7 598.1L1359.2 598.1L1359.7 598.1L1360.2 598.0L1360.8 598.0L1361.3 598.0L1361.8 598.0L1362.3 598.0L1362.8 598.0L1363.4 598.0L1363.9 598.1L1364.4 598.1L1364.9 598.1L1365.4 598.2L1366.0 598.2L1366.5 598.3L1367.0 598.4L1367.5 598.4L1368.0 598.5L1368.6 598.6L1369.1 598.7L1369.6 598.8L1370.1 598.9L1370.6 599.0L1371.2 599.2L1371.7 599.3L1372.2 599.4L1372.7 599.6L1373.2 599.7L1373.8 599.9L1374.3 600.0L1374.8 600.2L1375.3 600.4L1375.8 600.6L1376.4 600.8L1376.9 601.0L1377.4 601.2L1377.9 601.4L1378.4 601.6L1378.9 601.8L1379.5 602.0L1380.0 602.3L1380.5 602.5L1381.0 602.7L1381.5 603.0L1382.1 603.3L1382.6 603.5L1383.1 603.8L1383.6 604.1L1384.1 604.3L1384.7 604.6L1385.2 604.9L1385.7 605.2L1386.2 605.5L1386.7 605.8L1387.3 606.1L1387.8 606.4L1388.3 606.8L1388.8 607.1L1389.3 607.4L1389.9 607.8L1390.4 608.1L1390.9 608.5L1391.4 608.8L1391.9 609.2L1392.5 609.5L1393.0 609.9L1393.5 610.3L1394.0 610.6L1394.5 611.0L1395.1 611.4L1395.6 611.8L1396.1 612.2L1396.6 612.6L1397.1 613.0L1397.7 613.4L1398.2 613.8L1398.7 614.2L1399.2 614.6L1399.7 615.0L1400.3 615.4L1400.8 615.8L1401.3 616.3L1401.8 616.7L1402.3 617.1L1402.8 617.5L1403.4 618.0L1403.9 618.4L1404.4 618.9L1404.9 619.3L1405.4 619.7L1406.0 620.2L1406.5 620.6L1407.0 621.1L1407.5 621.5L1408.0 622.0L1408.6 622.4L1409.1 622.9L1409.6 623.4L1410.1 623.8L1410.6 624.3L1411.2 624.7L1411.7 625.2L1412.2 625.7L1412.7 626.1L1413.2 626.6L1413.8 627.1L1414.3 627.5L1414.8 628.0L1415.3 628.5L1415.8 628.9L1416.4 629.4L1416.9 629.9L1417.4 630.3L1417.9 630.8L1418.4 631.3L1419.0 631.7L1419.5 632.2L1420.0 632.7L1420.5 633.1L1421.0 633.6L1421.6 634.1L1422.1 634.5L1422.6 635.0L1423.1 635.4L1423.6 635.9L1424.2 636.3L1424.7 636.8L1425.2 637.3L1425.7 637.7L1426.2 638.2L1426.7 638.6L1427.3 639.0L1427.8 639.5L1428.3 639.9L1428.8 640.4L1429.3 640.8L1429.9 641.2L1430.4 641.7L1430.9 642.1L1431.4 642.5L1431.9 642.9L1432.5 643.3L1433.0 643.8L1433.5 644.2L1434.0 644.6L1434.5 645.0L1435.1 645.4L1435.6 645.8L1436.1 646.2L1436.6 646.6L1437.1 647.0L1437.7 647.3L1438.2 647.7L1438.7 648.1L1439.2 648.5L1439.7 648.8L1440.3 649.2L1440.8 649.5L1441.3 649.9L1441.8 650.2L1442.3 650.6L1442.9 650.9L1443.4 651.2L1443.9 651.6L1444.4 651.9L1444.9 652.2L1445.5 652.5L1446.0 652.8L1446.5 653.1L1447.0 653.4L1447.5 653.7L1448.1 654.0L1448.6 654.3L1449.1 654.6L1449.6 654.8L1450.1 655.1L1450.7 655.3L1451.2 655.6L1451.7 655.8L1452.2 656.1L1452.7 656.3L1453.2 656.5L1453.8 656.7L1454.3 657.0L1454.8 657.2L1455.3 657.4L1455.8 657.6L1456.4 657.8L1456.9 657.9L1457.4 658.1L1457.9 658.3L1458.4 658.4L1459.0 658.6L1459.5 658.8L1460.0 658.9L1460.5 659.0L1461.0 659.2L1461.6 659.3L1462.1 659.4L1462.6 659.5L1463.1 659.6L1463.6 659.7L1464.2 659.8L1464.7 659.9L1465.2 659.9L1465.7 660.0L1466.2 660.1L1466.8 660.1L1467.3 660.2L1467.8 660.2L1468.3 660.3L1468.8 660.3L1469.4 660.3L1469.9 660.3L1470.4 660.3L1470.9 660.3L1471.4 660.3L1472.0 660.3L1472.5 660.3L1473.0 660.2L1473.5 660.2L1474.0 660.2L1474.6 660.1L1475.1 660.0L1475.6 660.0L1476.1 659.9L1476.6 659.8L1477.1 659.7L1477.7 659.6L1478.2 659.5L1478.7 659.4L1479.2 659.3L1479.7 659.2L1480.3 659.1L1480.8 658.9L1481.3 658.8L1481.8 658.7L1482.3 658.5L1482.9 658.3L1483.4 658.2L1483.9 658.0L1484.4 657.8L1484.9 657.6L1485.5 657.5L1486.0 657.3L1486.5 657.0L1487.0 656.8L1487.5 656.6L1488.1 656.4L1488.6 656.2L1489.1 655.9L1489.6 655.7L1490.1 655.4L1490.7 655.2L1491.2 654.9L1491.7 654.7L1492.2 654.4L1492.7 654.1L1493.3 653.8L1493.8 653.5L1494.3 653.2L1494.8 652.9L1495.3 652.6L1495.9 652.3L1496.4 652.0L1496.9 651.7L1497.4 651.4L1497.9 651.0L1498.5 650.7L1499.0 650.4L1499.5 650.0L1500.0 649.7L1500.5 649.3L1501.0 649.0L1501.6 648.6L1502.1 648.2L1502.6 647.9L1503.1 647.5L1503.6 647.1L1504.2 646.7L1504.7 646.3L1505.2 645.9L1505.7 645.5L1506.2 645.1L1506.8 644.7L1507.3 644.3L1507.8 643.9L1508.3 643.5L1508.8 643.1L1509.4 642.7L1509.9 642.3L1510.4 641.8L1510.9 641.4L1511.4 641.0L1512.0 640.5L1512.5 640.1L1513.0 639.7L1513.5 639.2L1514.0 638.8L1514.6 638.3L1515.1 637.9L1515.6 637.4L1516.1 637.0L1516.6 636.5L1517.2 636.1L1517.7 635.6L1518.2 635.2L1518.7 634.7L1519.2 634.2L1519.8 633.8L1520.3 633.3L1520.8 632.9L1521.3 632.4L1521.8 631.9L1522.4 631.5L1522.9 631.0L1523.4 630.5L1523.9 630.1L1524.4 629.6L1525.0 629.1L1525.5 628.7L1526.0 628.2L1526.5 627.7L1527.0 627.3L1527.5 626.8L1528.1 626.3L1528.6 625.9L1529.1 625.4L1529.6 624.9L1530.1 624.5L1530.7 624.0L1531.2 623.5L1531.7 623.1L1532.2 622.6L1532.7 622.2L1533.3 621.7L1533.8 621.3L1534.3 620.8L1534.8 620.4L1535.3 619.9L1535.9 619.5L1536.4 619.0L1536.9 618.6L1537.4 618.1L1537.9 617.7L1538.5 617.3L1539.0 616.8L1539.5 616.4L1540.0 616.0L1540.5 615.6L1541.1 615.2L1541.6 614.7L1542.1 614.3L1542.6 613.9L1543.1 613.5L1543.7 613.1L1544.2 612.7L1544.7 612.3L1545.2 611.9L1545.7 611.5L1546.3 611.2L1546.8 610.8L1547.3 610.4L1547.8 610.0L1548.3 609.7L1548.9 609.3L1549.4 608.9L1549.9 608.6L1550.4 608.2L1550.9 607.9L1551.4 607.6L1552.0 607.2L1552.5 606.9L1553.0 606.6L1553.5 606.3L1554.0 605.9L1554.6 605.6L1555.1 605.3L1555.6 605.0L1556.1 604.7L1556.6 604.4L1557.2 604.2L1557.7 603.9L1558.2 603.6L1558.7 603.4L1559.2 603.1L1559.8 602.8L1560.3 602.6L1560.8 602.4L1561.3 602.1L1561.8 601.9L1562.4 601.7L1562.9 601.4L1563.4 601.2L1563.9 601.0L1564.4 600.8L1565.0 600.6L1565.5 600.5L1566.0 600.3L1566.5 600.1L1567.0 599.9L1567.6 599.8L1568.1 599.6L1568.6 599.5L1569.1 599.3L1569.6 599.2L1570.2 599.1L1570.7 599.0L1571.2 598.9L1571.7 598.8L1572.2 598.7L1572.8 598.6L1573.3 598.5L1573.8 598.4L1574.3 598.3L1574.8 598.3L1575.4 598.2L1575.9 598.2L1576.4 598.1L1576.9 598.1L1577.4 598.1L1577.9 598.0L1578.5 598.0L1579.0 598.0L1579.5 598.0L1580.0 598.0L1580.5 598.0L1581.1 598.0L1581.6 598.1L1582.1 598.1L1582.6 598.1L1583.1 598.2L1583.7 598.3L1584.2 598.3L1584.7 598.4L1585.2 598.5L1585.7 598.5L1586.3 598.6L1586.8 598.7L1587.3 598.8L1587.8 598.9L1588.3 599.1L1588.9 599.2L1589.4 599.3L1589.9 599.4L1590.4 599.6L1590.9 599.7L1591.5 599.9L1592.0 600.1L1592.5 600.2L1593.0 600.4L1593.5 600.6L1594.1 600.8L1594.6 601.0L1595.1 601.2L1595.6 601.4L1596.1 601.6L1596.7 601.8L1597.2 602.1L1597.7 602.3L1598.2 602.5L1598.7 602.8L1599.3 603.0L1599.8 603.3L1600.3 603.5L1600.8 603.8L1601.3 604.1L1601.8 604.4L1602.4 604.7L1602.9 604.9L1603.4 605.2L1603.9 605.5L1604.4 605.9L1605.0 606.2L1605.5 606.5L1606.0 606.8L1606.5 607.1L1607.0 607.5L1607.6 607.8L1608.1 608.1L1608.6 608.5L1609.1 608.8L1609.6 609.2L1610.2 609.6L1610.7 609.9L1611.2 610.3L1611.7 610.7L1612.2 611.1L1612.8 611.4L1613.3 611.8L1613.8 612.2L1614.3 612.6L1614.8 613.0L1615.4 613.4L1615.9 613.8L1616.4 614.2L1616.9 614.6L1617.4 615.0L1618.0 615.5L1618.5 615.9L1619.0 616.3L1619.5 616.7L1620.0 617.2L1620.6 617.6L1621.1 618.0L1621.6 618.5L1622.1 618.9L1622.6 619.3L1623.2 619.8L1623.7 620.2L1624.2 620.7L1624.7 621.1L1625.2 621.6L1625.8 622.0L1626.3 622.5L1626.8 623.0L1627.3 623.4L1627.8 623.9L1628.3 624.3L1628.9 624.8L1629.4 625.3L1629.9 625.7L1630.4 626.2L1630.9 626.7L1631.5 627.1L1632.0 627.6L1632.5 628.1L1633.0 628.5L1633.5 629.0L1634.1 629.5L1634.6 629.9L1635.1 630.4L1635.6 630.9L1636.1 631.3L1636.7 631.8L1637.2 632.3L1637.7 632.7L1638.2 633.2L1638.7 633.7L1639.3 634.1L1639.8 634.6L1640.3 635.0L1640.8 635.5L1641.3 635.9L1641.9 636.4L1642.4 636.9L1642.9 637.3L1643.4 637.8L1643.9 638.2L1644.5 638.7L1645.0 639.1L1645.5 639.5L1646.0 640.0L1646.5 640.4L1647.1 640.8L1647.6 641.3L1648.1 641.7L1648.6 642.1L1649.1 642.6L1649.7 643.0L1650.2 643.4L1650.7 643.8L1651.2 644.2L1651.7 644.6L1652.2 645.0L1652.8 645.4L1653.3 645.8L1653.8 646.2L1654.3 646.6L1654.8 647.0L1655.4 647.4L1655.9 647.8L1656.4 648.1L1656.9 648.5L1657.4 648.9L1658.0 649.2L1658.5 649.6L1659.0 649.9L1659.5 650.3L1660.0 650.6L1660.6 651.0L1661.1 651.3L1661.6 651.6L1662.1 651.9L1662.6 652.2L1663.2 652.6L1663.7 652.9L1664.2 653.2L1664.7 653.5L1665.2 653.7L1665.8 654.0L1666.3 654.3L1666.8 654.6L1667.3 654.9L1667.8 655.1L1668.4 655.4L1668.9 655.6L1669.4 655.9L1669.9 656.1L1670.4 656.3L1671.0 656.6L1671.5 656.8L1672.0 657.0L1672.5 657.2L1673.0 657.4L1673.6 657.6L1674.1 657.8L1674.6 658.0L1675.1 658.1L1675.6 658.3L1676.1 658.5L1676.7 658.6L1677.2 658.8L1677.7 658.9L1678.2 659.0L1678.7 659.2L1679.3 659.3L1679.8 659.4L1680.3 659.5L1680.8 659.6L1681.3 659.7L1681.9 659.8L1682.4 659.9L1682.9 660.0L1683.4 660.0L1683.9 660.1L1684.5 660.1L1685.0 660.2L1685.5 660.2L1686.0 660.3L1686.5 660.3L1687.1 660.3L1687.6 660.3L1688.1 660.3L1688.6 660.3L1689.1 660.3L1689.7 660.3L1690.2 660.3L1690.7 660.2L1691.2 660.2L1691.7 660.1L1692.3 660.1L1692.8 660.0L1693.3 660.0L1693.8 659.9L1694.3 659.8L1694.9 659.7L1695.4 659.6L1695.9 659.5L1696.4 659.4L1696.9 659.3L1697.5 659.2L1698.0 659.1L1698.5 658.9L1699.0 658.8L1699.5 658.6L1700.1 658.5L1700.6 658.3L1701.1 658.2L1701.6 658.0L1702.1 657.8L1702.6 657.6L1703.2 657.4L1703.7 657.2L1704.2 657.0L1704.7 656.8L1705.2 656.6L1705.8 656.4L1706.3 656.1L1706.8 655.9L1707.3 655.7L1707.8 655.4L1708.4 655.2L1708.9 654.9L1709.4 654.6L1709.9 654.4L1710.4 654.1L1711.0 653.8L1711.5 653.5L1712.0 653.2L1712.5 652.9L1713.0 652.6L1713.6 652.3L1714.1 652.0L1714.6 651.7L1715.1 651.3L1715.6 651.0L1716.2 650.7L1716.7 650.3L1717.2 650.0L1717.7 649.6L1718.2 649.3L1718.8 648.9L1719.3 648.6L1719.8 648.2L1720.3 647.8L1720.8 647.4L1721.4 647.1L1721.9 646.7L1722.4 646.3L1722.9 645.9L1723.4 645.5L1724.0 645.1L1724.5 644.7L1725.0 644.3L1725.5 643.9L1726.0 643.5L1726.5 643.0L1727.1 642.6L1727.6 642.2L1728.1 641.8L1728.6 641.3L1729.1 640.9L1729.7 640.5L1730.2 640.0L1730.7 639.6L1731.2 639.2L1731.7 638.7L1732.3 638.3L1732.8 637.8L1733.3 637.4L1733.8 636.9L1734.3 636.5L1734.9 636.0L1735.4 635.6L1735.9 635.1L1736.4 634.6L1736.9 634.2L1737.5 633.7L1738.0 633.3L1738.5 632.8L1739.0 632.3L1739.5 631.9L1740.1 631.4L1740.6 630.9L1741.1 630.5L1741.6 630.0L1742.1 629.5L1742.7 629.1L1743.2 628.6L1743.7 628.1L1744.2 627.7L1744.7 627.2L1745.3 626.7L1745.8 626.3L1746.3 625.8L1746.8 625.3L1747.3 624.9L1747.9 624.4L1748.4 623.9L1748.9 623.5L1749.4 623.0L1749.9 622.6L1750.5 622.1L1751.0 621.7L1751.5 621.2L1752.0 620.8L1752.5 620.3L1753.0 619.9L1753.6 619.4L1754.1 619.0L1754.6 618.5L1755.1 618.1L1755.6 617.7L1756.2 617.2L1756.7 616.8L1757.2 616.4L1757.7 615.9L1758.2 615.5L1758.8 615.1L1759.3 614.7L1759.8 614.3L1760.3 613.9L1760.8 613.5L1761.4 613.1L1761.9 612.7L1762.4 612.3L1762.9 611.9L1763.4 611.5L1764.0 611.1L1764.5 610.7L1765.0 610.4L1765.5 610.0L1766.0 609.6L1766.6 609.3L1767.1 608.9L1767.6 608.5L1768.1 608.2L1768.6 607.9L1769.2 607.5L1769.7 607.2L1770.2 606.9L1770.7 606.5L1771.2 606.2L1771.8 605.9L1772.3 605.6L1772.8 605.3L1773.3 605.0L1773.8 604.7L1774.4 604.4L1774.9 604.1L1775.4 603.9L1775.9 603.6L1776.4 603.3L1776.9 603.1L1777.5 602.8L1778.0 602.6L1778.5 602.3L1779.0 602.1L1779.5 601.9L1780.1 601.6L1780.6 601.4L1781.1 601.2L1781.6 601.0L1782.1 600.8L1782.7 600.6L1783.2 600.4L1783.7 600.3L1784.2 600.1L1784.7 599.9L1785.3 599.8L1785.8 599.6L1786.3 599.5L1786.8 599.3L1787.3 599.2L1787.9 599.1L1788.4 599.0L1788.9 598.8L1789.4 598.7L1789.9 598.6L1790.5 598.6L1791.0 598.5L1791.5 598.4L1792.0 598.3L1792.5 598.3L1793.1 598.2L1793.6 598.2L1794.1 598.1L1794.6 598.1L1795.1 598.1L1795.7 598.0L1796.2 598.0L1796.7 598.0L1797.2 598.0L1797.7 598.0L1798.3 598.0L1798.8 598.0L1799.3 598.1L1799.8 598.1L1800.3 598.2L1800.8 598.2L1801.4 598.3L1801.9 598.3L1802.4 598.4L1802.9 598.5L1803.4 598.6L1804.0 598.6L1804.5 598.7L1805.0 598.8L1805.5 599.0L1806.0 599.1L1806.6 599.2L1807.1 599.3L1807.6 599.5L1808.1 599.6L1808.6 599.8L1809.2 599.9L1809.7 600.1L1810.2 600.3L1810.7 600.4L1811.2 600.6L1811.8 600.8L1812.3 601.0L1812.8 601.2" stroke="#ff0000" stroke-width="10.7" stroke-dasharray="52.30 19.57 13.16 19.57" stroke-dashoffset="72.5"/>
<path d="M254.1 463.1L254.6 460.7L255.1 458.5L255.6 456.6L256.1 455.3L256.6 454.3L257.2 453.3L257.7 452.5L258.2 452.0L258.7 451.8L259.2 452.6L259.8 454.8L260.3 458.1L260.8 462.1L261.3 466.5L261.8 471.0L262.4 475.1L262.9 478.7L263.4 482.2L263.9 485.7L264.4 489.3L265.0 492.9L265.5 496.5L266.0 500.1L266.5 503.6L267.0 507.0L267.6 510.3L268.1 513.5L268.6 516.6L269.1 519.8L269.6 522.9L270.2 525.9L270.7 528.9L271.2 531.8L271.7 534.7L272.2 537.5L272.8 540.3L273.3 543.0L273.8 545.6L274.3 548.2L274.8 550.7L275.4 553.3L275.9 555.8L276.4 558.2L276.9 560.6L277.4 563.0L278.0 565.3L278.5 567.6L279.0 569.8L279.5 571.9L280.0 574.0L280.5 576.0L281.1 577.9L281.6 579.7L282.1 581.5L282.6 583.2L283.1 584.9L283.7 586.5L284.2 588.0L284.7 589.6L285.2 591.0L285.7 592.5L286.3 593.9L286.8 595.2L287.3 596.6L287.8 597.9L288.3 599.3L288.9 600.6L289.4 601.9L289.9 603.2L290.4 604.5L290.9 605.7L291.5 606.8L292.0 607.9L292.5 608.9L293.0 609.8L293.5 610.6L294.1 611.4L294.6 612.0L295.1 612.6L295.6 613.2L296.1 613.8L296.7 614.3L297.2 614.8L297.7 615.3L298.2 615.8L298.7 616.2L299.3 616.7L299.8 617.1L300.3 617.5L300.8 617.9L301.3 618.3L301.9 618.6L302.4 619.0L302.9 619.4L303.4 619.7L303.9 620.0L304.4 620.4L305.0 620.7L305.5 621.0L306.0 621.3L306.5 621.7L307.0 622.0L307.6 622.3L308.1 622.6L308.6 622.9L309.1 623.1L309.6 623.4L310.2 623.6L310.7 623.9L311.2 624.1L311.7 624.3L312.2 624.4L312.8 624.6L313.3 624.8L313.8 624.9L314.3 625.1L314.8 625.2L315.4 625.4L315.9 625.5L316.4 625.7L316.9 625.8L317.4 625.9L318.0 626.0L318.5 626.1L319.0 626.2L319.5 626.4L320.0 626.5L320.6 626.6L321.1 626.6L321.6 626.7L322.1 626.8L322.6 626.9L323.2 627.0L323.7 627.1L324.2 627.2L324.7 627.2L325.2 627.3L325.8 627.4L326.3 627.5L326.8 627.5L327.3 627.6L327.8 627.7L328.4 627.8L328.9 627.8L329.4 627.9L329.9 628.0L330.4 628.0L330.9 628.1L331.5 628.1L332.0 628.2L332.5 628.2L333.0 628.3L333.5 628.3L334.1 628.4L334.6 628.4L335.1 628.5L335.6 628.5L336.1 628.5L336.7 628.6L337.2 628.6L337.7 628.6L338.2 628.6L338.7 628.7L339.3 628.7L339.8 628.7L340.3 628.7L340.8 628.7L341.3 628.8L341.9 628.8L342.4 628.8L342.9 628.8L343.4 628.8L343.9 628.9L344.5 628.9L345.0 628.9L345.5 628.9L346.0 628.9L346.5 629.0L347.1 629.0L347.6 629.0L348.1 629.0L348.6 629.0L349.1 629.0L349.7 629.0L350.2 629.1L350.7 629.1L351.2 629.1L351.7 629.1L352.3 629.1L352.8 629.1L353.3 629.1L353.8 629.1L354.3 629.1L354.8 629.1L355.4 629.1L355.9 629.2L356.4 629.2L356.9 629.2L357.4 629.2L358.0 629.2L358.5 629.2L359.0 629.2L359.5 629.2L360.0 629.2L360.6 629.2L361.1 629.2L361.6 629.2L362.1 629.2L362.6 629.2L363.2 629.2L363.7 629.2L364.2 629.2L364.7 629.2L365.2 629.2L365.8 629.2L366.3 629.2L366.8 629.2L367.3 629.2L367.8 629.2L368.4 629.2L368.9 629.2L369.4 629.2L369.9 629.2L370.4 629.2L371.0 629.2L371.5 629.2L372.0 629.2L372.5 629.2L373.0 629.2L373.6 629.2L374.1 629.2L374.6 629.2L375.1 629.2L375.6 629.2L376.2 629.2L376.7 629.2L377.2 629.2L377.7 629.2L378.2 629.2L378.8 629.2L399.5 629.2L420.3 629.2L441.1 629.2L461.9 629.2L482.7 629.2L503.5 629.2L524.2 629.2L545.0 629.2L565.8 629.2L586.6 629.2L607.4 629.2L628.2 629.2L648.9 629.2L669.7 629.2L690.5 629.2L711.3 629.2L732.1 629.2L752.9 629.2L772.6 629.2L773.1 629.2L773.6 629.2L774.2 628.3L774.7 627.6L775.2 626.9L775.7 626.2L776.2 625.7L776.8 625.2L777.3 624.6L777.8 624.1L778.3 623.7L778.8 623.5L779.3 623.4L779.9 623.4L780.4 623.6L780.9 623.9L781.4 624.2L781.9 624.6L782.5 625.1L783.0 625.5L783.5 625.9L784.0 626.3L784.5 626.6L785.1 627.0L785.6 627.3L786.1 627.7L786.6 628.1L787.1 628.5L787.7 628.9L788.2 629.3L788.7 629.7L789.2 630.1L789.7 630.4L790.3 630.8L790.8 631.2L791.3 631.6L791.8 631.9L792.3 632.3L792.9 632.6L793.4 632.9L793.9 633.2L794.4 633.5L794.9 633.8L795.5 634.0L796.0 634.3L796.5 634.6L797.0 634.8L797.5 635.1L798.1 635.4L798.6 635.6L799.1 635.9L799.6 636.1L800.1 636.3L800.7 636.5L801.2 636.7L801.7 636.9L802.2 637.1L802.7 637.3L803.2 637.5L803.8 637.6L804.3 637.7L804.8 637.9L805.3 638.0L805.8 638.1L806.4 638.2L806.9 638.3L807.4 638.4L807.9 638.5L808.4 638.6L809.0 638.7L809.5 638.8L810.0 638.9L810.5 639.0L811.0 639.1L811.6 639.1L812.1 639.2L812.6 639.3L813.1 639.4L813.6 639.4L814.2 639.5L814.7 639.6L815.2 639.6L815.7 639.7L816.2 639.7L816.8 639.8L817.3 639.8L817.8 639.8L818.3 639.9L818.8 639.9L819.4 639.9L819.9 639.9L820.4 639.9L820.9 639.9L821.4 639.9L822.0 639.8L822.5 639.8L823.0 639.8L823.5 639.7L824.0 639.7L824.6 639.6L825.1 639.6L825.6 639.5L826.1 639.5L826.6 639.4L827.2 639.3L827.7 639.3L828.2 639.2L828.7 639.1L829.2 639.0L829.7 638.9L830.3 638.8L830.8 638.8L831.3 638.7L831.8 638.6L832.3 638.5L832.9 638.4L833.4 638.3L833.9 638.2L834.4 638.1L834.9 638.0L835.5 637.9L836.0 637.9L836.5 637.8L837.0 637.7L837.5 637.6L838.1 637.5L838.6 637.4L839.1 637.2L839.6 637.1L840.1 637.0L840.7 636.9L841.2 636.8L841.7 636.6L842.2 636.5L842.7 636.4L843.3 636.2L843.8 636.1L844.3 636.0L844.8 635.8L845.3 635.7L845.9 635.5L846.4 635.4L846.9 635.2L847.4 635.0L847.9 634.9L848.5 634.7L849.0 634.6L849.5 634.4L850.0 634.2L850.5 634.1L851.1 633.9L851.6 633.7L852.1 633.6L852.6 633.4L853.1 633.2L853.6 633.0L854.2 632.9L854.7 632.7L855.2 632.5L855.7 632.4L856.2 632.2L856.8 632.0L857.3 631.8L857.8 631.6L858.3 631.4L858.8 631.2L859.4 631.0L859.9 630.8L860.4 630.6L860.9 630.4L861.4 630.2L862.0 630.0L862.5 629.8L863.0 629.6L863.5 629.4L864.0 629.2L864.6 629.0L865.1 628.8L865.6 628.6L866.1 628.4L866.6 628.2L867.2 628.0L867.7 627.8L868.2 627.6L868.7 627.4L869.2 627.2L869.8 627.0L870.3 626.8L870.8 626.6L871.3 626.4L871.8 626.2L872.4 626.0L872.9 625.8L873.4 625.6L873.9 625.4L874.4 625.3L875.0 625.1L875.5 624.9L876.0 624.7L876.5 624.5L877.0 624.3L877.5 624.1L878.1 623.9L878.6 623.8L879.1 623.6L879.6 623.4L880.1 623.2L880.7 623.0L881.2 622.8L881.7 622.7L882.2 622.5L882.7 622.3L883.3 622.2L883.8 622.0L884.3 621.8L884.8 621.6L885.3 621.5L885.9 621.3L886.4 621.2L886.9 621.0L887.4 620.8L887.9 620.7L888.5 620.5L889.0 620.4L889.5 620.2L890.0 620.1L890.5 619.9L891.1 619.8L891.6 619.6L892.1 619.5L892.6 619.4L893.1 619.2L893.7 619.1L894.2 619.0L894.7 618.8L895.2 618.7L895.7 618.6L896.3 618.5L896.8 618.3L897.3 618.2L897.8 618.1L898.3 618.0L898.9 617.9L899.4 617.8L899.9 617.7L900.4 617.6L900.9 617.5L901.5 617.4L902.0 617.3L902.5 617.2L903.0 617.1L903.5 617.0L904.0 616.9L904.6 616.9L905.1 616.8L905.6 616.7L906.1 616.6L906.6 616.6L907.2 616.5L907.7 616.4L908.2 616.4L908.7 616.3L909.2 616.3L909.8 616.2L910.3 616.2L910.8 616.1L911.3 616.1L911.8 616.0L912.4 616.0L912.9 616.0L913.4 615.9L913.9 615.9L914.4 615.9L915.0 615.8L915.5 615.8L916.0 615.8L916.5 615.8L917.0 615.8L917.6 615.8L918.1 615.8L918.6 615.8L919.1 615.8L919.6 615.8L920.2 615.8L920.7 615.8L921.2 615.8L921.7 615.8L922.2 615.8L922.8 615.9L923.3 615.9L923.8 615.9L924.3 616.0L924.8 616.0L925.4 616.0L925.9 616.1L926.4 616.1L926.9 616.2L927.4 616.2L927.9 616.3L928.5 616.3L929.0 616.4L929.5 616.4L930.0 616.5L930.5 616.6L931.1 616.6L931.6 616.7L932.1 616.8L932.6 616.9L933.1 616.9L933.7 617.0L934.2 617.1L934.7 617.2L935.2 617.3L935.7 617.4L936.3 617.5L936.8 617.6L937.3 617.7L937.8 617.8L938.3 617.9L938.9 618.0L939.4 618.1L939.9 618.2L940.4 618.3L940.9 618.5L941.5 618.6L942.0 618.7L942.5 618.8L943.0 619.0L943.5 619.1L944.1 619.2L944.6 619.4L945.1 619.5L945.6 619.6L946.1 619.8L946.7 619.9L947.2 620.1L947.7 620.2L948.2 620.4L948.7 620.5L949.3 620.7L949.8 620.8L950.3 621.0L950.8 621.2L951.3 621.3L951.9 621.5L952.4 621.6L952.9 621.8L953.4 622.0L953.9 622.2L954.4 622.3L955.0 622.5L955.5 622.7L956.0 622.8L956.5 623.0L957.0 623.2L957.6 623.4L958.1 623.6L958.6 623.8L959.1 623.9L959.6 624.1L960.2 624.3L960.7 624.5L961.2 624.7L961.7 624.9L962.2 625.1L962.8 625.3L963.3 625.4L963.8 625.6L964.3 625.8L964.8 626.0L965.4 626.2L965.9 626.4L966.4 626.6L966.9 626.8L967.4 627.0L968.0 627.2L968.5 627.4L969.0 627.6L969.5 627.8L970.0 628.0L970.6 628.2L971.1 628.4L971.6 628.6L972.1 628.8L972.6 629.0L973.2 629.2L973.7 629.4L974.2 629.6L974.7 629.8L975.2 630.0L975.8 630.2L976.3 630.4L976.8 630.6L977.3 630.8L977.8 631.0L978.3 631.2L978.9 631.4L979.4 631.6L979.9 631.8L980.4 632.0L980.9 632.2L981.5 632.4L982.0 632.6L982.5 632.8L983.0 633.0L983.5 633.2L984.1 633.4L984.6 633.6L985.1 633.7L985.6 633.9L986.1 634.1L986.7 634.3L987.2 634.5L987.7 634.7L988.2 634.9L988.7 635.0L989.3 635.2L989.8 635.4L990.3 635.6L990.8 635.7L991.3 635.9L991.9 636.1L992.4 636.3L992.9 636.4L993.4 636.6L993.9 636.8L994.5 636.9L995.0 637.1L995.5 637.3L996.0 637.4L996.5 637.6L997.1 637.7L997.6 637.9L998.1 638.0L998.6 638.2L999.1 638.3L999.7 638.5L1000.2 638.6L1000.7 638.8L1001.2 638.9L1001.7 639.0L1002.2 639.2L1002.8 639.3L1003.3 639.4L1003.8 639.6L1004.3 639.7L1004.8 639.8L1005.4 639.9L1005.9 640.0L1006.4 640.2L1006.9 640.3L1007.4 640.4L1008.0 640.5L1008.5 640.6L1009.0 640.7L1009.5 640.8L1010.0 640.9L1010.6 641.0L1011.1 641.1L1011.6 641.2L1012.1 641.3L1012.6 641.3L1013.2 641.4L1013.7 641.5L1014.2 641.6L1014.7 641.7L1015.2 641.7L1015.8 641.8L1016.3 641.9L1016.8 641.9L1017.3 642.0L1017.8 642.0L1018.4 642.1L1018.9 642.1L1019.4 642.2L1019.9 642.2L1020.4 642.3L1021.0 642.3L1021.5 642.4L1022.0 642.4L1022.5 642.4L1023.0 642.4L1023.6 642.5L1024.1 642.5L1024.6 642.5L1025.1 642.5L1025.6 642.5L1026.2 642.5L1026.7 642.5L1027.2 642.5L1027.7 642.5L1028.2 642.5L1028.7 642.5L1029.3 642.5L1029.8 642.5L1030.3 642.5L1030.8 642.5L1031.3 642.5L1031.9 642.4L1032.4 642.4L1032.9 642.4L1033.4 642.3L1033.9 642.3L1034.5 642.3L1035.0 642.2L1035.5 642.2L1036.0 642.1L1036.5 642.1L1037.1 642.0L1037.6 642.0L1038.1 641.9L1038.6 641.9L1039.1 641.8L1039.7 641.7L1040.2 641.7L1040.7 641.6L1041.2 641.5L1041.7 641.4L1042.3 641.3L1042.8 641.3L1043.3 641.2L1043.8 641.1L1044.3 641.0L1044.9 640.9L1045.4 640.8L1045.9 640.7L1046.4 640.6L1046.9 640.5L1047.5 640.4L1048.0 640.3L1048.5 640.1L1049.0 640.0L1049.5 639.9L1050.1 639.8L1050.6 639.7L1051.1 639.5L1051.6 639.4L1052.1 639.3L1052.6 639.2L1053.2 639.0L1053.7 638.9L1054.2 638.7L1054.7 638.6L1055.2 638.5L1055.8 638.3L1056.3 638.2L1056.8 638.0L1057.3 637.9L1057.8 637.7L1058.4 637.6L1058.9 637.4L1059.4 637.2L1059.9 637.1L1060.4 636.9L1061.0 636.7L1061.5 636.6L1062.0 636.4L1062.5 636.2L1063.0 636.1L1063.6 635.9L1064.1 635.7L1064.6 635.5L1065.1 635.4L1065.6 635.2L1066.2 635.0L1066.7 634.8L1067.2 634.6L1067.7 634.5L1068.2 634.3L1068.8 634.1L1069.3 633.9L1069.8 633.7L1070.3 633.5L1070.8 633.3L1071.4 633.1L1071.9 633.0L1072.4 632.8L1072.9 632.6L1073.4 632.4L1074.0 632.2L1074.5 632.0L1075.0 631.8L1075.5 631.6L1076.0 631.4L1076.6 631.2L1077.1 631.0L1077.6 630.8L1078.1 630.6L1078.6 630.4L1079.1 630.2L1079.7 630.0L1080.2 629.8L1080.7 629.6L1081.2 629.4L1081.7 629.2L1082.3 629.0L1082.8 628.8L1083.3 628.6L1083.8 628.4L1084.3 628.2L1084.9 628.0L1085.4 627.8L1085.9 627.6L1086.4 627.4L1086.9 627.2L1087.5 627.0L1088.0 626.8L1088.5 626.6L1089.0 626.4L1089.5 626.2L1090.1 626.0L1090.6 625.8L1091.1 625.6L1091.6 625.4L1092.1 625.2L1092.7 625.0L1093.2 624.9L1093.7 624.7L1094.2 624.5L1094.7 624.3L1095.3 624.1L1095.8 623.9L1096.3 623.7L1096.8 623.5L1097.3 623.4L1097.9 623.2L1098.4 623.0L1098.9 622.8L1099.4 622.7L1099.9 622.5L1100.5 622.3L1101.0 622.1L1101.5 622.0L1102.0 621.8L1102.5 621.6L1103.0 621.5L1103.6 621.3L1104.1 621.1L1104.6 621.0L1105.1 620.8L1105.6 620.7L1106.2 620.5L1106.7 620.4L1107.2 620.2L1107.7 620.1L1108.2 619.9L1108.8 619.8L1109.3 619.6L1109.8 619.5L1110.3 619.3L1110.8 619.2L1111.4 619.1L1111.9 618.9L1112.4 618.8L1112.9 618.7L1113.4 618.6L1114.0 618.4L1114.5 618.3L1115.0 618.2L1115.5 618.1L1116.0 618.0L1116.6 617.9L1117.1 617.8L1117.6 617.7L1118.1 617.6L1118.6 617.5L1119.2 617.4L1119.7 617.3L1120.2 617.2L1120.7 617.1L1121.2 617.0L1121.8 616.9L1122.3 616.8L1122.8 616.8L1123.3 616.7L1123.8 616.6L1124.4 616.6L1124.9 616.5L1125.4 616.4L1125.9 616.4L1126.4 616.3L1127.0 616.3L1127.5 616.2L1128.0 616.1L1128.5 616.1L1129.0 616.1L1129.5 616.0L1130.1 616.0L1130.6 615.9L1131.1 615.9L1131.6 615.9L1132.1 615.9L1132.7 615.8L1133.2 615.8L1133.7 615.8L1134.2 615.8L1134.7 615.8L1135.3 615.8L1135.8 615.8L1136.3 615.8L1136.8 615.8L1137.3 615.8L1137.9 615.8L1138.4 615.8L1138.9 615.8L1139.4 615.8L1139.9 615.8L1140.5 615.9L1141.0 615.9L1141.5 615.9L1142.0 616.0L1142.5 616.0L1143.1 616.0L1143.6 616.1L1144.1 616.1L1144.6 616.2L1145.1 616.2L1145.7 616.3L1146.2 616.3L1146.7 616.4L1147.2 616.4L1147.7 616.5L1148.3 616.6L1148.8 616.6L1149.3 616.7L1149.8 616.8L1150.3 616.9L1150.9 616.9L1151.4 617.0L1151.9 617.1L1152.4 617.2L1152.9 617.3L1153.4 617.4L1154.0 617.5L1154.5 617.6L1155.0 617.7L1155.5 617.8L1156.0 617.9L1156.6 618.0L1157.1 618.1L1157.6 618.2L1158.1 618.4L1158.6 618.5L1159.2 618.6L1159.7 618.7L1160.2 618.8L1160.7 619.0L1161.2 619.1L1161.8 619.2L1162.3 619.4L1162.8 619.5L1163.3 619.7L1163.8 619.8L1164.4 619.9L1164.9 620.1L1165.4 620.2L1165.9 620.4L1166.4 620.5L1167.0 620.7L1167.5 620.9L1168.0 621.0L1168.5 621.2L1169.0 621.3L1169.6 621.5L1170.1 621.7L1170.6 621.8L1171.1 622.0L1171.6 622.2L1172.2 622.3L1172.7 622.5L1173.2 622.7L1173.7 622.9L1174.2 623.0L1174.8 623.2L1175.3 623.4L1175.8 623.6L1176.3 623.8L1176.8 624.0L1177.3 624.1L1177.9 624.3L1178.4 624.5L1178.9 624.7L1179.4 624.9L1179.9 625.1L1180.5 625.3L1181.0 625.5L1181.5 625.7L1182.0 625.9L1182.5 626.1L1183.1 626.3L1183.6 626.4L1184.1 626.6L1184.6 626.8L1185.1 627.0L1185.7 627.2L1186.2 627.4L1186.7 627.6L1187.2 627.8L1187.7 628.0L1188.3 628.2L1188.8 628.4L1189.3 628.6L1189.8 628.8L1190.3 629.0L1190.9 629.2L1191.4 629.4L1191.9 629.6L1192.4 629.8L1192.9 630.0L1193.5 630.2L1194.0 630.4L1194.5 630.6L1195.0 630.8L1195.5 631.0L1196.1 631.2L1196.6 631.4L1197.1 631.6L1197.6 631.8L1198.1 632.0L1198.7 632.2L1199.2 632.4L1199.7 632.6L1200.2 632.8L1200.7 633.0L1201.3 633.2L1201.8 633.4L1202.3 633.6L1202.8 633.8L1203.3 634.0L1203.8 634.1L1204.4 634.3L1204.9 634.5L1205.4 634.7L1205.9 634.9L1206.4 635.1L1207.0 635.2L1207.5 635.4L1208.0 635.6L1208.5 635.8L1209.0 635.9L1209.6 636.1L1210.1 636.3L1210.6 636.5L1211.1 636.6L1211.6 636.8L1212.2 637.0L1212.7 637.1L1213.2 637.3L1213.7 637.4L1214.2 637.6L1214.8 637.7L1215.3 637.9L1215.8 638.0L1216.3 638.2L1216.8 638.3L1217.4 638.5L1217.9 638.6L1218.4 638.8L1218.9 638.9L1219.4 639.0L1220.0 639.2L1220.5 639.3L1221.0 639.4L1221.5 639.6L1222.0 639.7L1222.6 639.8L1223.1 639.9L1223.6 640.1L1224.1 640.2L1224.6 640.3L1225.2 640.4L1225.7 640.5L1226.2 640.6L1226.7 640.7L1227.2 640.8L1227.7 640.9L1228.3 641.0L1228.8 641.1L1229.3 641.2L1229.8 641.3L1230.3 641.4L1230.9 641.4L1231.4 641.5L1231.9 641.6L1232.4 641.7L1232.9 641.7L1233.5 641.8L1234.0 641.9L1234.5 641.9L1235.0 642.0L1235.5 642.0L1236.1 642.1L1236.6 642.1L1237.1 642.2L1237.6 642.2L1238.1 642.3L1238.7 642.3L1239.2 642.4L1239.7 642.4L1240.2 642.4L1240.7 642.4L1241.3 642.5L1241.8 642.5L1242.3 642.5L1242.8 642.5L1243.3 642.5L1243.9 642.5L1244.4 642.5L1244.9 642.5L1245.4 642.5L1245.9 642.5L1246.5 642.5L1247.0 642.5L1247.5 642.5L1248.0 642.5L1248.5 642.5L1249.1 642.5L1249.6 642.4L1250.1 642.4L1250.6 642.4L1251.1 642.3L1251.7 642.3L1252.2 642.3L1252.7 642.2L1253.2 642.2L1253.7 642.1L1254.2 642.1L1254.8 642.0L1255.3 642.0L1255.8 641.9L1256.3 641.8L1256.8 641.8L1257.4 641.7L1257.9 641.6L1258.4 641.6L1258.9 641.5L1259.4 641.4L1260.0 641.3L1260.5 641.2L1261.0 641.2L1261.5 641.1L1262.0 641.0L1262.6 640.9L1263.1 640.8L1263.6 640.7L1264.1 640.6L1264.6 640.5L1265.2 640.4L1265.7 640.2L1266.2 640.1L1266.7 640.0L1267.2 639.9L1267.8 639.8L1268.3 639.7L1268.8 639.5L1269.3 639.4L1269.8 639.3L1270.4 639.1L1270.9 639.0L1271.4 638.9L1271.9 638.7L1272.4 638.6L1273.0 638.4L1273.5 638.3L1274.0 638.1L1274.5 638.0L1275.0 637.8L1275.6 637.7L1276.1 637.5L1276.6 637.4L1277.1 637.2L1277.6 637.1L1278.1 636.9L1278.7 636.7L1279.2 636.6L1279.7 636.4L1280.2 636.2L1280.7 636.1L1281.3 635.9L1281.8 635.7L1282.3 635.5L1282.8 635.3L1283.3 635.2L1283.9 635.0L1284.4 634.8L1284.9 634.6L1285.4 634.4L1285.9 634.3L1286.5 634.1L1287.0 633.9L1287.5 633.7L1288.0 633.5L1288.5 633.3L1289.1 633.1L1289.6 632.9L1290.1 632.7L1290.6 632.5L1291.1 632.3L1291.7 632.2L1292.2 632.0L1292.7 631.8L1293.2 631.6L1293.7 631.4L1294.3 631.2L1294.8 631.0L1295.3 630.8L1295.8 630.6L1296.3 630.4L1296.9 630.2L1297.4 630.0L1297.9 629.8L1298.4 629.6L1298.9 629.4L1299.5 629.2L1300.0 629.0L1300.5 628.8L1301.0 628.6L1301.5 628.4L1302.0 628.2L1302.6 628.0L1303.1 627.8L1303.6 627.6L1304.1 627.4L1304.6 627.2L1305.2 627.0L1305.7 626.8L1306.2 626.6L1306.7 626.4L1307.2 626.2L1307.8 626.0L1308.3 625.8L1308.8 625.6L1309.3 625.4L1309.8 625.2L1310.4 625.0L1310.9 624.8L1311.4 624.6L1311.9 624.5L1312.4 624.3L1313.0 624.1L1313.5 623.9L1314.0 623.7L1314.5 623.5L1315.0 623.3L1315.6 623.2L1316.1 623.0L1316.6 622.8L1317.1 622.6L1317.6 622.5L1318.2 622.3L1318.7 622.1L1319.2 621.9L1319.7 621.8L1320.2 621.6L1320.8 621.4L1321.3 621.3L1321.8 621.1L1322.3 621.0L1322.8 620.8L1323.4 620.6L1323.9 620.5L1324.4 620.3L1324.9 620.2L1325.4 620.0L1326.0 619.9L1326.5 619.7L1327.0 619.6L1327.5 619.5L1328.0 619.3L1328.5 619.2L1329.1 619.1L1329.6 618.9L1330.1 618.8L1330.6 618.7L1331.1 618.6L1331.7 618.4L1332.2 618.3L1332.7 618.2L1333.2 618.1L1333.7 618.0L1334.3 617.9L1334.8 617.8L1335.3 617.7L1335.8 617.6L1336.3 617.5L1336.9 617.4L1337.4 617.3L1337.9 617.2L1338.4 617.1L1338.9 617.0L1339.5 616.9L1340.0 616.8L1340.5 616.8L1341.0 616.7L1341.5 616.6L1342.1 616.5L1342.6 616.5L1343.1 616.4L1343.6 616.4L1344.1 616.3L1344.7 616.2L1345.2 616.2L1345.7 616.1L1346.2 616.1L1346.7 616.1L1347.3 616.0L1347.8 616.0L1348.3 615.9L1348.8 615.9L1349.3 615.9L1349.9 615.9L1350.4 615.8L1350.9 615.8L1351.4 615.8L1351.9 615.8L1352.4 615.8L1353.0 615.8L1353.5 615.8L1354.0 615.8L1354.5 615.8L1355.0 615.8L1355.6 615.8L1356.1 615.8L1356.6 615.8L1357.1 615.8L1357.6 615.9L1358.2 615.9L1358.7 615.9L1359.2 615.9L1359.7 616.0L1360.2 616.0L1360.8 616.0L1361.3 616.1L1361.8 616.1L1362.3 616.2L1362.8 616.2L1363.4 616.3L1363.9 616.3L1364.4 616.4L1364.9 616.4L1365.4 616.5L1366.0 616.6L1366.5 616.6L1367.0 616.7L1367.5 616.8L1368.0 616.9L1368.6 617.0L1369.1 617.0L1369.6 617.1L1370.1 617.2L1370.6 617.3L1371.2 617.4L1371.7 617.5L1372.2 617.6L1372.7 617.7L1373.2 617.8L1373.8 617.9L1374.3 618.0L1374.8 618.1L1375.3 618.3L1375.8 618.4L1376.4 618.5L1376.9 618.6L1377.4 618.7L1377.9 618.9L1378.4 619.0L1378.9 619.1L1379.5 619.3L1380.0 619.4L1380.5 619.5L1381.0 619.7L1381.5 619.8L1382.1 620.0L1382.6 620.1L1383.1 620.3L1383.6 620.4L1384.1 620.6L1384.7 620.7L1385.2 620.9L1385.7 621.0L1386.2 621.2L1386.7 621.4L1387.3 621.5L1387.8 621.7L1388.3 621.9L1388.8 622.0L1389.3 622.2L1389.9 622.4L1390.4 622.5L1390.9 622.7L1391.4 622.9L1391.9 623.1L1392.5 623.3L1393.0 623.4L1393.5 623.6L1394.0 623.8L1394.5 624.0L1395.1 624.2L1395.6 624.4L1396.1 624.5L1396.6 624.7L1397.1 624.9L1397.7 625.1L1398.2 625.3L1398.7 625.5L1399.2 625.7L1399.7 625.9L1400.3 626.1L1400.8 626.3L1401.3 626.5L1401.8 626.7L1402.3 626.9L1402.8 627.1L1403.4 627.3L1403.9 627.5L1404.4 627.7L1404.9 627.9L1405.4 628.1L1406.0 628.3L1406.5 628.5L1407.0 628.7L1407.5 628.9L1408.0 629.1L1408.6 629.3L1409.1 629.5L1409.6 629.7L1410.1 629.9L1410.6 630.1L1411.2 630.3L1411.7 630.5L1412.2 630.7L1412.7 630.9L1413.2 631.1L1413.8 631.3L1414.3 631.5L1414.8 631.7L1415.3 631.9L1415.8 632.1L1416.4 632.2L1416.9 632.4L1417.4 632.6L1417.9 632.8L1418.4 633.0L1419.0 633.2L1419.5 633.4L1420.0 633.6L1420.5 633.8L1421.0 634.0L1421.6 634.2L1422.1 634.3L1422.6 634.5L1423.1 634.7L1423.6 634.9L1424.2 635.1L1424.7 635.3L1425.2 635.4L1425.7 635.6L1426.2 635.8L1426.7 636.0L1427.3 636.1L1427.8 636.3L1428.3 636.5L1428.8 636.6L1429.3 636.8L1429.9 637.0L1430.4 637.1L1430.9 637.3L1431.4 637.5L1431.9 637.6L1432.5 637.8L1433.0 637.9L1433.5 638.1L1434.0 638.2L1434.5 638.4L1435.1 638.5L1435.6 638.7L1436.1 638.8L1436.6 638.9L1437.1 639.1L1437.7 639.2L1438.2 639.3L1438.7 639.5L1439.2 639.6L1439.7 639.7L1440.3 639.8L1440.8 640.0L1441.3 640.1L1441.8 640.2L1442.3 640.3L1442.9 640.4L1443.4 640.5L1443.9 640.6L1444.4 640.7L1444.9 640.8L1445.5 640.9L1446.0 641.0L1446.5 641.1L1447.0 641.2L1447.5 641.3L1448.1 641.4L1448.6 641.4L1449.1 641.5L1449.6 641.6L1450.1 641.7L1450.7 641.7L1451.2 641.8L1451.7 641.9L1452.2 641.9L1452.7 642.0L1453.2 642.1L1453.8 642.1L1454.3 642.2L1454.8 642.2L1455.3 642.2L1455.8 642.3L1456.4 642.3L1456.9 642.4L1457.4 642.4L1457.9 642.4L1458.4 642.4L1459.0 642.5L1459.5 642.5L1460.0 642.5L1460.5 642.5L1461.0 642.5L1461.6 642.5L1462.1 642.5L1462.6 642.5L1463.1 642.5L1463.6 642.5L1464.2 642.5L1464.7 642.5L1465.2 642.5L1465.7 642.5L1466.2 642.5L1466.8 642.5L1467.3 642.4L1467.8 642.4L1468.3 642.4L1468.8 642.3L1469.4 642.3L1469.9 642.3L1470.4 642.2L1470.9 642.2L1471.4 642.1L1472.0 642.1L1472.5 642.0L1473.0 642.0L1473.5 641.9L1474.0 641.8L1474.6 641.8L1475.1 641.7L1475.6 641.6L1476.1 641.6L1476.6 641.5L1477.1 641.4L1477.7 641.3L1478.2 641.2L1478.7 641.1L1479.2 641.1L1479.7 641.0L1480.3 640.9L1480.8 640.8L1481.3 640.7L1481.8 640.6L1482.3 640.5L1482.9 640.3L1483.4 640.2L1483.9 640.1L1484.4 640.0L1484.9 639.9L1485.5 639.8L1486.0 639.6L1486.5 639.5L1487.0 639.4L1487.5 639.3L1488.1 639.1L1488.6 639.0L1489.1 638.8L1489.6 638.7L1490.1 638.6L1490.7 638.4L1491.2 638.3L1491.7 638.1L1492.2 638.0L1492.7 637.8L1493.3 637.7L1493.8 637.5L1494.3 637.4L1494.8 637.2L1495.3 637.0L1495.9 636.9L1496.4 636.7L1496.9 636.5L1497.4 636.4L1497.9 636.2L1498.5 636.0L1499.0 635.9L1499.5 635.7L1500.0 635.5L1500.5 635.3L1501.0 635.1L1501.6 635.0L1502.1 634.8L1502.6 634.6L1503.1 634.4L1503.6 634.2L1504.2 634.0L1504.7 633.9L1505.2 633.7L1505.7 633.5L1506.2 633.3L1506.8 633.1L1507.3 632.9L1507.8 632.7L1508.3 632.5L1508.8 632.3L1509.4 632.1L1509.9 631.9L1510.4 631.7L1510.9 631.5L1511.4 631.3L1512.0 631.1L1512.5 630.9L1513.0 630.7L1513.5 630.5L1514.0 630.3L1514.6 630.1L1515.1 629.9L1515.6 629.7L1516.1 629.5L1516.6 629.3L1517.2 629.1L1517.7 628.9L1518.2 628.7L1518.7 628.5L1519.2 628.3L1519.8 628.1L1520.3 627.9L1520.8 627.7L1521.3 627.5L1521.8 627.3L1522.4 627.1L1522.9 626.9L1523.4 626.7L1523.9 626.5L1524.4 626.4L1525.0 626.2L1525.5 626.0L1526.0 625.8L1526.5 625.6L1527.0 625.4L1527.5 625.2L1528.1 625.0L1528.6 624.8L1529.1 624.6L1529.6 624.4L1530.1 624.2L1530.7 624.1L1531.2 623.9L1531.7 623.7L1532.2 623.5L1532.7 623.3L1533.3 623.1L1533.8 623.0L1534.3 622.8L1534.8 622.6L1535.3 622.4L1535.9 622.3L1536.4 622.1L1536.9 621.9L1537.4 621.8L1537.9 621.6L1538.5 621.4L1539.0 621.3L1539.5 621.1L1540.0 620.9L1540.5 620.8L1541.1 620.6L1541.6 620.5L1542.1 620.3L1542.6 620.2L1543.1 620.0L1543.7 619.9L1544.2 619.7L1544.7 619.6L1545.2 619.5L1545.7 619.3L1546.3 619.2L1546.8 619.0L1547.3 618.9L1547.8 618.8L1548.3 618.7L1548.9 618.5L1549.4 618.4L1549.9 618.3L1550.4 618.2L1550.9 618.1L1551.4 618.0L1552.0 617.8L1552.5 617.7L1553.0 617.6L1553.5 617.5L1554.0 617.4L1554.6 617.3L1555.1 617.3L1555.6 617.2L1556.1 617.1L1556.6 617.0L1557.2 616.9L1557.7 616.8L1558.2 616.7L1558.7 616.7L1559.2 616.6L1559.8 616.5L1560.3 616.5L1560.8 616.4L1561.3 616.3L1561.8 616.3L1562.4 616.2L1562.9 616.2L1563.4 616.1L1563.9 616.1L1564.4 616.1L1565.0 616.0L1565.5 616.0L1566.0 615.9L1566.5 615.9L1567.0 615.9L1567.6 615.9L1568.1 615.8L1568.6 615.8L1569.1 615.8L1569.6 615.8L1570.2 615.8L1570.7 615.8L1571.2 615.8L1571.7 615.8L1572.2 615.8L1572.8 615.8L1573.3 615.8L1573.8 615.8L1574.3 615.8L1574.8 615.8L1575.4 615.9L1575.9 615.9L1576.4 615.9L1576.9 615.9L1577.4 616.0L1577.9 616.0L1578.5 616.0L1579.0 616.1L1579.5 616.1L1580.0 616.2L1580.5 616.2L1581.1 616.3L1581.6 616.3L1582.1 616.4L1582.6 616.5L1583.1 616.5L1583.7 616.6L1584.2 616.7L1584.7 616.7L1585.2 616.8L1585.7 616.9L1586.3 617.0L1586.8 617.0L1587.3 617.1L1587.8 617.2L1588.3 617.3L1588.9 617.4L1589.4 617.5L1589.9 617.6L1590.4 617.7L1590.9 617.8L1591.5 617.9L1592.0 618.0L1592.5 618.2L1593.0 618.3L1593.5 618.4L1594.1 618.5L1594.6 618.6L1595.1 618.8L1595.6 618.9L1596.1 619.0L1596.7 619.1L1597.2 619.3L1597.7 619.4L1598.2 619.6L1598.7 619.7L1599.3 619.8L1599.8 620.0L1600.3 620.1L1600.8 620.3L1601.3 620.4L1601.8 620.6L1602.4 620.7L1602.9 620.9L1603.4 621.1L1603.9 621.2L1604.4 621.4L1605.0 621.5L1605.5 621.7L1606.0 621.9L1606.5 622.0L1607.0 622.2L1607.6 622.4L1608.1 622.6L1608.6 622.7L1609.1 622.9L1609.6 623.1L1610.2 623.3L1610.7 623.5L1611.2 623.6L1611.7 623.8L1612.2 624.0L1612.8 624.2L1613.3 624.4L1613.8 624.6L1614.3 624.8L1614.8 624.9L1615.4 625.1L1615.9 625.3L1616.4 625.5L1616.9 625.7L1617.4 625.9L1618.0 626.1L1618.5 626.3L1619.0 626.5L1619.5 626.7L1620.0 626.9L1620.6 627.1L1621.1 627.3L1621.6 627.5L1622.1 627.7L1622.6 627.9L1623.2 628.1L1623.7 628.3L1624.2 628.5L1624.7 628.7L1625.2 628.9L1625.8 629.1L1626.3 629.3L1626.8 629.5L1627.3 629.7L1627.8 629.9L1628.3 630.1L1628.9 630.3L1629.4 630.5L1629.9 630.7L1630.4 630.9L1630.9 631.1L1631.5 631.3L1632.0 631.5L1632.5 631.7L1633.0 631.9L1633.5 632.1L1634.1 632.3L1634.6 632.5L1635.1 632.7L1635.6 632.9L1636.1 633.0L1636.7 633.2L1637.2 633.4L1637.7 633.6L1638.2 633.8L1638.7 634.0L1639.3 634.2L1639.8 634.4L1640.3 634.6L1640.8 634.7L1641.3 634.9L1641.9 635.1L1642.4 635.3L1642.9 635.5L1643.4 635.6L1643.9 635.8L1644.5 636.0L1645.0 636.2L1645.5 636.3L1646.0 636.5L1646.5 636.7L1647.1 636.8L1647.6 637.0L1648.1 637.2L1648.6 637.3L1649.1 637.5L1649.7 637.6L1650.2 637.8L1650.7 637.9L1651.2 638.1L1651.7 638.2L1652.2 638.4L1652.8 638.5L1653.3 638.7L1653.8 638.8L1654.3 638.9L1654.8 639.1L1655.4 639.2L1655.9 639.3L1656.4 639.5L1656.9 639.6L1657.4 639.7L1658.0 639.8L1658.5 640.0L1659.0 640.1L1659.5 640.2L1660.0 640.3L1660.6 640.4L1661.1 640.5L1661.6 640.6L1662.1 640.7L1662.6 640.8L1663.2 640.9L1663.7 641.0L1664.2 641.1L1664.7 641.2L1665.2 641.3L1665.8 641.4L1666.3 641.5L1666.8 641.5L1667.3 641.6L1667.8 641.7L1668.4 641.8L1668.9 641.8L1669.4 641.9L1669.9 641.9L1670.4 642.0L1671.0 642.1L1671.5 642.1L1672.0 642.2L1672.5 642.2L1673.0 642.3L1673.6 642.3L1674.1 642.3L1674.6 642.4L1675.1 642.4L1675.6 642.4L1676.1 642.5L1676.7 642.5L1677.2 642.5L1677.7 642.5L1678.2 642.5L1678.7 642.5L1679.3 642.5L1679.8 642.5L1680.3 642.5L1680.8 642.5L1681.3 642.5L1681.9 642.5L1682.4 642.5L1682.9 642.5L1683.4 642.5L1683.9 642.5L1684.5 642.5L1685.0 642.4L1685.5 642.4L1686.0 642.4L1686.5 642.3L1687.1 642.3L1687.6 642.3L1688.1 642.2L1688.6 642.2L1689.1 642.1L1689.7 642.1L1690.2 642.0L1690.7 642.0L1691.2 641.9L1691.7 641.8L1692.3 641.8L1692.8 641.7L1693.3 641.6L1693.8 641.5L1694.3 641.5L1694.9 641.4L1695.4 641.3L1695.9 641.2L1696.4 641.1L1696.9 641.0L1697.5 640.9L1698.0 640.9L1698.5 640.8L1699.0 640.7L1699.5 640.5L1700.1 640.4L1700.6 640.3L1701.1 640.2L1701.6 640.1L1702.1 640.0L1702.6 639.9L1703.2 639.7L1703.7 639.6L1704.2 639.5L1704.7 639.4L1705.2 639.2L1705.8 639.1L1706.3 639.0L1706.8 638.8L1707.3 638.7L1707.8 638.5L1708.4 638.4L1708.9 638.3L1709.4 638.1L1709.9 638.0L1710.4 637.8L1711.0 637.7L1711.5 637.5L1712.0 637.3L1712.5 637.2L1713.0 637.0L1713.6 636.9L1714.1 636.7L1714.6 636.5L1715.1 636.4L1715.6 636.2L1716.2 636.0L1716.7 635.8L1717.2 635.7L1717.7 635.5L1718.2 635.3L1718.8 635.1L1719.3 634.9L1719.8 634.8L1720.3 634.6L1720.8 634.4L1721.4 634.2L1721.9 634.0L1722.4 633.8L1722.9 633.6L1723.4 633.5L1724.0 633.3L1724.5 633.1L1725.0 632.9L1725.5 632.7L1726.0 632.5L1726.5 632.3L1727.1 632.1L1727.6 631.9L1728.1 631.7L1728.6 631.5L1729.1 631.3L1729.7 631.1L1730.2 630.9L1730.7 630.7L1731.2 630.5L1731.7 630.3L1732.3 630.1L1732.8 629.9L1733.3 629.7L1733.8 629.5L1734.3 629.3L1734.9 629.1L1735.4 628.9L1735.9 628.7L1736.4 628.5L1736.9 628.3L1737.5 628.1L1738.0 627.9L1738.5 627.7L1739.0 627.5L1739.5 627.3L1740.1 627.1L1740.6 626.9L1741.1 626.7L1741.6 626.5L1742.1 626.3L1742.7 626.1L1743.2 625.9L1743.7 625.7L1744.2 625.5L1744.7 625.4L1745.3 625.2L1745.8 625.0L1746.3 624.8L1746.8 624.6L1747.3 624.4L1747.9 624.2L1748.4 624.0L1748.9 623.8L1749.4 623.7L1749.9 623.5L1750.5 623.3L1751.0 623.1L1751.5 622.9L1752.0 622.8L1752.5 622.6L1753.0 622.4L1753.6 622.2L1754.1 622.1L1754.6 621.9L1755.1 621.7L1755.6 621.6L1756.2 621.4L1756.7 621.2L1757.2 621.1L1757.7 620.9L1758.2 620.8L1758.8 620.6L1759.3 620.5L1759.8 620.3L1760.3 620.2L1760.8 620.0L1761.4 619.9L1761.9 619.7L1762.4 619.6L1762.9 619.4L1763.4 619.3L1764.0 619.2L1764.5 619.0L1765.0 618.9L1765.5 618.8L1766.0 618.6L1766.6 618.5L1767.1 618.4L1767.6 618.3L1768.1 618.2L1768.6 618.1L1769.2 617.9L1769.7 617.8L1770.2 617.7L1770.7 617.6L1771.2 617.5L1771.8 617.4L1772.3 617.3L1772.8 617.2L1773.3 617.1L1773.8 617.1L1774.4 617.0L1774.9 616.9L1775.4 616.8L1775.9 616.7L1776.4 616.7L1776.9 616.6L1777.5 616.5L1778.0 616.5L1778.5 616.4L1779.0 616.3L1779.5 616.3L1780.1 616.2L1780.6 616.2L1781.1 616.1L1781.6 616.1L1782.1 616.0L1782.7 616.0L1783.2 616.0L1783.7 615.9L1784.2 615.9L1784.7 615.9L1785.3 615.9L1785.8 615.8L1786.3 615.8L1786.8 615.8L1787.3 615.8L1787.9 615.8L1788.4 615.8L1788.9 615.8L1789.4 615.8L1789.9 615.8L1790.5 615.8L1791.0 615.8L1791.5 615.8L1792.0 615.8L1792.5 615.8L1793.1 615.9L1793.6 615.9L1794.1 615.9L1794.6 615.9L1795.1 616.0L1795.7 616.0L1796.2 616.0L1796.7 616.1L1797.2 616.1L1797.7 616.2L1798.3 616.2L1798.8 616.3L1799.3 616.3L1799.8 616.4L1800.3 616.5L1800.8 616.5L1801.4 616.6L1801.9 616.7L1802.4 616.7L1802.9 616.8L1803.4 616.9L1804.0 617.0L1804.5 617.1L1805.0 617.1L1805.5 617.2L1806.0 617.3L1806.6 617.4L1807.1 617.5L1807.6 617.6L1808.1 617.7L1808.6 617.8L1809.2 617.9L1809.7 618.1L1810.2 618.2L1810.7 618.3L1811.2 618.4L1811.8 618.5L1812.3 618.6L1812.8 618.8" stroke="#0000ff" stroke-width="11.6"/>
</g>
<path d="M289.7 682.9H484.3V551.5H289.7Z" fill="none" stroke="#ff0000" stroke-width="3.0" stroke-dasharray="25.5 13.56"/>
<path d="M297.4 677.4H479.7V556.6H297.4Z" fill="none" stroke="#ff0000" stroke-width="3.0" stroke-dasharray="25.5 13.56"/>
<path d="M883.8 728.4H1199.5V522.1H883.8Z" fill="none" stroke="#ff0000" stroke-width="3.0" stroke-dasharray="25.5 13.56"/>
<path d="M889.4 722.6H1194.6V527.7H889.4Z" fill="none" stroke="#ff0000" stroke-width="3.0" stroke-dasharray="25.5 13.56"/>
<path d="M1269.1 65.8H1530.9" stroke="#00ffff" stroke-width="11.0" stroke-dasharray="52.6 19.7 13.2 19.7"/>
<path d="M1269.1 141.1H1530.9" stroke="#ff0000" stroke-width="10.399999999999999" stroke-dasharray="52.6 19.7 13.2 19.7"/>
<path d="M1269.1 216.6H1530.9" stroke="#0000ff" stroke-width="12.2"/>
<text transform="translate(1548.71 88.43)" font-size="64" fill="#000" font-style="italic">BSC</text>
<text transform="translate(1549.65 164.32)" font-size="64" fill="#000" font-style="italic">RA-BSC</text>
<text transform="translate(1549.65 239.22)" font-size="64" fill="#000" font-style="italic">RAS-BSC</text>
<rect x="382.3" y="49.6" width="594.90" height="378.70" fill="#fff" stroke="#000" stroke-width="6.3" stroke-linejoin="round"/>
<clipPath id="ci1"><rect x="458.30" y="82.50" width="498.70" height="239.40"/></clipPath>
<path d="M464.30 88.50H951.00M464.30 163.40H951.00M464.30 238.30H951.00M464.30 313.20H951.00M469.70 82.50V321.90M805.40 82.50V321.90" stroke="#dedede" stroke-width="3.6" fill="none"/>
<path d="M464.30 82.50V321.90M462.50 321.90H952.00M464.30 88.50h7.0M464.30 163.40h7.0M464.30 238.30h7.0M464.30 313.20h7.0M469.70 321.90v-7.0M805.40 321.90v-7.0" stroke="#262626" stroke-width="3.6" fill="none"/>
<g clip-path="url(#ci1)" fill="none" stroke-linejoin="round">
<path d="M464.3 217.0L465.6 217.3L467.0 217.5L468.3 217.8L469.7 218.1L471.0 218.3L472.4 218.6L473.7 218.9L475.0 219.2L476.4 219.5L477.7 219.8L479.1 220.1L480.4 220.4L481.8 220.7L483.1 221.0L484.4 221.3L485.8 221.6L487.1 221.9L488.5 222.2L489.8 222.5L491.2 222.8L492.5 223.1L493.8 223.4L495.2 223.7L496.5 224.0L497.9 224.2L499.2 224.5L500.6 224.7L501.9 224.9L503.2 225.2L504.6 225.4L505.9 225.6L507.3 225.7L508.6 225.9L510.0 226.1L511.3 226.3L512.6 226.5L514.0 226.6L515.3 226.8L516.7 227.0L518.0 227.1L519.4 227.3L520.7 227.5L522.0 227.6L523.4 227.8L524.7 227.9L526.1 228.1L527.4 228.2L528.8 228.4L530.1 228.5L531.4 228.7L532.8 228.8L534.1 229.0L535.5 229.1L536.8 229.2L538.2 229.4L539.5 229.5L540.8 229.6L542.2 229.8L543.5 229.9L544.9 230.0L546.2 230.1L547.6 230.3L548.9 230.4L550.2 230.5L551.6 230.6L552.9 230.7L554.3 230.8L555.6 230.9L557.0 231.0L558.3 231.2L559.6 231.3L561.0 231.4L562.3 231.5L563.7 231.6L565.0 231.7L566.4 231.8L567.7 231.9L569.0 231.9L570.4 232.0L571.7 232.1L573.1 232.2L574.4 232.3L575.8 232.4L577.1 232.5L578.4 232.6L579.8 232.6L581.1 232.7L582.5 232.8L583.8 232.9L585.2 233.0L586.5 233.1L587.8 233.2L589.2 233.2L590.5 233.3L591.9 233.4L593.2 233.5L594.6 233.6L595.9 233.6L597.2 233.7L598.6 233.8L599.9 233.9L601.3 234.0L602.6 234.0L604.0 234.1L605.3 234.2L606.6 234.3L608.0 234.3L609.3 234.4L610.7 234.5L612.0 234.6L613.4 234.6L614.7 234.7L616.0 234.8L617.4 234.8L618.7 234.9L620.1 235.0L621.4 235.0L622.8 235.1L624.1 235.2L625.4 235.2L626.8 235.3L628.1 235.4L629.5 235.4L630.8 235.5L632.1 235.5L633.5 235.6L634.8 235.7L636.2 235.7L637.5 235.8L638.9 235.8L640.2 235.9L641.5 235.9L642.9 236.0L644.2 236.0L645.6 236.1L646.9 236.1L648.3 236.2L649.6 236.2L650.9 236.3L652.3 236.3L653.6 236.4L655.0 236.4L656.3 236.4L657.7 236.5L659.0 236.5L660.3 236.6L661.7 236.6L663.0 236.6L664.4 236.7L665.7 236.7L667.1 236.7L668.4 236.7L669.7 236.8L671.1 236.8L672.4 236.8L673.8 236.9L675.1 236.9L676.5 236.9L677.8 236.9L679.1 236.9L680.5 237.0L681.8 237.0L683.2 237.0L684.5 237.0L685.9 237.1L687.2 237.1L688.5 237.1L689.9 237.1L691.2 237.2L692.6 237.2L693.9 237.2L695.3 237.2L696.6 237.3L697.9 237.3L699.3 237.3L700.6 237.3L702.0 237.3L703.3 237.4L704.7 237.4L706.0 237.4L707.3 237.4L708.7 237.5L710.0 237.5L711.4 237.5L712.7 237.5L714.1 237.5L715.4 237.6L716.7 237.6L718.1 237.6L719.4 237.6L720.8 237.6L722.1 237.7L723.5 237.7L724.8 237.7L726.1 237.7L727.5 237.7L728.8 237.7L730.2 237.8L731.5 237.8L732.9 237.8L734.2 237.8L735.5 237.8L736.9 237.8L738.2 237.9L739.6 237.9L740.9 237.9L742.3 237.9L743.6 237.9L744.9 237.9L746.3 238.0L747.6 238.0L749.0 238.0L750.3 238.0L751.7 238.0L753.0 238.0L754.3 238.0L755.7 238.1L757.0 238.1L758.4 238.1L759.7 238.1L761.1 238.1L762.4 238.1L763.7 238.1L765.1 238.1L766.4 238.1L767.8 238.2L769.1 238.2L770.5 238.2L771.8 238.2L773.1 238.2L774.5 238.2L775.8 238.2L777.2 238.2L778.5 238.2L779.9 238.2L781.2 238.2L782.5 238.2L783.9 238.3L785.2 238.3L786.6 238.3L787.9 238.3L789.3 238.3L790.6 238.3L791.9 238.3L793.3 238.3L794.6 238.3L796.0 238.3L797.3 238.3L798.7 238.3L800.0 238.3L801.3 238.3L802.7 238.3L804.0 238.3L805.4 238.3L806.7 238.3L808.1 238.3L809.4 238.3L810.7 238.3L812.1 238.3L813.4 238.3L814.8 238.3L816.1 238.3L817.5 238.3L818.8 238.3L820.1 238.3L821.5 238.3L822.8 238.3L824.2 238.3L825.5 238.3L826.9 238.3L828.2 238.3L829.5 238.3L830.9 238.3L832.2 238.3L833.6 238.3L834.9 238.3L836.3 238.3L837.6 238.3L838.9 238.3L840.3 238.3L841.6 238.3L843.0 238.3L844.3 238.3L845.7 238.3L847.0 238.3L848.3 238.3L849.7 238.3L851.0 238.3L852.4 238.3L853.7 238.3L855.1 238.3L856.4 238.3L857.7 238.3L859.1 238.3L860.4 238.3L861.8 238.3L863.1 238.3L864.5 238.3L865.8 238.3L867.1 238.3L868.5 238.3L869.8 238.3L871.2 238.3L872.5 238.3L873.9 238.3L875.2 238.3L876.5 238.3L877.9 238.3L879.2 238.3L880.6 238.3L881.9 238.3L883.3 238.3L884.6 238.3L885.9 238.3L887.3 238.3L888.6 238.3L890.0 238.3L891.3 238.3L892.7 238.3L894.0 238.3L895.3 238.3L896.7 238.3L898.0 238.3L899.4 238.3L900.7 238.3L902.1 238.3L903.4 238.3L904.7 238.3L906.1 238.3L907.4 238.3L908.8 238.3L910.1 238.3L911.5 238.3L912.8 238.3L914.1 238.3L915.5 238.3L916.8 238.3L918.2 238.3L919.5 238.3L920.9 238.3L922.2 238.3L923.5 238.3L924.9 238.3L926.2 238.3L927.6 238.3L928.9 238.3L930.3 238.3L931.6 238.3L932.9 238.3L934.3 238.3L935.6 238.3L937.0 238.3L938.3 238.3L939.7 238.3L941.0 238.3L942.3 238.3L943.7 238.3L945.0 238.3L946.4 238.3L947.7 238.3L949.1 238.3L950.4 238.3L950.9 238.3" stroke="#00ffff" stroke-width="8.6" stroke-dasharray="43.75 16.37 11.01 16.37" stroke-dashoffset="0.0"/>
<path d="M464.3 131.9L465.6 133.3L467.0 134.6L468.3 135.9L469.7 137.2L471.0 138.4L472.4 139.7L473.7 140.9L475.0 142.1L476.4 143.3L477.7 144.5L479.1 145.7L480.4 146.9L481.8 148.1L483.1 149.2L484.4 150.3L485.8 151.4L487.1 152.5L488.5 153.6L489.8 154.6L491.2 155.7L492.5 156.7L493.8 157.7L495.2 158.6L496.5 159.6L497.9 160.5L499.2 161.5L500.6 162.4L501.9 163.4L503.2 164.3L504.6 165.2L505.9 166.1L507.3 167.1L508.6 168.0L510.0 168.9L511.3 169.8L512.6 170.7L514.0 171.6L515.3 172.5L516.7 173.4L518.0 174.3L519.4 175.1L520.7 176.0L522.0 176.8L523.4 177.7L524.7 178.5L526.1 179.4L527.4 180.2L528.8 181.0L530.1 181.8L531.4 182.6L532.8 183.3L534.1 184.1L535.5 184.8L536.8 185.6L538.2 186.3L539.5 187.0L540.8 187.7L542.2 188.4L543.5 189.0L544.9 189.7L546.2 190.3L547.6 191.0L548.9 191.6L550.2 192.2L551.6 192.7L552.9 193.3L554.3 193.8L555.6 194.3L557.0 194.8L558.3 195.3L559.6 195.8L561.0 196.3L562.3 196.8L563.7 197.2L565.0 197.7L566.4 198.2L567.7 198.6L569.0 199.1L570.4 199.5L571.7 199.9L573.1 200.4L574.4 200.8L575.8 201.2L577.1 201.6L578.4 202.1L579.8 202.5L581.1 202.9L582.5 203.3L583.8 203.7L585.2 204.0L586.5 204.4L587.8 204.8L589.2 205.2L590.5 205.6L591.9 205.9L593.2 206.3L594.6 206.6L595.9 207.0L597.2 207.3L598.6 207.7L599.9 208.0L601.3 208.4L602.6 208.7L604.0 209.0L605.3 209.4L606.6 209.7L608.0 210.0L609.3 210.3L610.7 210.6L612.0 210.9L613.4 211.2L614.7 211.5L616.0 211.8L617.4 212.1L618.7 212.4L620.1 212.7L621.4 213.0L622.8 213.3L624.1 213.5L625.4 213.8L626.8 214.1L628.1 214.4L629.5 214.6L630.8 214.9L632.1 215.1L633.5 215.4L634.8 215.7L636.2 215.9L637.5 216.2L638.9 216.4L640.2 216.7L641.5 216.9L642.9 217.1L644.2 217.4L645.6 217.6L646.9 217.9L648.3 218.1L649.6 218.3L650.9 218.6L652.3 218.8L653.6 219.0L655.0 219.2L656.3 219.5L657.7 219.7L659.0 219.9L660.3 220.1L661.7 220.4L663.0 220.6L664.4 220.8L665.7 221.0L667.1 221.2L668.4 221.4L669.7 221.6L671.1 221.9L672.4 222.1L673.8 222.3L675.1 222.5L676.5 222.7L677.8 222.9L679.1 223.1L680.5 223.3L681.8 223.5L683.2 223.7L684.5 223.8L685.9 224.0L687.2 224.2L688.5 224.4L689.9 224.6L691.2 224.8L692.6 225.0L693.9 225.1L695.3 225.3L696.6 225.5L697.9 225.7L699.3 225.8L700.6 226.0L702.0 226.2L703.3 226.3L704.7 226.5L706.0 226.7L707.3 226.8L708.7 227.0L710.0 227.2L711.4 227.3L712.7 227.5L714.1 227.6L715.4 227.8L716.7 227.9L718.1 228.1L719.4 228.2L720.8 228.4L722.1 228.5L723.5 228.6L724.8 228.8L726.1 228.9L727.5 229.1L728.8 229.2L730.2 229.3L731.5 229.4L732.9 229.6L734.2 229.7L735.5 229.8L736.9 229.9L738.2 230.1L739.6 230.2L740.9 230.3L742.3 230.4L743.6 230.5L744.9 230.6L746.3 230.8L747.6 230.9L749.0 231.0L750.3 231.1L751.7 231.2L753.0 231.3L754.3 231.4L755.7 231.5L757.0 231.6L758.4 231.8L759.7 231.9L761.1 232.0L762.4 232.1L763.7 232.2L765.1 232.3L766.4 232.4L767.8 232.5L769.1 232.6L770.5 232.7L771.8 232.8L773.1 232.9L774.5 232.9L775.8 233.0L777.2 233.1L778.5 233.2L779.9 233.3L781.2 233.4L782.5 233.5L783.9 233.5L785.2 233.6L786.6 233.7L787.9 233.8L789.3 233.8L790.6 233.9L791.9 234.0L793.3 234.0L794.6 234.1L796.0 234.2L797.3 234.2L798.7 234.3L800.0 234.4L801.3 234.4L802.7 234.5L804.0 234.5L805.4 234.6L806.7 234.6L808.1 234.6L809.4 234.7L810.7 234.7L812.1 234.8L813.4 234.8L814.8 234.9L816.1 234.9L817.5 235.0L818.8 235.0L820.1 235.0L821.5 235.1L822.8 235.1L824.2 235.2L825.5 235.2L826.9 235.2L828.2 235.3L829.5 235.3L830.9 235.4L832.2 235.4L833.6 235.4L834.9 235.5L836.3 235.5L837.6 235.6L838.9 235.6L840.3 235.6L841.6 235.7L843.0 235.7L844.3 235.7L845.7 235.8L847.0 235.8L848.3 235.8L849.7 235.9L851.0 235.9L852.4 236.0L853.7 236.0L855.1 236.0L856.4 236.1L857.7 236.1L859.1 236.1L860.4 236.1L861.8 236.2L863.1 236.2L864.5 236.2L865.8 236.3L867.1 236.3L868.5 236.3L869.8 236.4L871.2 236.4L872.5 236.4L873.9 236.5L875.2 236.5L876.5 236.5L877.9 236.5L879.2 236.6L880.6 236.6L881.9 236.6L883.3 236.6L884.6 236.7L885.9 236.7L887.3 236.7L888.6 236.7L890.0 236.8L891.3 236.8L892.7 236.8L894.0 236.8L895.3 236.9L896.7 236.9L898.0 236.9L899.4 236.9L900.7 236.9L902.1 237.0L903.4 237.0L904.7 237.0L906.1 237.0L907.4 237.0L908.8 237.1L910.1 237.1L911.5 237.1L912.8 237.1L914.1 237.1L915.5 237.2L916.8 237.2L918.2 237.2L919.5 237.2L920.9 237.2L922.2 237.2L923.5 237.2L924.9 237.3L926.2 237.3L927.6 237.3L928.9 237.3L930.3 237.3L931.6 237.3L932.9 237.3L934.3 237.4L935.6 237.4L937.0 237.4L938.3 237.4L939.7 237.4L941.0 237.4L942.3 237.4L943.7 237.4L945.0 237.4L946.4 237.5L947.7 237.5L949.1 237.5L950.4 237.5" stroke="#ff0000" stroke-width="8.6" stroke-dasharray="43.75 16.37 11.01 16.37" stroke-dashoffset="85.2"/>
<path d="M464.3 216.7L465.6 217.1L467.0 217.4L468.3 217.7L469.7 218.1L471.0 218.4L472.4 218.7L473.7 219.1L475.0 219.4L476.4 219.7L477.7 220.0L479.1 220.3L480.4 220.7L481.8 221.0L483.1 221.3L484.4 221.6L485.8 221.9L487.1 222.2L488.5 222.5L489.8 222.7L491.2 223.0L492.5 223.3L493.8 223.5L495.2 223.8L496.5 224.0L497.9 224.3L499.2 224.5L500.6 224.7L501.9 225.0L503.2 225.2L504.6 225.4L505.9 225.6L507.3 225.7L508.6 225.9L510.0 226.1L511.3 226.3L512.6 226.5L514.0 226.6L515.3 226.8L516.7 227.0L518.0 227.1L519.4 227.3L520.7 227.5L522.0 227.6L523.4 227.8L524.7 227.9L526.1 228.1L527.4 228.2L528.8 228.4L530.1 228.5L531.4 228.7L532.8 228.8L534.1 229.0L535.5 229.1L536.8 229.2L538.2 229.4L539.5 229.5L540.8 229.6L542.2 229.8L543.5 229.9L544.9 230.0L546.2 230.1L547.6 230.3L548.9 230.4L550.2 230.5L551.6 230.6L552.9 230.7L554.3 230.8L555.6 230.9L557.0 231.0L558.3 231.2L559.6 231.3L561.0 231.4L562.3 231.5L563.7 231.6L565.0 231.7L566.4 231.8L567.7 231.9L569.0 231.9L570.4 232.0L571.7 232.1L573.1 232.2L574.4 232.3L575.8 232.4L577.1 232.5L578.4 232.6L579.8 232.6L581.1 232.7L582.5 232.8L583.8 232.9L585.2 233.0L586.5 233.1L587.8 233.2L589.2 233.2L590.5 233.3L591.9 233.4L593.2 233.5L594.6 233.6L595.9 233.6L597.2 233.7L598.6 233.8L599.9 233.9L601.3 234.0L602.6 234.0L604.0 234.1L605.3 234.2L606.6 234.3L608.0 234.3L609.3 234.4L610.7 234.5L612.0 234.6L613.4 234.6L614.7 234.7L616.0 234.8L617.4 234.8L618.7 234.9L620.1 235.0L621.4 235.0L622.8 235.1L624.1 235.2L625.4 235.2L626.8 235.3L628.1 235.4L629.5 235.4L630.8 235.5L632.1 235.5L633.5 235.6L634.8 235.7L636.2 235.7L637.5 235.8L638.9 235.8L640.2 235.9L641.5 235.9L642.9 236.0L644.2 236.0L645.6 236.1L646.9 236.1L648.3 236.2L649.6 236.2L650.9 236.3L652.3 236.3L653.6 236.4L655.0 236.4L656.3 236.4L657.7 236.5L659.0 236.5L660.3 236.6L661.7 236.6L663.0 236.6L664.4 236.7L665.7 236.7L667.1 236.7L668.4 236.7L669.7 236.8L671.1 236.8L672.4 236.8L673.8 236.9L675.1 236.9L676.5 236.9L677.8 236.9L679.1 236.9L680.5 237.0L681.8 237.0L683.2 237.0L684.5 237.0L685.9 237.1L687.2 237.1L688.5 237.1L689.9 237.1L691.2 237.2L692.6 237.2L693.9 237.2L695.3 237.2L696.6 237.3L697.9 237.3L699.3 237.3L700.6 237.3L702.0 237.3L703.3 237.4L704.7 237.4L706.0 237.4L707.3 237.4L708.7 237.5L710.0 237.5L711.4 237.5L712.7 237.5L714.1 237.5L715.4 237.6L716.7 237.6L718.1 237.6L719.4 237.6L720.8 237.6L722.1 237.7L723.5 237.7L724.8 237.7L726.1 237.7L727.5 237.7L728.8 237.7L730.2 237.8L731.5 237.8L732.9 237.8L734.2 237.8L735.5 237.8L736.9 237.8L738.2 237.9L739.6 237.9L740.9 237.9L742.3 237.9L743.6 237.9L744.9 237.9L746.3 238.0L747.6 238.0L749.0 238.0L750.3 238.0L751.7 238.0L753.0 238.0L754.3 238.0L755.7 238.1L757.0 238.1L758.4 238.1L759.7 238.1L761.1 238.1L762.4 238.1L763.7 238.1L765.1 238.1L766.4 238.1L767.8 238.2L769.1 238.2L770.5 238.2L771.8 238.2L773.1 238.2L774.5 238.2L775.8 238.2L777.2 238.2L778.5 238.2L779.9 238.2L781.2 238.2L782.5 238.2L783.9 238.3L785.2 238.3L786.6 238.3L787.9 238.3L789.3 238.3L790.6 238.3L791.9 238.3L793.3 238.3L794.6 238.3L796.0 238.3L797.3 238.3L798.7 238.3L800.0 238.3L801.3 238.3L802.7 238.3L804.0 238.3L805.4 238.3L806.7 238.3L808.1 238.3L809.4 238.3L810.7 238.3L812.1 238.3L813.4 238.3L814.8 238.3L816.1 238.3L817.5 238.3L818.8 238.3L820.1 238.3L821.5 238.3L822.8 238.3L824.2 238.3L825.5 238.3L826.9 238.3L828.2 238.3L829.5 238.3L830.9 238.3L832.2 238.3L833.6 238.3L834.9 238.3L836.3 238.3L837.6 238.3L838.9 238.3L840.3 238.3L841.6 238.3L843.0 238.3L844.3 238.3L845.7 238.3L847.0 238.3L848.3 238.3L849.7 238.3L851.0 238.3L852.4 238.3L853.7 238.3L855.1 238.3L856.4 238.3L857.7 238.3L859.1 238.3L860.4 238.3L861.8 238.3L863.1 238.3L864.5 238.3L865.8 238.3L867.1 238.3L868.5 238.3L869.8 238.3L871.2 238.3L872.5 238.3L873.9 238.3L875.2 238.3L876.5 238.3L877.9 238.3L879.2 238.3L880.6 238.3L881.9 238.3L883.3 238.3L884.6 238.3L885.9 238.3L887.3 238.3L888.6 238.3L890.0 238.3L891.3 238.3L892.7 238.3L894.0 238.3L895.3 238.3L896.7 238.3L898.0 238.3L899.4 238.3L900.7 238.3L902.1 238.3L903.4 238.3L904.7 238.3L906.1 238.3L907.4 238.3L908.8 238.3L910.1 238.3L911.5 238.3L912.8 238.3L914.1 238.3L915.5 238.3L916.8 238.3L918.2 238.3L919.5 238.3L920.9 238.3L922.2 238.3L923.5 238.3L924.9 238.3L926.2 238.3L927.6 238.3L928.9 238.3L930.3 238.3L931.6 238.3L932.9 238.3L934.3 238.3L935.6 238.3L937.0 238.3L938.3 238.3L939.7 238.3L941.0 238.3L942.3 238.3L943.7 238.3L945.0 238.3L946.4 238.3L947.7 238.3L949.1 238.3L950.4 238.3" stroke="#0000ff" stroke-width="10.9"/>
</g>
<rect x="577" y="60" width="232.50" height="68.50" fill="#fff"/>
<text transform="translate(617.10 111.81) scale(0.94 1)" font-size="55.7" fill="#000" font-weight="bold">Inset 1</text>
<text transform="translate(404.83 109.95) scale(0.94 1)" font-size="63.5" fill="#262626">2</text>
<text transform="translate(404.86 183.65) scale(0.94 1)" font-size="63.5" fill="#262626">1</text>
<text transform="translate(404.63 258.29) scale(0.94 1)" font-size="63.5" fill="#262626">0</text>
<text transform="translate(385.91 332.95) scale(0.94 1)" font-size="63.5" fill="#262626">-1</text>
<text transform="translate(451.55 408.68) scale(0.94 1)" font-size="63.5" fill="#262626">5</text>
<text transform="translate(774.19 408.69) scale(0.94 1)" font-size="63.5" fill="#262626">10</text>
<rect x="1181.7" y="840.0" width="556.80" height="327.00" fill="#fff" stroke="#000" stroke-width="6.3" stroke-linejoin="round"/>
<clipPath id="ci2"><rect x="1264.80" y="854.00" width="451.00" height="221.00"/></clipPath>
<path d="M1270.80 879.60H1709.80M1270.80 968.40H1709.80M1270.80 1057.20H1709.80M1270.80 854.00V1075.00M1561.90 854.00V1075.00" stroke="#dedede" stroke-width="3.6" fill="none"/>
<path d="M1270.80 854.00V1075.00M1269.00 1075.00H1710.80M1270.80 879.60h7.0M1270.80 968.40h7.0M1270.80 1057.20h7.0M1270.80 1075.00v-7.0M1561.90 1075.00v-7.0" stroke="#262626" stroke-width="3.6" fill="none"/>
<g clip-path="url(#ci2)" fill="none" stroke-linejoin="round">
<path d="M1319.6 1104.5L1319.9 1098.6L1320.2 1092.7L1320.5 1086.7L1320.8 1080.8L1321.1 1074.9L1321.4 1069.0L1321.7 1063.1L1322.0 1057.2L1322.3 1051.3L1322.6 1045.5L1322.8 1039.6L1323.1 1033.7L1323.4 1027.9L1323.7 1022.0L1324.0 1016.2L1324.3 1010.3L1324.6 1004.5L1324.9 998.6L1325.2 992.8L1325.5 987.0L1325.8 981.2L1326.1 975.4L1326.3 969.6L1326.6 963.8L1326.9 958.0L1327.2 952.2L1327.5 946.3L1327.8 940.5L1328.1 934.7L1328.4 928.9L1328.7 923.0L1329.0 917.2L1329.3 911.3L1329.5 905.5L1329.8 899.6L1330.1 893.7L1330.4 887.8L1330.7 882.0L1331.0 876.1L1331.3 870.2L1331.6 864.3L1331.9 858.4L1332.2 852.5L1332.5 846.5L1332.7 840.6L1333.0 834.7L1333.3 828.7L1333.5 824.5" stroke="#00ffff" stroke-width="8.0" stroke-dasharray="41.88 15.67 10.54 15.67" stroke-dashoffset="54.9"/>
<path d="M1471.7 824.5L1472.0 830.5L1472.3 836.4L1472.6 842.4L1472.9 848.3L1473.1 854.2L1473.4 860.1L1473.7 866.0L1474.0 871.8L1474.3 877.7L1474.6 883.6L1474.9 889.4L1475.2 895.3L1475.5 901.1L1475.8 907.0L1476.1 912.8L1476.3 918.7L1476.6 924.5L1476.9 930.4L1477.2 936.2L1477.5 942.0L1477.8 947.9L1478.1 953.7L1478.4 959.6L1478.7 965.5L1479.0 971.3L1479.3 977.2L1479.5 983.0L1479.8 988.9L1480.1 994.7L1480.4 1000.6L1480.7 1006.4L1481.0 1012.3L1481.3 1018.1L1481.6 1024.0L1481.9 1029.8L1482.2 1035.6L1482.5 1041.5L1482.7 1047.4L1483.0 1053.2L1483.3 1059.1L1483.6 1064.9L1483.9 1070.8L1484.2 1076.7L1484.5 1082.6L1484.8 1088.5L1485.1 1094.4L1485.4 1100.3L1485.6 1104.5" stroke="#00ffff" stroke-width="8.0" stroke-dasharray="41.88 15.67 10.54 15.67" stroke-dashoffset="52.1"/>
<path d="M1624.5 1104.5L1624.8 1098.6L1625.1 1092.7L1625.4 1086.7L1625.7 1080.8L1625.9 1074.9L1626.2 1069.0L1626.5 1063.1L1626.8 1057.2L1627.1 1051.3L1627.4 1045.5L1627.7 1039.6L1628.0 1033.7L1628.3 1027.9L1628.6 1022.0L1628.9 1016.1L1629.1 1010.3L1629.4 1004.5L1629.7 998.6L1630.0 992.8L1630.3 987.0L1630.6 981.2L1630.9 975.4L1631.2 969.6L1631.5 963.8L1631.8 958.0L1632.1 952.1L1632.3 946.3L1632.6 940.5L1632.9 934.7L1633.2 928.8L1633.5 923.0L1633.8 917.1L1634.1 911.3L1634.4 905.4L1634.7 899.6L1635.0 893.7L1635.3 887.8L1635.5 881.9L1635.8 876.1L1636.1 870.2L1636.4 864.3L1636.7 858.4L1637.0 852.4L1637.3 846.5L1637.6 840.6L1637.9 834.7L1638.2 828.7L1638.4 824.5" stroke="#00ffff" stroke-width="8.0" stroke-dasharray="41.88 15.67 10.54 15.67" stroke-dashoffset="55.1"/>
<path d="M1270.8 953.1L1271.1 952.6L1271.4 952.0L1271.7 951.4L1272.0 950.9L1272.3 950.3L1272.5 949.7L1272.8 949.2L1273.1 948.6L1273.4 948.1L1273.7 947.5L1274.0 946.9L1274.3 946.4L1274.6 945.8L1274.9 945.3L1275.2 944.7L1275.5 944.2L1275.7 943.6L1276.0 943.0L1276.3 942.5L1276.6 941.9L1276.9 941.4L1277.2 940.8L1277.5 940.3L1277.8 939.8L1278.1 939.2L1278.4 938.7L1278.7 938.1L1279.0 937.6L1279.2 937.0L1279.5 936.5L1279.8 936.0L1280.1 935.4L1280.4 934.9L1280.7 934.3L1281.0 933.8L1281.3 933.3L1281.6 932.7L1281.9 932.2L1282.2 931.7L1282.4 931.2L1282.7 930.6L1283.0 930.1L1283.3 929.6L1283.6 929.1L1283.9 928.5L1284.2 928.0L1284.5 927.5L1284.8 927.0L1285.1 926.5L1285.4 926.0L1285.6 925.4L1285.9 924.9L1286.2 924.4L1286.5 923.9L1286.8 923.4L1287.1 922.9L1287.4 922.4L1287.7 921.9L1288.0 921.4L1288.3 920.9L1288.6 920.4L1288.8 919.9L1289.1 919.4L1289.4 918.9L1289.7 918.4L1290.0 918.0L1290.3 917.5L1290.6 917.0L1290.9 916.5L1291.2 916.0L1291.5 915.5L1291.8 915.1L1292.1 914.6L1292.3 914.1L1292.6 913.7L1292.9 913.2L1293.2 912.7L1293.5 912.3L1293.8 911.8L1294.1 911.3L1294.4 910.9L1294.7 910.4L1295.0 910.0L1295.3 909.5L1295.5 909.1L1295.8 908.6L1296.1 908.2L1296.4 907.7L1296.7 907.3L1297.0 906.8L1297.3 906.4L1297.6 906.0L1297.9 905.5L1298.2 905.1L1298.5 904.7L1298.7 904.3L1299.0 903.8L1299.3 903.4L1299.6 903.0L1299.9 902.6L1300.2 902.2L1300.5 901.8L1300.8 901.3L1301.1 900.9L1301.4 900.5L1301.7 900.1L1301.9 899.7L1302.2 899.3L1302.5 898.9L1302.8 898.6L1303.1 898.2L1303.4 897.8L1303.7 897.4L1304.0 897.0L1304.3 896.6L1304.6 896.3L1304.9 895.9L1305.1 895.5L1305.4 895.1L1305.7 894.8L1306.0 894.4L1306.3 894.1L1306.6 893.7L1306.9 893.3L1307.2 893.0L1307.5 892.6L1307.8 892.3L1308.1 891.9L1308.4 891.6L1308.6 891.3L1308.9 890.9L1309.2 890.6L1309.5 890.3L1309.8 889.9L1310.1 889.6L1310.4 889.3L1310.7 889.0L1311.0 888.7L1311.3 888.3L1311.6 888.0L1311.8 887.7L1312.1 887.4L1312.4 887.1L1312.7 886.8L1313.0 886.5L1313.3 886.2L1313.6 885.9L1313.9 885.7L1314.2 885.4L1314.5 885.1L1314.8 884.8L1315.0 884.5L1315.3 884.3L1315.6 884.0L1315.9 883.7L1316.2 883.5L1316.5 883.2L1316.8 882.9L1317.1 882.7L1317.4 882.4L1317.7 882.2L1318.0 882.0L1318.2 881.7L1318.5 881.5L1318.8 881.2L1319.1 881.0L1319.4 880.8L1319.7 880.6L1320.0 880.3L1320.3 880.1L1320.6 879.9L1320.9 879.7L1321.2 879.5L1321.5 879.3L1321.7 879.1L1322.0 878.9L1322.3 878.7L1322.6 878.5L1322.9 878.3L1323.2 878.1L1323.5 877.9L1323.8 877.7L1324.1 877.5L1324.4 877.4L1324.7 877.2L1324.9 877.0L1325.2 876.9L1325.5 876.7L1325.8 876.6L1326.1 876.4L1326.4 876.2L1326.7 876.1L1327.0 876.0L1327.3 875.8L1327.6 875.7L1327.9 875.5L1328.1 875.4L1328.4 875.3L1328.7 875.2L1329.0 875.0L1329.3 874.9L1329.6 874.8L1329.9 874.7L1330.2 874.6L1330.5 874.5L1330.8 874.4L1331.1 874.3L1331.3 874.2L1331.6 874.1L1331.9 874.0L1332.2 873.9L1332.5 873.8L1332.8 873.8L1333.1 873.7L1333.4 873.6L1333.7 873.6L1334.0 873.5L1334.3 873.4L1334.6 873.4L1334.8 873.3L1335.1 873.3L1335.4 873.2L1335.7 873.2L1336.0 873.1L1336.3 873.1L1336.6 873.1L1336.9 873.0L1337.2 873.0L1337.5 873.0L1337.8 873.0L1338.0 873.0L1338.3 873.0L1338.6 872.9L1338.9 872.9L1339.2 872.9L1339.5 872.9L1339.8 872.9L1340.1 873.0L1340.4 873.0L1340.7 873.0L1341.0 873.0L1341.2 873.0L1341.5 873.0L1341.8 873.1L1342.1 873.1L1342.4 873.1L1342.7 873.2L1343.0 873.2L1343.3 873.3L1343.6 873.3L1343.9 873.4L1344.2 873.4L1344.4 873.5L1344.7 873.6L1345.0 873.6L1345.3 873.7L1345.6 873.8L1345.9 873.8L1346.2 873.9L1346.5 874.0L1346.8 874.1L1347.1 874.2L1347.4 874.3L1347.7 874.4L1347.9 874.5L1348.2 874.6L1348.5 874.7L1348.8 874.8L1349.1 874.9L1349.4 875.0L1349.7 875.2L1350.0 875.3L1350.3 875.4L1350.6 875.5L1350.9 875.7L1351.1 875.8L1351.4 876.0L1351.7 876.1L1352.0 876.2L1352.3 876.4L1352.6 876.6L1352.9 876.7L1353.2 876.9L1353.5 877.0L1353.8 877.2L1354.1 877.4L1354.3 877.5L1354.6 877.7L1354.9 877.9L1355.2 878.1L1355.5 878.3L1355.8 878.5L1356.1 878.7L1356.4 878.9L1356.7 879.1L1357.0 879.3L1357.3 879.5L1357.5 879.7L1357.8 879.9L1358.1 880.1L1358.4 880.3L1358.7 880.6L1359.0 880.8L1359.3 881.0L1359.6 881.2L1359.9 881.5L1360.2 881.7L1360.5 882.0L1360.7 882.2L1361.0 882.4L1361.3 882.7L1361.6 882.9L1361.9 883.2L1362.2 883.5L1362.5 883.7L1362.8 884.0L1363.1 884.3L1363.4 884.5L1363.7 884.8L1364.0 885.1L1364.2 885.4L1364.5 885.7L1364.8 885.9L1365.1 886.2L1365.4 886.5L1365.7 886.8L1366.0 887.1L1366.3 887.4L1366.6 887.7L1366.9 888.0L1367.2 888.3L1367.4 888.7L1367.7 889.0L1368.0 889.3L1368.3 889.6L1368.6 889.9L1368.9 890.3L1369.2 890.6L1369.5 890.9L1369.8 891.3L1370.1 891.6L1370.4 891.9L1370.6 892.3L1370.9 892.6L1371.2 893.0L1371.5 893.3L1371.8 893.7L1372.1 894.1L1372.4 894.4L1372.7 894.8L1373.0 895.1L1373.3 895.5L1373.6 895.9L1373.8 896.3L1374.1 896.6L1374.4 897.0L1374.7 897.4L1375.0 897.8L1375.3 898.2L1375.6 898.6L1375.9 898.9L1376.2 899.3L1376.5 899.7L1376.8 900.1L1377.1 900.5L1377.3 900.9L1377.6 901.3L1377.9 901.8L1378.2 902.2L1378.5 902.6L1378.8 903.0L1379.1 903.4L1379.4 903.8L1379.7 904.3L1380.0 904.7L1380.3 905.1L1380.5 905.5L1380.8 906.0L1381.1 906.4L1381.4 906.8L1381.7 907.3L1382.0 907.7L1382.3 908.2L1382.6 908.6L1382.9 909.1L1383.2 909.5L1383.5 910.0L1383.7 910.4L1384.0 910.9L1384.3 911.3L1384.6 911.8L1384.9 912.3L1385.2 912.7L1385.5 913.2L1385.8 913.7L1386.1 914.1L1386.4 914.6L1386.7 915.1L1386.9 915.5L1387.2 916.0L1387.5 916.5L1387.8 917.0L1388.1 917.5L1388.4 918.0L1388.7 918.4L1389.0 918.9L1389.3 919.4L1389.6 919.9L1389.9 920.4L1390.2 920.9L1390.4 921.4L1390.7 921.9L1391.0 922.4L1391.3 922.9L1391.6 923.4L1391.9 923.9L1392.2 924.4L1392.5 924.9L1392.8 925.4L1393.1 926.0L1393.4 926.5L1393.6 927.0L1393.9 927.5L1394.2 928.0L1394.5 928.5L1394.8 929.1L1395.1 929.6L1395.4 930.1L1395.7 930.6L1396.0 931.2L1396.3 931.7L1396.6 932.2L1396.8 932.7L1397.1 933.3L1397.4 933.8L1397.7 934.3L1398.0 934.9L1398.3 935.4L1398.6 936.0L1398.9 936.5L1399.2 937.0L1399.5 937.6L1399.8 938.1L1400.0 938.7L1400.3 939.2L1400.6 939.8L1400.9 940.3L1401.2 940.8L1401.5 941.4L1401.8 941.9L1402.1 942.5L1402.4 943.0L1402.7 943.6L1403.0 944.2L1403.3 944.7L1403.5 945.3L1403.8 945.8L1404.1 946.4L1404.4 946.9L1404.7 947.5L1405.0 948.1L1405.3 948.6L1405.6 949.2L1405.9 949.7L1406.2 950.3L1406.5 950.9L1406.7 951.4L1407.0 952.0L1407.3 952.6L1407.6 953.1L1407.9 953.7L1408.2 954.2L1408.5 954.8L1408.8 955.4L1409.1 955.9L1409.4 956.5L1409.7 957.1L1409.9 957.7L1410.2 958.2L1410.5 958.8L1410.8 959.4L1411.1 959.9L1411.4 960.5L1411.7 961.1L1412.0 961.6L1412.3 962.2L1412.6 962.8L1412.9 963.4L1413.1 963.9L1413.4 964.5L1413.7 965.1L1414.0 965.7L1414.3 966.2L1414.6 966.8L1414.9 967.4L1415.2 967.9L1415.5 968.5L1415.8 969.1L1416.1 969.7L1416.4 970.2L1416.6 970.8L1416.9 971.4L1417.2 972.0L1417.5 972.5L1417.8 973.1L1418.1 973.7L1418.4 974.2L1418.7 974.8L1419.0 975.4L1419.3 976.0L1419.6 976.5L1419.8 977.1L1420.1 977.7L1420.4 978.2L1420.7 978.8L1421.0 979.4L1421.3 979.9L1421.6 980.5L1421.9 981.1L1422.2 981.6L1422.5 982.2L1422.8 982.8L1423.0 983.3L1423.3 983.9L1423.6 984.5L1423.9 985.0L1424.2 985.6L1424.5 986.2L1424.8 986.7L1425.1 987.3L1425.4 987.9L1425.7 988.4L1426.0 989.0L1426.2 989.5L1426.5 990.1L1426.8 990.6L1427.1 991.2L1427.4 991.8L1427.7 992.3L1428.0 992.9L1428.3 993.4L1428.6 994.0L1428.9 994.5L1429.2 995.1L1429.4 995.6L1429.7 996.2L1430.0 996.7L1430.3 997.3L1430.6 997.8L1430.9 998.4L1431.2 998.9L1431.5 999.4L1431.8 1000.0L1432.1 1000.5L1432.4 1001.1L1432.7 1001.6L1432.9 1002.1L1433.2 1002.7L1433.5 1003.2L1433.8 1003.7L1434.1 1004.3L1434.4 1004.8L1434.7 1005.3L1435.0 1005.9L1435.3 1006.4L1435.6 1006.9L1435.9 1007.4L1436.1 1008.0L1436.4 1008.5L1436.7 1009.0L1437.0 1009.5L1437.3 1010.0L1437.6 1010.5L1437.9 1011.1L1438.2 1011.6L1438.5 1012.1L1438.8 1012.6L1439.1 1013.1L1439.3 1013.6L1439.6 1014.1L1439.9 1014.6L1440.2 1015.1L1440.5 1015.6L1440.8 1016.1L1441.1 1016.6L1441.4 1017.1L1441.7 1017.6L1442.0 1018.1L1442.3 1018.6L1442.5 1019.0L1442.8 1019.5L1443.1 1020.0L1443.4 1020.5L1443.7 1021.0L1444.0 1021.4L1444.3 1021.9L1444.6 1022.4L1444.9 1022.9L1445.2 1023.3L1445.5 1023.8L1445.8 1024.3L1446.0 1024.7L1446.3 1025.2L1446.6 1025.7L1446.9 1026.1L1447.2 1026.6L1447.5 1027.0L1447.8 1027.5L1448.1 1027.9L1448.4 1028.4L1448.7 1028.8L1449.0 1029.3L1449.2 1029.7L1449.5 1030.1L1449.8 1030.6L1450.1 1031.0L1450.4 1031.4L1450.7 1031.9L1451.0 1032.3L1451.3 1032.7L1451.6 1033.1L1451.9 1033.6L1452.2 1034.0L1452.4 1034.4L1452.7 1034.8L1453.0 1035.2L1453.3 1035.6L1453.6 1036.0L1453.9 1036.4L1454.2 1036.8L1454.5 1037.2L1454.8 1037.6L1455.1 1038.0L1455.4 1038.4L1455.6 1038.8L1455.9 1039.2L1456.2 1039.6L1456.5 1039.9L1456.8 1040.3L1457.1 1040.7L1457.4 1041.1L1457.7 1041.4L1458.0 1041.8L1458.3 1042.2L1458.6 1042.5L1458.9 1042.9L1459.1 1043.2L1459.4 1043.6L1459.7 1044.0L1460.0 1044.3L1460.3 1044.6L1460.6 1045.0L1460.9 1045.3L1461.2 1045.7L1461.5 1046.0L1461.8 1046.3L1462.1 1046.7L1462.3 1047.0L1462.6 1047.3L1462.9 1047.6L1463.2 1048.0L1463.5 1048.3L1463.8 1048.6L1464.1 1048.9L1464.4 1049.2L1464.7 1049.5L1465.0 1049.8L1465.3 1050.1L1465.5 1050.4L1465.8 1050.7L1466.1 1051.0L1466.4 1051.3L1466.7 1051.5L1467.0 1051.8L1467.3 1052.1L1467.6 1052.4L1467.9 1052.6L1468.2 1052.9L1468.5 1053.2L1468.7 1053.4L1469.0 1053.7L1469.3 1054.0L1469.6 1054.2L1469.9 1054.5L1470.2 1054.7L1470.5 1054.9L1470.8 1055.2L1471.1 1055.4L1471.4 1055.7L1471.7 1055.9L1472.0 1056.1L1472.2 1056.3L1472.5 1056.6L1472.8 1056.8L1473.1 1057.0L1473.4 1057.2L1473.7 1057.4L1474.0 1057.6L1474.3 1057.8L1474.6 1058.0L1474.9 1058.2L1475.2 1058.4L1475.4 1058.6L1475.7 1058.8L1476.0 1059.0L1476.3 1059.1L1476.6 1059.3L1476.9 1059.5L1477.2 1059.7L1477.5 1059.8L1477.8 1060.0L1478.1 1060.2L1478.4 1060.3L1478.6 1060.5L1478.9 1060.6L1479.2 1060.8L1479.5 1060.9L1479.8 1061.0L1480.1 1061.2L1480.4 1061.3L1480.7 1061.4L1481.0 1061.6L1481.3 1061.7L1481.6 1061.8L1481.8 1061.9L1482.1 1062.0L1482.4 1062.1L1482.7 1062.3L1483.0 1062.4L1483.3 1062.5L1483.6 1062.6L1483.9 1062.6L1484.2 1062.7L1484.5 1062.8L1484.8 1062.9L1485.0 1063.0L1485.3 1063.1L1485.6 1063.1L1485.9 1063.2L1486.2 1063.3L1486.5 1063.3L1486.8 1063.4L1487.1 1063.4L1487.4 1063.5L1487.7 1063.5L1488.0 1063.6L1488.3 1063.6L1488.5 1063.7L1488.8 1063.7L1489.1 1063.7L1489.4 1063.8L1489.7 1063.8L1490.0 1063.8L1490.3 1063.8L1490.6 1063.8L1490.9 1063.8L1491.2 1063.9L1491.5 1063.9L1491.7 1063.9L1492.0 1063.9L1492.3 1063.9L1492.6 1063.8L1492.9 1063.8L1493.2 1063.8L1493.5 1063.8L1493.8 1063.8L1494.1 1063.7L1494.4 1063.7L1494.7 1063.7L1494.9 1063.6L1495.2 1063.6L1495.5 1063.6L1495.8 1063.5L1496.1 1063.5L1496.4 1063.4L1496.7 1063.3L1497.0 1063.3L1497.3 1063.2L1497.6 1063.1L1497.9 1063.1L1498.1 1063.0L1498.4 1062.9L1498.7 1062.8L1499.0 1062.8L1499.3 1062.7L1499.6 1062.6L1499.9 1062.5L1500.2 1062.4L1500.5 1062.3L1500.8 1062.2L1501.1 1062.1L1501.4 1061.9L1501.6 1061.8L1501.9 1061.7L1502.2 1061.6L1502.5 1061.5L1502.8 1061.3L1503.1 1061.2L1503.4 1061.1L1503.7 1060.9L1504.0 1060.8L1504.3 1060.6L1504.6 1060.5L1504.8 1060.3L1505.1 1060.2L1505.4 1060.0L1505.7 1059.9L1506.0 1059.7L1506.3 1059.5L1506.6 1059.4L1506.9 1059.2L1507.2 1059.0L1507.5 1058.8L1507.8 1058.6L1508.0 1058.4L1508.3 1058.3L1508.6 1058.1L1508.9 1057.9L1509.2 1057.7L1509.5 1057.5L1509.8 1057.2L1510.1 1057.0L1510.4 1056.8L1510.7 1056.6L1511.0 1056.4L1511.2 1056.2L1511.5 1055.9L1511.8 1055.7L1512.1 1055.5L1512.4 1055.2L1512.7 1055.0L1513.0 1054.8L1513.3 1054.5L1513.6 1054.3L1513.9 1054.0L1514.2 1053.7L1514.5 1053.5L1514.7 1053.2L1515.0 1053.0L1515.3 1052.7L1515.6 1052.4L1515.9 1052.2L1516.2 1051.9L1516.5 1051.6L1516.8 1051.3L1517.1 1051.0L1517.4 1050.7L1517.7 1050.5L1517.9 1050.2L1518.2 1049.9L1518.5 1049.6L1518.8 1049.3L1519.1 1049.0L1519.4 1048.6L1519.7 1048.3L1520.0 1048.0L1520.3 1047.7L1520.6 1047.4L1520.9 1047.1L1521.1 1046.7L1521.4 1046.4L1521.7 1046.1L1522.0 1045.7L1522.3 1045.4L1522.6 1045.1L1522.9 1044.7L1523.2 1044.4L1523.5 1044.0L1523.8 1043.7L1524.1 1043.3L1524.3 1043.0L1524.6 1042.6L1524.9 1042.2L1525.2 1041.9L1525.5 1041.5L1525.8 1041.1L1526.1 1040.8L1526.4 1040.4L1526.7 1040.0L1527.0 1039.6L1527.3 1039.3L1527.6 1038.9L1527.8 1038.5L1528.1 1038.1L1528.4 1037.7L1528.7 1037.3L1529.0 1036.9L1529.3 1036.5L1529.6 1036.1L1529.9 1035.7L1530.2 1035.3L1530.5 1034.9L1530.8 1034.5L1531.0 1034.1L1531.3 1033.6L1531.6 1033.2L1531.9 1032.8L1532.2 1032.4L1532.5 1031.9L1532.8 1031.5L1533.1 1031.1L1533.4 1030.7L1533.7 1030.2L1534.0 1029.8L1534.2 1029.3L1534.5 1028.9L1534.8 1028.5L1535.1 1028.0L1535.4 1027.6L1535.7 1027.1L1536.0 1026.7L1536.3 1026.2L1536.6 1025.7L1536.9 1025.3L1537.2 1024.8L1537.4 1024.4L1537.7 1023.9L1538.0 1023.4L1538.3 1023.0L1538.6 1022.5L1538.9 1022.0L1539.2 1021.5L1539.5 1021.1L1539.8 1020.6L1540.1 1020.1L1540.4 1019.6L1540.6 1019.1L1540.9 1018.7L1541.2 1018.2L1541.5 1017.7L1541.8 1017.2L1542.1 1016.7L1542.4 1016.2L1542.7 1015.7L1543.0 1015.2L1543.3 1014.7L1543.6 1014.2L1543.9 1013.7L1544.1 1013.2L1544.4 1012.7L1544.7 1012.2L1545.0 1011.7L1545.3 1011.2L1545.6 1010.6L1545.9 1010.1L1546.2 1009.6L1546.5 1009.1L1546.8 1008.6L1547.1 1008.1L1547.3 1007.5L1547.6 1007.0L1547.9 1006.5L1548.2 1006.0L1548.5 1005.4L1548.8 1004.9L1549.1 1004.4L1549.4 1003.8L1549.7 1003.3L1550.0 1002.8L1550.3 1002.2L1550.5 1001.7L1550.8 1001.2L1551.1 1000.6L1551.4 1000.1L1551.7 999.5L1552.0 999.0L1552.3 998.5L1552.6 997.9L1552.9 997.4L1553.2 996.8L1553.5 996.3L1553.7 995.7L1554.0 995.2L1554.3 994.6L1554.6 994.1L1554.9 993.5L1555.2 993.0L1555.5 992.4L1555.8 991.9L1556.1 991.3L1556.4 990.8L1556.7 990.2L1557.0 989.6L1557.2 989.1L1557.5 988.5L1557.8 988.0L1558.1 987.4L1558.4 986.8L1558.7 986.3L1559.0 985.7L1559.3 985.2L1559.6 984.6L1559.9 984.0L1560.2 983.5L1560.4 982.9L1560.7 982.3L1561.0 981.8L1561.3 981.2L1561.6 980.6L1561.9 980.1L1562.2 979.5L1562.5 978.9L1562.8 978.3L1563.1 977.8L1563.4 977.2L1563.6 976.6L1563.9 976.1L1564.2 975.5L1564.5 974.9L1564.8 974.4L1565.1 973.8L1565.4 973.2L1565.7 972.6L1566.0 972.1L1566.3 971.5L1566.6 970.9L1566.8 970.3L1567.1 969.8L1567.4 969.2L1567.7 968.6L1568.0 968.1L1568.3 967.5L1568.6 966.9L1568.9 966.3L1569.2 965.8L1569.5 965.2L1569.8 964.6L1570.1 964.0L1570.3 963.5L1570.6 962.9L1570.9 962.3L1571.2 961.8L1571.5 961.2L1571.8 960.6L1572.1 960.0L1572.4 959.5L1572.7 958.9L1573.0 958.3L1573.3 957.8L1573.5 957.2L1573.8 956.6L1574.1 956.1L1574.4 955.5L1574.7 954.9L1575.0 954.4L1575.3 953.8L1575.6 953.2L1575.9 952.7L1576.2 952.1L1576.5 951.5L1576.7 951.0L1577.0 950.4L1577.3 949.8L1577.6 949.3L1577.9 948.7L1578.2 948.2L1578.5 947.6L1578.8 947.0L1579.1 946.5L1579.4 945.9L1579.7 945.4L1579.9 944.8L1580.2 944.3L1580.5 943.7L1580.8 943.2L1581.1 942.6L1581.4 942.1L1581.7 941.5L1582.0 941.0L1582.3 940.4L1582.6 939.9L1582.9 939.3L1583.2 938.8L1583.4 938.2L1583.7 937.7L1584.0 937.1L1584.3 936.6L1584.6 936.1L1584.9 935.5L1585.2 935.0L1585.5 934.4L1585.8 933.9L1586.1 933.4L1586.4 932.8L1586.6 932.3L1586.9 931.8L1587.2 931.3L1587.5 930.7L1587.8 930.2L1588.1 929.7L1588.4 929.2L1588.7 928.6L1589.0 928.1L1589.3 927.6L1589.6 927.1L1589.8 926.6L1590.1 926.1L1590.4 925.5L1590.7 925.0L1591.0 924.5L1591.3 924.0L1591.6 923.5L1591.9 923.0L1592.2 922.5L1592.5 922.0L1592.8 921.5L1593.0 921.0L1593.3 920.5L1593.6 920.0L1593.9 919.5L1594.2 919.0L1594.5 918.5L1594.8 918.0L1595.1 917.6L1595.4 917.1L1595.7 916.6L1596.0 916.1L1596.2 915.6L1596.5 915.2L1596.8 914.7L1597.1 914.2L1597.4 913.7L1597.7 913.3L1598.0 912.8L1598.3 912.3L1598.6 911.9L1598.9 911.4L1599.2 911.0L1599.5 910.5L1599.7 910.1L1600.0 909.6L1600.3 909.1L1600.6 908.7L1600.9 908.3L1601.2 907.8L1601.5 907.4L1601.8 906.9L1602.1 906.5L1602.4 906.1L1602.7 905.6L1602.9 905.2L1603.2 904.8L1603.5 904.3L1603.8 903.9L1604.1 903.5L1604.4 903.1L1604.7 902.7L1605.0 902.2L1605.3 901.8L1605.6 901.4L1605.9 901.0L1606.1 900.6L1606.4 900.2L1606.7 899.8L1607.0 899.4L1607.3 899.0L1607.6 898.6L1607.9 898.2L1608.2 897.9L1608.5 897.5L1608.8 897.1L1609.1 896.7L1609.3 896.3L1609.6 896.0L1609.9 895.6L1610.2 895.2L1610.5 894.8L1610.8 894.5L1611.1 894.1L1611.4 893.8L1611.7 893.4L1612.0 893.1L1612.3 892.7L1612.6 892.4L1612.8 892.0L1613.1 891.7L1613.4 891.3L1613.7 891.0L1614.0 890.7L1614.3 890.3L1614.6 890.0L1614.9 889.7L1615.2 889.4L1615.5 889.0L1615.8 888.7L1616.0 888.4L1616.3 888.1L1616.6 887.8L1616.9 887.5L1617.2 887.2L1617.5 886.9L1617.8 886.6L1618.1 886.3L1618.4 886.0L1618.7 885.7L1619.0 885.4L1619.2 885.1L1619.5 884.9L1619.8 884.6L1620.1 884.3L1620.4 884.0L1620.7 883.8L1621.0 883.5L1621.3 883.3L1621.6 883.0L1621.9 882.7L1622.2 882.5L1622.4 882.2L1622.7 882.0L1623.0 881.8L1623.3 881.5L1623.6 881.3L1623.9 881.1L1624.2 880.8L1624.5 880.6L1624.8 880.4L1625.1 880.2L1625.4 879.9L1625.7 879.7L1625.9 879.5L1626.2 879.3L1626.5 879.1L1626.8 878.9L1627.1 878.7L1627.4 878.5L1627.7 878.3L1628.0 878.1L1628.3 877.9L1628.6 877.8L1628.9 877.6L1629.1 877.4L1629.4 877.2L1629.7 877.1L1630.0 876.9L1630.3 876.7L1630.6 876.6L1630.9 876.4L1631.2 876.3L1631.5 876.1L1631.8 876.0L1632.1 875.8L1632.3 875.7L1632.6 875.6L1632.9 875.4L1633.2 875.3L1633.5 875.2L1633.8 875.1L1634.1 874.9L1634.4 874.8L1634.7 874.7L1635.0 874.6L1635.3 874.5L1635.5 874.4L1635.8 874.3L1636.1 874.2L1636.4 874.1L1636.7 874.0L1637.0 873.9L1637.3 873.9L1637.6 873.8L1637.9 873.7L1638.2 873.6L1638.5 873.6L1638.8 873.5L1639.0 873.4L1639.3 873.4L1639.6 873.3L1639.9 873.3L1640.2 873.2L1640.5 873.2L1640.8 873.2L1641.1 873.1L1641.4 873.1L1641.7 873.1L1642.0 873.0L1642.2 873.0L1642.5 873.0L1642.8 873.0L1643.1 873.0L1643.4 872.9L1643.7 872.9L1644.0 872.9L1644.3 872.9L1644.6 872.9L1644.9 873.0L1645.2 873.0L1645.4 873.0L1645.7 873.0L1646.0 873.0L1646.3 873.0L1646.6 873.1L1646.9 873.1L1647.2 873.1L1647.5 873.2L1647.8 873.2L1648.1 873.3L1648.4 873.3L1648.6 873.4L1648.9 873.4L1649.2 873.5L1649.5 873.5L1649.8 873.6L1650.1 873.7L1650.4 873.8L1650.7 873.8L1651.0 873.9L1651.3 874.0L1651.6 874.1L1651.8 874.2L1652.1 874.3L1652.4 874.4L1652.7 874.5L1653.0 874.6L1653.3 874.7L1653.6 874.8L1653.9 874.9L1654.2 875.0L1654.5 875.1L1654.8 875.3L1655.1 875.4L1655.3 875.5L1655.6 875.6L1655.9 875.8L1656.2 875.9L1656.5 876.1L1656.8 876.2L1657.1 876.4L1657.4 876.5L1657.7 876.7L1658.0 876.8L1658.3 877.0L1658.5 877.2L1658.8 877.3L1659.1 877.5L1659.4 877.7L1659.7 877.9L1660.0 878.1L1660.3 878.2L1660.6 878.4L1660.9 878.6L1661.2 878.8L1661.5 879.0L1661.7 879.2L1662.0 879.4L1662.3 879.6L1662.6 879.8L1662.9 880.1L1663.2 880.3L1663.5 880.5L1663.8 880.7L1664.1 881.0L1664.4 881.2L1664.7 881.4L1664.9 881.7L1665.2 881.9L1665.5 882.1L1665.8 882.4L1666.1 882.6L1666.4 882.9L1666.7 883.2L1667.0 883.4L1667.3 883.7L1667.6 883.9L1667.9 884.2L1668.2 884.5L1668.4 884.8L1668.7 885.0L1669.0 885.3L1669.3 885.6L1669.6 885.9L1669.9 886.2L1670.2 886.5L1670.5 886.8L1670.8 887.1L1671.1 887.4L1671.4 887.7L1671.6 888.0L1671.9 888.3L1672.2 888.6L1672.5 888.9L1672.8 889.2L1673.1 889.5L1673.4 889.9L1673.7 890.2L1674.0 890.5L1674.3 890.9L1674.6 891.2L1674.8 891.5L1675.1 891.9L1675.4 892.2L1675.7 892.6L1676.0 892.9L1676.3 893.3L1676.6 893.6L1676.9 894.0L1677.2 894.3L1677.5 894.7L1677.8 895.1L1678.0 895.4L1678.3 895.8L1678.6 896.2L1678.9 896.6L1679.2 896.9L1679.5 897.3L1679.8 897.7L1680.1 898.1L1680.4 898.5L1680.7 898.9L1681.0 899.3L1681.3 899.7L1681.5 900.1L1681.8 900.5L1682.1 900.9L1682.4 901.3L1682.7 901.7L1683.0 902.1L1683.3 902.5L1683.6 902.9L1683.9 903.3L1684.2 903.8L1684.5 904.2L1684.7 904.6L1685.0 905.0L1685.3 905.5L1685.6 905.9L1685.9 906.3L1686.2 906.8L1686.5 907.2L1686.8 907.6L1687.1 908.1L1687.4 908.5L1687.7 909.0L1687.9 909.4L1688.2 909.9L1688.5 910.3L1688.8 910.8L1689.1 911.2L1689.4 911.7L1689.7 912.2L1690.0 912.6L1690.3 913.1L1690.6 913.6L1690.9 914.0L1691.1 914.5L1691.4 915.0L1691.7 915.4L1692.0 915.9L1692.3 916.4L1692.6 916.9L1692.9 917.4L1693.2 917.9L1693.5 918.3L1693.8 918.8L1694.1 919.3L1694.4 919.8L1694.6 920.3L1694.9 920.8L1695.2 921.3L1695.5 921.8L1695.8 922.3L1696.1 922.8L1696.4 923.3L1696.7 923.8L1697.0 924.3L1697.3 924.8L1697.6 925.3L1697.8 925.9L1698.1 926.4L1698.4 926.9L1698.7 927.4L1699.0 927.9L1699.3 928.4L1699.6 929.0L1699.9 929.5L1700.2 930.0L1700.5 930.5L1700.8 931.1L1701.0 931.6L1701.3 932.1L1701.6 932.6L1701.9 933.2L1702.2 933.7L1702.5 934.2L1702.8 934.8L1703.1 935.3L1703.4 935.8L1703.7 936.4L1704.0 936.9L1704.2 937.5L1704.5 938.0L1704.8 938.6L1705.1 939.1L1705.4 939.6L1705.7 940.2L1706.0 940.7L1706.3 941.3L1706.6 941.8L1706.9 942.4L1707.2 942.9L1707.5 943.5L1707.7 944.0L1708.0 944.6L1708.3 945.2L1708.6 945.7L1708.9 946.3L1709.2 946.8L1709.5 947.4L1709.8 947.9" stroke="#ff0000" stroke-width="8.0" stroke-dasharray="40.48 15.15 10.18 15.15" stroke-dashoffset="1.7"/>
<path d="M1270.8 953.0L1271.1 952.7L1271.4 952.5L1271.7 952.3L1272.0 952.1L1272.3 951.8L1272.5 951.6L1272.8 951.4L1273.1 951.2L1273.4 950.9L1273.7 950.7L1274.0 950.5L1274.3 950.3L1274.6 950.0L1274.9 949.8L1275.2 949.6L1275.5 949.4L1275.7 949.2L1276.0 949.0L1276.3 948.7L1276.6 948.5L1276.9 948.3L1277.2 948.1L1277.5 947.9L1277.8 947.7L1278.1 947.5L1278.4 947.2L1278.7 947.0L1279.0 946.8L1279.2 946.6L1279.5 946.4L1279.8 946.2L1280.1 946.0L1280.4 945.8L1280.7 945.6L1281.0 945.4L1281.3 945.2L1281.6 945.0L1281.9 944.8L1282.2 944.6L1282.4 944.4L1282.7 944.2L1283.0 944.0L1283.3 943.8L1283.6 943.6L1283.9 943.4L1284.2 943.2L1284.5 943.0L1284.8 942.8L1285.1 942.6L1285.4 942.4L1285.6 942.2L1285.9 942.0L1286.2 941.9L1286.5 941.7L1286.8 941.5L1287.1 941.3L1287.4 941.1L1287.7 940.9L1288.0 940.7L1288.3 940.6L1288.6 940.4L1288.8 940.2L1289.1 940.0L1289.4 939.8L1289.7 939.7L1290.0 939.5L1290.3 939.3L1290.6 939.1L1290.9 939.0L1291.2 938.8L1291.5 938.6L1291.8 938.5L1292.1 938.3L1292.3 938.1L1292.6 938.0L1292.9 937.8L1293.2 937.6L1293.5 937.5L1293.8 937.3L1294.1 937.2L1294.4 937.0L1294.7 936.8L1295.0 936.7L1295.3 936.5L1295.5 936.4L1295.8 936.2L1296.1 936.1L1296.4 935.9L1296.7 935.8L1297.0 935.6L1297.3 935.5L1297.6 935.3L1297.9 935.2L1298.2 935.0L1298.5 934.9L1298.7 934.7L1299.0 934.6L1299.3 934.5L1299.6 934.3L1299.9 934.2L1300.2 934.1L1300.5 933.9L1300.8 933.8L1301.1 933.7L1301.4 933.5L1301.7 933.4L1301.9 933.3L1302.2 933.1L1302.5 933.0L1302.8 932.9L1303.1 932.8L1303.4 932.7L1303.7 932.5L1304.0 932.4L1304.3 932.3L1304.6 932.2L1304.9 932.1L1305.1 932.0L1305.4 931.8L1305.7 931.7L1306.0 931.6L1306.3 931.5L1306.6 931.4L1306.9 931.3L1307.2 931.2L1307.5 931.1L1307.8 931.0L1308.1 930.9L1308.4 930.8L1308.6 930.7L1308.9 930.6L1309.2 930.5L1309.5 930.4L1309.8 930.3L1310.1 930.2L1310.4 930.1L1310.7 930.0L1311.0 930.0L1311.3 929.9L1311.6 929.8L1311.8 929.7L1312.1 929.6L1312.4 929.5L1312.7 929.5L1313.0 929.4L1313.3 929.3L1313.6 929.2L1313.9 929.2L1314.2 929.1L1314.5 929.0L1314.8 929.0L1315.0 928.9L1315.3 928.8L1315.6 928.8L1315.9 928.7L1316.2 928.6L1316.5 928.6L1316.8 928.5L1317.1 928.5L1317.4 928.4L1317.7 928.4L1318.0 928.3L1318.2 928.3L1318.5 928.2L1318.8 928.2L1319.1 928.1L1319.4 928.1L1319.7 928.0L1320.0 928.0L1320.3 927.9L1320.6 927.9L1320.9 927.9L1321.2 927.8L1321.5 927.8L1321.7 927.7L1322.0 927.7L1322.3 927.7L1322.6 927.7L1322.9 927.6L1323.2 927.6L1323.5 927.6L1323.8 927.6L1324.1 927.5L1324.4 927.5L1324.7 927.5L1324.9 927.5L1325.2 927.5L1325.5 927.4L1325.8 927.4L1326.1 927.4L1326.4 927.4L1326.7 927.4L1327.0 927.4L1327.3 927.4L1327.6 927.4L1327.9 927.4L1328.1 927.4L1328.4 927.4L1328.7 927.4L1329.0 927.4L1329.3 927.4L1329.6 927.4L1329.9 927.4L1330.2 927.4L1330.5 927.4L1330.8 927.4L1331.1 927.4L1331.3 927.5L1331.6 927.5L1331.9 927.5L1332.2 927.5L1332.5 927.5L1332.8 927.6L1333.1 927.6L1333.4 927.6L1333.7 927.6L1334.0 927.7L1334.3 927.7L1334.6 927.7L1334.8 927.7L1335.1 927.8L1335.4 927.8L1335.7 927.9L1336.0 927.9L1336.3 927.9L1336.6 928.0L1336.9 928.0L1337.2 928.1L1337.5 928.1L1337.8 928.2L1338.0 928.2L1338.3 928.3L1338.6 928.3L1338.9 928.4L1339.2 928.4L1339.5 928.5L1339.8 928.5L1340.1 928.6L1340.4 928.6L1340.7 928.7L1341.0 928.8L1341.2 928.8L1341.5 928.9L1341.8 929.0L1342.1 929.0L1342.4 929.1L1342.7 929.2L1343.0 929.2L1343.3 929.3L1343.6 929.4L1343.9 929.5L1344.2 929.5L1344.4 929.6L1344.7 929.7L1345.0 929.8L1345.3 929.9L1345.6 930.0L1345.9 930.0L1346.2 930.1L1346.5 930.2L1346.8 930.3L1347.1 930.4L1347.4 930.5L1347.7 930.6L1347.9 930.7L1348.2 930.8L1348.5 930.9L1348.8 931.0L1349.1 931.1L1349.4 931.2L1349.7 931.3L1350.0 931.4L1350.3 931.5L1350.6 931.6L1350.9 931.7L1351.1 931.8L1351.4 932.0L1351.7 932.1L1352.0 932.2L1352.3 932.3L1352.6 932.4L1352.9 932.5L1353.2 932.7L1353.5 932.8L1353.8 932.9L1354.1 933.0L1354.3 933.1L1354.6 933.3L1354.9 933.4L1355.2 933.5L1355.5 933.7L1355.8 933.8L1356.1 933.9L1356.4 934.1L1356.7 934.2L1357.0 934.3L1357.3 934.5L1357.5 934.6L1357.8 934.7L1358.1 934.9L1358.4 935.0L1358.7 935.2L1359.0 935.3L1359.3 935.5L1359.6 935.6L1359.9 935.8L1360.2 935.9L1360.5 936.1L1360.7 936.2L1361.0 936.4L1361.3 936.5L1361.6 936.7L1361.9 936.8L1362.2 937.0L1362.5 937.2L1362.8 937.3L1363.1 937.5L1363.4 937.6L1363.7 937.8L1364.0 938.0L1364.2 938.1L1364.5 938.3L1364.8 938.5L1365.1 938.6L1365.4 938.8L1365.7 939.0L1366.0 939.1L1366.3 939.3L1366.6 939.5L1366.9 939.7L1367.2 939.8L1367.4 940.0L1367.7 940.2L1368.0 940.4L1368.3 940.6L1368.6 940.7L1368.9 940.9L1369.2 941.1L1369.5 941.3L1369.8 941.5L1370.1 941.7L1370.4 941.9L1370.6 942.0L1370.9 942.2L1371.2 942.4L1371.5 942.6L1371.8 942.8L1372.1 943.0L1372.4 943.2L1372.7 943.4L1373.0 943.6L1373.3 943.8L1373.6 944.0L1373.8 944.2L1374.1 944.4L1374.4 944.6L1374.7 944.8L1375.0 945.0L1375.3 945.2L1375.6 945.4L1375.9 945.6L1376.2 945.8L1376.5 946.0L1376.8 946.2L1377.1 946.4L1377.3 946.6L1377.6 946.8L1377.9 947.0L1378.2 947.2L1378.5 947.5L1378.8 947.7L1379.1 947.9L1379.4 948.1L1379.7 948.3L1380.0 948.5L1380.3 948.7L1380.5 949.0L1380.8 949.2L1381.1 949.4L1381.4 949.6L1381.7 949.8L1382.0 950.0L1382.3 950.3L1382.6 950.5L1382.9 950.7L1383.2 950.9L1383.5 951.2L1383.7 951.4L1384.0 951.6L1384.3 951.8L1384.6 952.1L1384.9 952.3L1385.2 952.5L1385.5 952.7L1385.8 953.0L1386.1 953.2L1386.4 953.4L1386.7 953.6L1386.9 953.9L1387.2 954.1L1387.5 954.3L1387.8 954.6L1388.1 954.8L1388.4 955.0L1388.7 955.3L1389.0 955.5L1389.3 955.7L1389.6 956.0L1389.9 956.2L1390.2 956.4L1390.4 956.7L1390.7 956.9L1391.0 957.1L1391.3 957.4L1391.6 957.6L1391.9 957.9L1392.2 958.1L1392.5 958.3L1392.8 958.6L1393.1 958.8L1393.4 959.1L1393.6 959.3L1393.9 959.5L1394.2 959.8L1394.5 960.0L1394.8 960.3L1395.1 960.5L1395.4 960.7L1395.7 961.0L1396.0 961.2L1396.3 961.5L1396.6 961.7L1396.8 962.0L1397.1 962.2L1397.4 962.4L1397.7 962.7L1398.0 962.9L1398.3 963.2L1398.6 963.4L1398.9 963.7L1399.2 963.9L1399.5 964.1L1399.8 964.4L1400.0 964.6L1400.3 964.9L1400.6 965.1L1400.9 965.4L1401.2 965.6L1401.5 965.9L1401.8 966.1L1402.1 966.4L1402.4 966.6L1402.7 966.8L1403.0 967.1L1403.3 967.3L1403.5 967.6L1403.8 967.8L1404.1 968.1L1404.4 968.3L1404.7 968.6L1405.0 968.8L1405.3 969.1L1405.6 969.3L1405.9 969.6L1406.2 969.8L1406.5 970.0L1406.7 970.3L1407.0 970.5L1407.3 970.8L1407.6 971.0L1407.9 971.3L1408.2 971.5L1408.5 971.8L1408.8 972.0L1409.1 972.3L1409.4 972.5L1409.7 972.7L1409.9 973.0L1410.2 973.2L1410.5 973.5L1410.8 973.7L1411.1 974.0L1411.4 974.2L1411.7 974.5L1412.0 974.7L1412.3 974.9L1412.6 975.2L1412.9 975.4L1413.1 975.7L1413.4 975.9L1413.7 976.2L1414.0 976.4L1414.3 976.6L1414.6 976.9L1414.9 977.1L1415.2 977.4L1415.5 977.6L1415.8 977.8L1416.1 978.1L1416.4 978.3L1416.6 978.6L1416.9 978.8L1417.2 979.0L1417.5 979.3L1417.8 979.5L1418.1 979.7L1418.4 980.0L1418.7 980.2L1419.0 980.5L1419.3 980.7L1419.6 980.9L1419.8 981.2L1420.1 981.4L1420.4 981.6L1420.7 981.9L1421.0 982.1L1421.3 982.3L1421.6 982.6L1421.9 982.8L1422.2 983.0L1422.5 983.2L1422.8 983.5L1423.0 983.7L1423.3 983.9L1423.6 984.2L1423.9 984.4L1424.2 984.6L1424.5 984.8L1424.8 985.1L1425.1 985.3L1425.4 985.5L1425.7 985.7L1426.0 986.0L1426.2 986.2L1426.5 986.4L1426.8 986.6L1427.1 986.8L1427.4 987.1L1427.7 987.3L1428.0 987.5L1428.3 987.7L1428.6 987.9L1428.9 988.1L1429.2 988.4L1429.4 988.6L1429.7 988.8L1430.0 989.0L1430.3 989.2L1430.6 989.4L1430.9 989.6L1431.2 989.9L1431.5 990.1L1431.8 990.3L1432.1 990.5L1432.4 990.7L1432.7 990.9L1432.9 991.1L1433.2 991.3L1433.5 991.5L1433.8 991.7L1434.1 991.9L1434.4 992.1L1434.7 992.3L1435.0 992.5L1435.3 992.7L1435.6 992.9L1435.9 993.1L1436.1 993.3L1436.4 993.5L1436.7 993.7L1437.0 993.9L1437.3 994.1L1437.6 994.3L1437.9 994.5L1438.2 994.6L1438.5 994.8L1438.8 995.0L1439.1 995.2L1439.3 995.4L1439.6 995.6L1439.9 995.8L1440.2 995.9L1440.5 996.1L1440.8 996.3L1441.1 996.5L1441.4 996.7L1441.7 996.8L1442.0 997.0L1442.3 997.2L1442.5 997.4L1442.8 997.5L1443.1 997.7L1443.4 997.9L1443.7 998.1L1444.0 998.2L1444.3 998.4L1444.6 998.6L1444.9 998.7L1445.2 998.9L1445.5 999.1L1445.8 999.2L1446.0 999.4L1446.3 999.5L1446.6 999.7L1446.9 999.9L1447.2 1000.0L1447.5 1000.2L1447.8 1000.3L1448.1 1000.5L1448.4 1000.6L1448.7 1000.8L1449.0 1000.9L1449.2 1001.1L1449.5 1001.2L1449.8 1001.4L1450.1 1001.5L1450.4 1001.7L1450.7 1001.8L1451.0 1002.0L1451.3 1002.1L1451.6 1002.2L1451.9 1002.4L1452.2 1002.5L1452.4 1002.7L1452.7 1002.8L1453.0 1002.9L1453.3 1003.1L1453.6 1003.2L1453.9 1003.3L1454.2 1003.4L1454.5 1003.6L1454.8 1003.7L1455.1 1003.8L1455.4 1003.9L1455.6 1004.1L1455.9 1004.2L1456.2 1004.3L1456.5 1004.4L1456.8 1004.5L1457.1 1004.7L1457.4 1004.8L1457.7 1004.9L1458.0 1005.0L1458.3 1005.1L1458.6 1005.2L1458.9 1005.3L1459.1 1005.4L1459.4 1005.5L1459.7 1005.6L1460.0 1005.7L1460.3 1005.9L1460.6 1005.9L1460.9 1006.0L1461.2 1006.1L1461.5 1006.2L1461.8 1006.3L1462.1 1006.4L1462.3 1006.5L1462.6 1006.6L1462.9 1006.7L1463.2 1006.8L1463.5 1006.9L1463.8 1007.0L1464.1 1007.0L1464.4 1007.1L1464.7 1007.2L1465.0 1007.3L1465.3 1007.4L1465.5 1007.4L1465.8 1007.5L1466.1 1007.6L1466.4 1007.7L1466.7 1007.7L1467.0 1007.8L1467.3 1007.9L1467.6 1007.9L1467.9 1008.0L1468.2 1008.1L1468.5 1008.1L1468.7 1008.2L1469.0 1008.2L1469.3 1008.3L1469.6 1008.4L1469.9 1008.4L1470.2 1008.5L1470.5 1008.5L1470.8 1008.6L1471.1 1008.6L1471.4 1008.7L1471.7 1008.7L1472.0 1008.8L1472.2 1008.8L1472.5 1008.8L1472.8 1008.9L1473.1 1008.9L1473.4 1009.0L1473.7 1009.0L1474.0 1009.0L1474.3 1009.1L1474.6 1009.1L1474.9 1009.1L1475.2 1009.2L1475.4 1009.2L1475.7 1009.2L1476.0 1009.2L1476.3 1009.3L1476.6 1009.3L1476.9 1009.3L1477.2 1009.3L1477.5 1009.3L1477.8 1009.4L1478.1 1009.4L1478.4 1009.4L1478.6 1009.4L1478.9 1009.4L1479.2 1009.4L1479.5 1009.4L1479.8 1009.4L1480.1 1009.4L1480.4 1009.4L1480.7 1009.4L1481.0 1009.4L1481.3 1009.4L1481.6 1009.4L1481.8 1009.4L1482.1 1009.4L1482.4 1009.4L1482.7 1009.4L1483.0 1009.4L1483.3 1009.4L1483.6 1009.4L1483.9 1009.3L1484.2 1009.3L1484.5 1009.3L1484.8 1009.3L1485.0 1009.3L1485.3 1009.2L1485.6 1009.2L1485.9 1009.2L1486.2 1009.2L1486.5 1009.1L1486.8 1009.1L1487.1 1009.1L1487.4 1009.0L1487.7 1009.0L1488.0 1009.0L1488.3 1008.9L1488.5 1008.9L1488.8 1008.9L1489.1 1008.8L1489.4 1008.8L1489.7 1008.7L1490.0 1008.7L1490.3 1008.6L1490.6 1008.6L1490.9 1008.5L1491.2 1008.5L1491.5 1008.4L1491.7 1008.4L1492.0 1008.3L1492.3 1008.3L1492.6 1008.2L1492.9 1008.1L1493.2 1008.1L1493.5 1008.0L1493.8 1007.9L1494.1 1007.9L1494.4 1007.8L1494.7 1007.7L1494.9 1007.7L1495.2 1007.6L1495.5 1007.5L1495.8 1007.5L1496.1 1007.4L1496.4 1007.3L1496.7 1007.2L1497.0 1007.1L1497.3 1007.1L1497.6 1007.0L1497.9 1006.9L1498.1 1006.8L1498.4 1006.7L1498.7 1006.6L1499.0 1006.5L1499.3 1006.4L1499.6 1006.4L1499.9 1006.3L1500.2 1006.2L1500.5 1006.1L1500.8 1006.0L1501.1 1005.9L1501.4 1005.8L1501.6 1005.7L1501.9 1005.6L1502.2 1005.5L1502.5 1005.4L1502.8 1005.2L1503.1 1005.1L1503.4 1005.0L1503.7 1004.9L1504.0 1004.8L1504.3 1004.7L1504.6 1004.6L1504.8 1004.5L1505.1 1004.3L1505.4 1004.2L1505.7 1004.1L1506.0 1004.0L1506.3 1003.9L1506.6 1003.7L1506.9 1003.6L1507.2 1003.5L1507.5 1003.3L1507.8 1003.2L1508.0 1003.1L1508.3 1003.0L1508.6 1002.8L1508.9 1002.7L1509.2 1002.5L1509.5 1002.4L1509.8 1002.3L1510.1 1002.1L1510.4 1002.0L1510.7 1001.9L1511.0 1001.7L1511.2 1001.6L1511.5 1001.4L1511.8 1001.3L1512.1 1001.1L1512.4 1001.0L1512.7 1000.8L1513.0 1000.7L1513.3 1000.5L1513.6 1000.4L1513.9 1000.2L1514.2 1000.1L1514.5 999.9L1514.7 999.7L1515.0 999.6L1515.3 999.4L1515.6 999.3L1515.9 999.1L1516.2 998.9L1516.5 998.8L1516.8 998.6L1517.1 998.4L1517.4 998.3L1517.7 998.1L1517.9 997.9L1518.2 997.8L1518.5 997.6L1518.8 997.4L1519.1 997.2L1519.4 997.1L1519.7 996.9L1520.0 996.7L1520.3 996.5L1520.6 996.3L1520.9 996.2L1521.1 996.0L1521.4 995.8L1521.7 995.6L1522.0 995.4L1522.3 995.2L1522.6 995.1L1522.9 994.9L1523.2 994.7L1523.5 994.5L1523.8 994.3L1524.1 994.1L1524.3 993.9L1524.6 993.7L1524.9 993.5L1525.2 993.3L1525.5 993.1L1525.8 992.9L1526.1 992.7L1526.4 992.5L1526.7 992.4L1527.0 992.2L1527.3 991.9L1527.6 991.7L1527.8 991.5L1528.1 991.3L1528.4 991.1L1528.7 990.9L1529.0 990.7L1529.3 990.5L1529.6 990.3L1529.9 990.1L1530.2 989.9L1530.5 989.7L1530.8 989.5L1531.0 989.3L1531.3 989.0L1531.6 988.8L1531.9 988.6L1532.2 988.4L1532.5 988.2L1532.8 988.0L1533.1 987.8L1533.4 987.5L1533.7 987.3L1534.0 987.1L1534.2 986.9L1534.5 986.7L1534.8 986.4L1535.1 986.2L1535.4 986.0L1535.7 985.8L1536.0 985.6L1536.3 985.3L1536.6 985.1L1536.9 984.9L1537.2 984.7L1537.4 984.4L1537.7 984.2L1538.0 984.0L1538.3 983.7L1538.6 983.5L1538.9 983.3L1539.2 983.1L1539.5 982.8L1539.8 982.6L1540.1 982.4L1540.4 982.1L1540.6 981.9L1540.9 981.7L1541.2 981.4L1541.5 981.2L1541.8 981.0L1542.1 980.7L1542.4 980.5L1542.7 980.3L1543.0 980.0L1543.3 979.8L1543.6 979.6L1543.9 979.3L1544.1 979.1L1544.4 978.8L1544.7 978.6L1545.0 978.4L1545.3 978.1L1545.6 977.9L1545.9 977.6L1546.2 977.4L1546.5 977.2L1546.8 976.9L1547.1 976.7L1547.3 976.4L1547.6 976.2L1547.9 976.0L1548.2 975.7L1548.5 975.5L1548.8 975.2L1549.1 975.0L1549.4 974.7L1549.7 974.5L1550.0 974.3L1550.3 974.0L1550.5 973.8L1550.8 973.5L1551.1 973.3L1551.4 973.0L1551.7 972.8L1552.0 972.6L1552.3 972.3L1552.6 972.1L1552.9 971.8L1553.2 971.6L1553.5 971.3L1553.7 971.1L1554.0 970.8L1554.3 970.6L1554.6 970.3L1554.9 970.1L1555.2 969.9L1555.5 969.6L1555.8 969.4L1556.1 969.1L1556.4 968.9L1556.7 968.6L1557.0 968.4L1557.2 968.1L1557.5 967.9L1557.8 967.6L1558.1 967.4L1558.4 967.1L1558.7 966.9L1559.0 966.7L1559.3 966.4L1559.6 966.2L1559.9 965.9L1560.2 965.7L1560.4 965.4L1560.7 965.2L1561.0 964.9L1561.3 964.7L1561.6 964.4L1561.9 964.2L1562.2 964.0L1562.5 963.7L1562.8 963.5L1563.1 963.2L1563.4 963.0L1563.6 962.7L1563.9 962.5L1564.2 962.2L1564.5 962.0L1564.8 961.8L1565.1 961.5L1565.4 961.3L1565.7 961.0L1566.0 960.8L1566.3 960.5L1566.6 960.3L1566.8 960.1L1567.1 959.8L1567.4 959.6L1567.7 959.3L1568.0 959.1L1568.3 958.9L1568.6 958.6L1568.9 958.4L1569.2 958.1L1569.5 957.9L1569.8 957.7L1570.1 957.4L1570.3 957.2L1570.6 957.0L1570.9 956.7L1571.2 956.5L1571.5 956.3L1571.8 956.0L1572.1 955.8L1572.4 955.5L1572.7 955.3L1573.0 955.1L1573.3 954.8L1573.5 954.6L1573.8 954.4L1574.1 954.2L1574.4 953.9L1574.7 953.7L1575.0 953.5L1575.3 953.2L1575.6 953.0L1575.9 952.8L1576.2 952.6L1576.5 952.3L1576.7 952.1L1577.0 951.9L1577.3 951.6L1577.6 951.4L1577.9 951.2L1578.2 951.0L1578.5 950.8L1578.8 950.5L1579.1 950.3L1579.4 950.1L1579.7 949.9L1579.9 949.7L1580.2 949.4L1580.5 949.2L1580.8 949.0L1581.1 948.8L1581.4 948.6L1581.7 948.4L1582.0 948.1L1582.3 947.9L1582.6 947.7L1582.9 947.5L1583.2 947.3L1583.4 947.1L1583.7 946.9L1584.0 946.7L1584.3 946.4L1584.6 946.2L1584.9 946.0L1585.2 945.8L1585.5 945.6L1585.8 945.4L1586.1 945.2L1586.4 945.0L1586.6 944.8L1586.9 944.6L1587.2 944.4L1587.5 944.2L1587.8 944.0L1588.1 943.8L1588.4 943.6L1588.7 943.4L1589.0 943.2L1589.3 943.0L1589.6 942.8L1589.8 942.6L1590.1 942.5L1590.4 942.3L1590.7 942.1L1591.0 941.9L1591.3 941.7L1591.6 941.5L1591.9 941.3L1592.2 941.1L1592.5 941.0L1592.8 940.8L1593.0 940.6L1593.3 940.4L1593.6 940.2L1593.9 940.1L1594.2 939.9L1594.5 939.7L1594.8 939.5L1595.1 939.4L1595.4 939.2L1595.7 939.0L1596.0 938.8L1596.2 938.7L1596.5 938.5L1596.8 938.3L1597.1 938.2L1597.4 938.0L1597.7 937.8L1598.0 937.7L1598.3 937.5L1598.6 937.3L1598.9 937.2L1599.2 937.0L1599.5 936.9L1599.7 936.7L1600.0 936.6L1600.3 936.4L1600.6 936.2L1600.9 936.1L1601.2 935.9L1601.5 935.8L1601.8 935.6L1602.1 935.5L1602.4 935.4L1602.7 935.2L1602.9 935.1L1603.2 934.9L1603.5 934.8L1603.8 934.6L1604.1 934.5L1604.4 934.4L1604.7 934.2L1605.0 934.1L1605.3 934.0L1605.6 933.8L1605.9 933.7L1606.1 933.6L1606.4 933.4L1606.7 933.3L1607.0 933.2L1607.3 933.0L1607.6 932.9L1607.9 932.8L1608.2 932.7L1608.5 932.6L1608.8 932.4L1609.1 932.3L1609.3 932.2L1609.6 932.1L1609.9 932.0L1610.2 931.9L1610.5 931.8L1610.8 931.6L1611.1 931.5L1611.4 931.4L1611.7 931.3L1612.0 931.2L1612.3 931.1L1612.6 931.0L1612.8 930.9L1613.1 930.8L1613.4 930.7L1613.7 930.6L1614.0 930.5L1614.3 930.4L1614.6 930.3L1614.9 930.2L1615.2 930.2L1615.5 930.1L1615.8 930.0L1616.0 929.9L1616.3 929.8L1616.6 929.7L1616.9 929.6L1617.2 929.6L1617.5 929.5L1617.8 929.4L1618.1 929.3L1618.4 929.3L1618.7 929.2L1619.0 929.1L1619.2 929.0L1619.5 929.0L1619.8 928.9L1620.1 928.8L1620.4 928.8L1620.7 928.7L1621.0 928.7L1621.3 928.6L1621.6 928.5L1621.9 928.5L1622.2 928.4L1622.4 928.4L1622.7 928.3L1623.0 928.3L1623.3 928.2L1623.6 928.2L1623.9 928.1L1624.2 928.1L1624.5 928.0L1624.8 928.0L1625.1 927.9L1625.4 927.9L1625.7 927.9L1625.9 927.8L1626.2 927.8L1626.5 927.8L1626.8 927.7L1627.1 927.7L1627.4 927.7L1627.7 927.6L1628.0 927.6L1628.3 927.6L1628.6 927.6L1628.9 927.5L1629.1 927.5L1629.4 927.5L1629.7 927.5L1630.0 927.5L1630.3 927.4L1630.6 927.4L1630.9 927.4L1631.2 927.4L1631.5 927.4L1631.8 927.4L1632.1 927.4L1632.3 927.4L1632.6 927.4L1632.9 927.4L1633.2 927.4L1633.5 927.4L1633.8 927.4L1634.1 927.4L1634.4 927.4L1634.7 927.4L1635.0 927.4L1635.3 927.4L1635.5 927.4L1635.8 927.4L1636.1 927.5L1636.4 927.5L1636.7 927.5L1637.0 927.5L1637.3 927.5L1637.6 927.5L1637.9 927.6L1638.2 927.6L1638.5 927.6L1638.8 927.6L1639.0 927.7L1639.3 927.7L1639.6 927.7L1639.9 927.8L1640.2 927.8L1640.5 927.8L1640.8 927.9L1641.1 927.9L1641.4 928.0L1641.7 928.0L1642.0 928.1L1642.2 928.1L1642.5 928.1L1642.8 928.2L1643.1 928.2L1643.4 928.3L1643.7 928.3L1644.0 928.4L1644.3 928.5L1644.6 928.5L1644.9 928.6L1645.2 928.6L1645.4 928.7L1645.7 928.8L1646.0 928.8L1646.3 928.9L1646.6 928.9L1646.9 929.0L1647.2 929.1L1647.5 929.2L1647.8 929.2L1648.1 929.3L1648.4 929.4L1648.6 929.5L1648.9 929.5L1649.2 929.6L1649.5 929.7L1649.8 929.8L1650.1 929.9L1650.4 929.9L1650.7 930.0L1651.0 930.1L1651.3 930.2L1651.6 930.3L1651.8 930.4L1652.1 930.5L1652.4 930.6L1652.7 930.7L1653.0 930.8L1653.3 930.9L1653.6 931.0L1653.9 931.1L1654.2 931.2L1654.5 931.3L1654.8 931.4L1655.1 931.5L1655.3 931.6L1655.6 931.7L1655.9 931.8L1656.2 931.9L1656.5 932.0L1656.8 932.2L1657.1 932.3L1657.4 932.4L1657.7 932.5L1658.0 932.6L1658.3 932.8L1658.5 932.9L1658.8 933.0L1659.1 933.1L1659.4 933.3L1659.7 933.4L1660.0 933.5L1660.3 933.6L1660.6 933.8L1660.9 933.9L1661.2 934.0L1661.5 934.2L1661.7 934.3L1662.0 934.4L1662.3 934.6L1662.6 934.7L1662.9 934.9L1663.2 935.0L1663.5 935.1L1663.8 935.3L1664.1 935.4L1664.4 935.6L1664.7 935.7L1664.9 935.9L1665.2 936.0L1665.5 936.2L1665.8 936.3L1666.1 936.5L1666.4 936.7L1666.7 936.8L1667.0 937.0L1667.3 937.1L1667.6 937.3L1667.9 937.4L1668.2 937.6L1668.4 937.8L1668.7 937.9L1669.0 938.1L1669.3 938.3L1669.6 938.4L1669.9 938.6L1670.2 938.8L1670.5 938.9L1670.8 939.1L1671.1 939.3L1671.4 939.5L1671.6 939.6L1671.9 939.8L1672.2 940.0L1672.5 940.2L1672.8 940.3L1673.1 940.5L1673.4 940.7L1673.7 940.9L1674.0 941.1L1674.3 941.3L1674.6 941.4L1674.8 941.6L1675.1 941.8L1675.4 942.0L1675.7 942.2L1676.0 942.4L1676.3 942.6L1676.6 942.8L1676.9 943.0L1677.2 943.1L1677.5 943.3L1677.8 943.5L1678.0 943.7L1678.3 943.9L1678.6 944.1L1678.9 944.3L1679.2 944.5L1679.5 944.7L1679.8 944.9L1680.1 945.1L1680.4 945.3L1680.7 945.5L1681.0 945.7L1681.3 946.0L1681.5 946.2L1681.8 946.4L1682.1 946.6L1682.4 946.8L1682.7 947.0L1683.0 947.2L1683.3 947.4L1683.6 947.6L1683.9 947.8L1684.2 948.1L1684.5 948.3L1684.7 948.5L1685.0 948.7L1685.3 948.9L1685.6 949.1L1685.9 949.3L1686.2 949.6L1686.5 949.8L1686.8 950.0L1687.1 950.2L1687.4 950.4L1687.7 950.7L1687.9 950.9L1688.2 951.1L1688.5 951.3L1688.8 951.6L1689.1 951.8L1689.4 952.0L1689.7 952.2L1690.0 952.5L1690.3 952.7L1690.6 952.9L1690.9 953.1L1691.1 953.4L1691.4 953.6L1691.7 953.8L1692.0 954.1L1692.3 954.3L1692.6 954.5L1692.9 954.8L1693.2 955.0L1693.5 955.2L1693.8 955.5L1694.1 955.7L1694.4 955.9L1694.6 956.2L1694.9 956.4L1695.2 956.6L1695.5 956.9L1695.8 957.1L1696.1 957.3L1696.4 957.6L1696.7 957.8L1697.0 958.1L1697.3 958.3L1697.6 958.5L1697.8 958.8L1698.1 959.0L1698.4 959.2L1698.7 959.5L1699.0 959.7L1699.3 960.0L1699.6 960.2L1699.9 960.5L1700.2 960.7L1700.5 960.9L1700.8 961.2L1701.0 961.4L1701.3 961.7L1701.6 961.9L1701.9 962.1L1702.2 962.4L1702.5 962.6L1702.8 962.9L1703.1 963.1L1703.4 963.4L1703.7 963.6L1704.0 963.9L1704.2 964.1L1704.5 964.3L1704.8 964.6L1705.1 964.8L1705.4 965.1L1705.7 965.3L1706.0 965.6L1706.3 965.8L1706.6 966.1L1706.9 966.3L1707.2 966.6L1707.5 966.8L1707.7 967.0L1708.0 967.3L1708.3 967.5L1708.6 967.8L1708.9 968.0L1709.2 968.3L1709.5 968.5L1709.8 968.8" stroke="#0000ff" stroke-width="9.7"/>
</g>
<rect x="1372" y="850" width="231.40" height="63.60" fill="#fff"/>
<text transform="translate(1410.96 896.71) scale(0.953 1)" font-size="55.7" fill="#000" font-weight="bold">Inset 2</text>
<text transform="translate(1214.89 898.25) scale(0.92 1)" font-size="59" fill="#262626">1</text>
<text transform="translate(1217.58 986.38) scale(0.92 1)" font-size="59" fill="#262626">0</text>
<text transform="translate(1200.16 1076.25) scale(0.92 1)" font-size="59" fill="#262626">-1</text>
<text transform="translate(1242.55 1154.58) scale(0.92 1)" font-size="59" fill="#262626">60</text>
<text transform="translate(1533.82 1154.57) scale(0.92 1)" font-size="59" fill="#262626">80</text>
<path d="M418.70 555.70L475.96 461.37" stroke="#000" stroke-width="6.3" stroke-linecap="round" fill="none"/>
<path d="M493.60 432.30L490.14 481.08L474.40 463.93L451.92 457.89Z" fill="#000"/>
<path d="M1150.40 732.60L1229.30 812.42" stroke="#000" stroke-width="6.3" stroke-linecap="round" fill="none"/>
<path d="M1253.20 836.60L1206.72 821.37L1227.19 810.29L1238.52 789.95Z" fill="#000"/>
<text transform="translate(149.75 72.42)" font-size="71" fill="#262626">20</text>
<text transform="translate(149.75 362.52)" font-size="71" fill="#262626">10</text>
<text transform="translate(183.43 652.50)" font-size="71" fill="#262626">0</text>
<text transform="translate(123.25 941.60)" font-size="71" fill="#262626">-10</text>
<text transform="translate(123.25 1231.60)" font-size="71" fill="#262626">-20</text>
<text transform="translate(234.25 1305.39)" font-size="70.5" fill="#262626">0</text>
<text transform="translate(736.91 1305.48)" font-size="70.5" fill="#262626">50</text>
<text transform="translate(1241.23 1305.48)" font-size="70.5" fill="#262626">100</text>
<text transform="translate(1760.73 1305.48)" font-size="70.5" fill="#262626">150</text>
<text transform="translate(912.33 1405.30)" font-size="77" fill="#262626">time (s)</text>
<text transform="translate(77.1 906) rotate(-90)" font-size="77" fill="#262626">yaw attitude <tspan font-style="italic" font-size="83" dx="-1.95">ψ</tspan> <tspan dx="2.45">(</tspan><tspan dx="2">°</tspan><tspan dx="2">)</tspan></text>
</svg>
</body></html>
